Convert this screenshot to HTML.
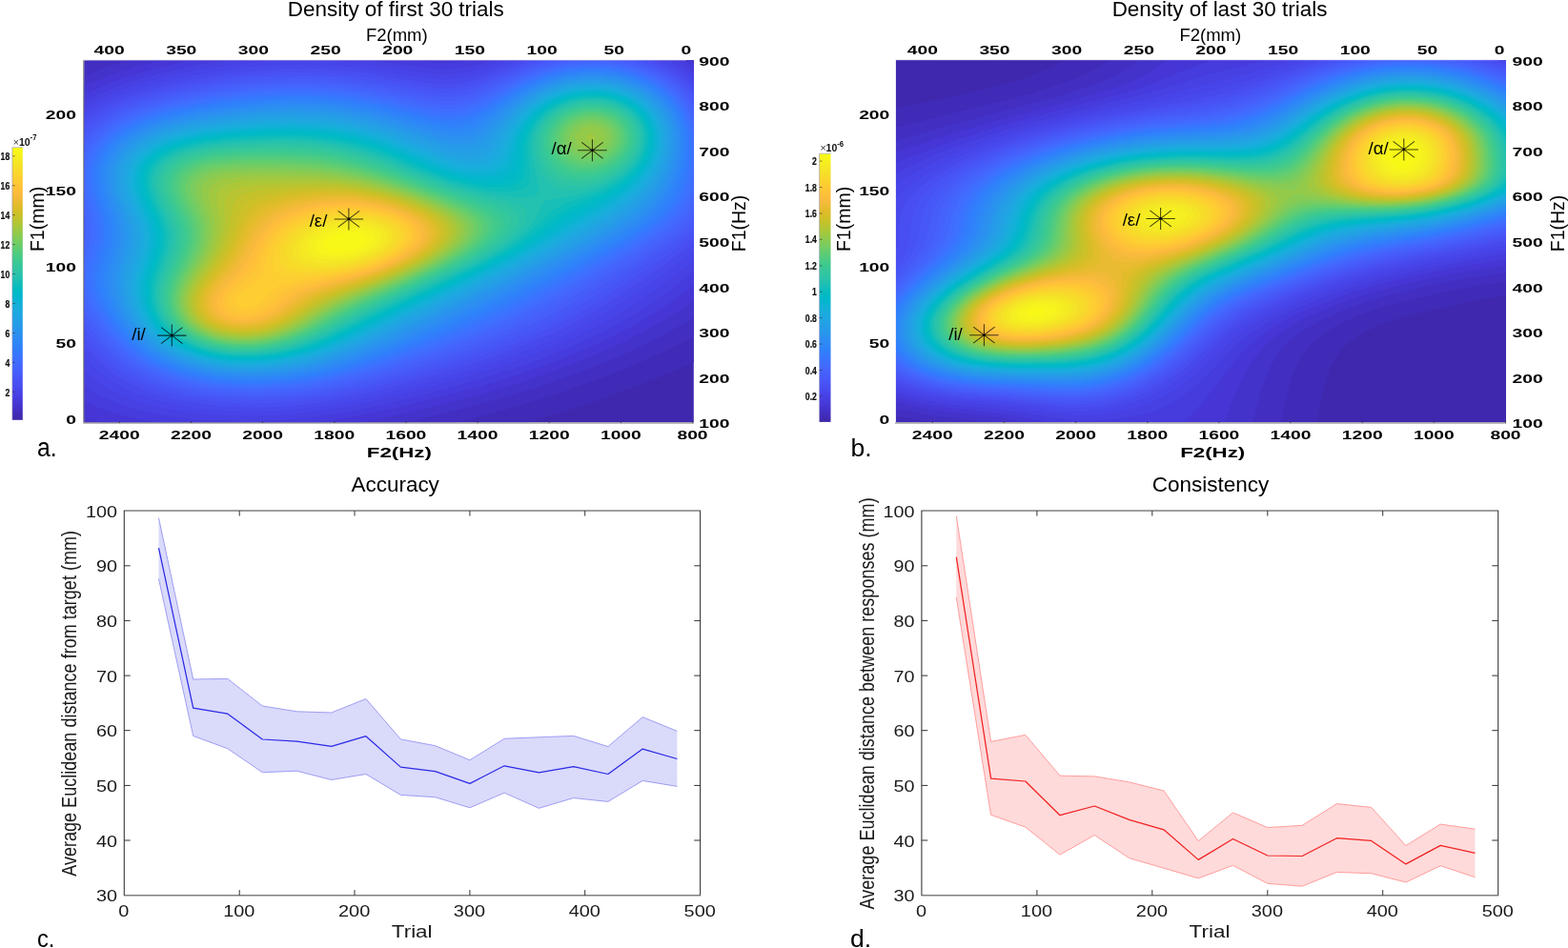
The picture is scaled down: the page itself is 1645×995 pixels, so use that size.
<!DOCTYPE html>
<html lang="en"><head><meta charset="utf-8"><title>Density, accuracy and consistency</title>
<style>html,body{margin:0;padding:0;background:#fff}body{width:1645px;height:995px;overflow:hidden}svg{display:block}text{font-family:'Liberation Sans', 'Noto Sans CJK SC', sans-serif;white-space:pre}</style></head>
<body>
<svg width="1645" height="995" viewBox="0 0 1645 995" role="img" aria-label="Density of first and last 30 trials, accuracy and consistency">
<rect width="1645" height="995" fill="#fff"/>
<g>
<rect x="88.4" y="63.3" width="639.4" height="379.9" fill="#3f28ae"/>
<svg x="88.4" y="63.3" width="639.4" height="379.9" viewBox="88.4 63.3 639.4 379.9" overflow="hidden"><g transform="scale(.5)" shape-rendering="auto" fill-rule="evenodd"><path fill="#402bb8" d="M177 127l1280 0 0 633 -40 18 -44 18 -44 17 -40 15 -36 13 -48 16 -52 16 -47 14 -929 0z"/><path fill="#422fc2" d="M184 131l10 -4 1263 0 0 579 -52 26 -52 24 -56 24 -64 24 -68 24 -68 21 -68 19 -72 19 -780 0 0 -754z"/><path fill="#4433cb" d="M256 131l13 -4 1188 0 0 538 -28 17 -28 16 -28 15 -32 16 -36 16 -36 16 -32 12 -40 15 -36 13 -44 15 -40 12 -44 13 -88 23 -96 23 -672 0 0 -727 40 -16z"/><path fill="#4536d5" d="M320 131l15 -4 1122 0 0 503 -30 21 -30 19 -32 18 -32 17 -40 20 -36 16 -36 15 -44 17 -44 16 -48 16 -52 16 -44 12 -60 16 -52 12 -52 12 -60 12 -7 2 -545 0 -20 -6 -16 -5 0 -695 36 -16 32 -12 36 -12z"/><path fill="#463bdc" d="M382 131l20 -4 471 0 36 4 28 1 28 -2 25 -3 448 0 19 12 0 459 -33 25 -31 22 -32 20 -30 18 -34 18 -40 19 -36 16 -40 17 -44 16 -44 16 -48 15 -44 13 -56 15 -64 16 -52 13 -56 12 -56 10 -48 8 -339 0 -37 -7 -36 -8 -32 -9 -28 -11 -20 -10 0 -644 20 -10 20 -9 24 -9 24 -9 28 -8 28 -8 32 -8z"/><path fill="#4740e3" d="M448 131l27 -4 313 0 101 14 24 3 24 1 24 -2 20 -2 24 -6 29 -8 385 0 20 12 18 13 0 418 -40 31 -32 23 -28 20 -31 19 -33 19 -32 17 -36 17 -36 16 -40 16 -44 17 -44 14 -44 14 -52 15 -60 17 -64 16 -48 11 -44 9 -40 7 -32 5 -36 5 -36 3 -40 3 -36 1 -36 0 -36 -2 -40 -2 -36 -4 -36 -5 -32 -6 -28 -7 -28 -9 -24 -9 -16 -7 -14 -7 -14 -10 -12 -9 0 -595 24 -13 28 -12 28 -11 36 -12 36 -10 40 -9 40 -9z"/><path fill="#4744e9" d="M531 131l34 -3 31 -1 70 0 35 1 40 4 36 4 116 17 24 3 20 0 26 -1 26 -5 28 -8 46 -15 339 0 15 8 16 10 12 8 12 10 0 384 -44 34 -40 29 -28 19 -28 19 -32 19 -32 18 -32 16 -32 15 -40 17 -40 15 -44 16 -40 13 -52 16 -52 15 -60 16 -52 12 -40 9 -40 8 -40 7 -36 5 -36 4 -36 3 -36 1 -36 0 -40 -1 -36 -2 -36 -4 -32 -5 -28 -6 -32 -7 -28 -9 -24 -10 -21 -10 -20 -12 -10 -8 -9 -8 -16 -15 0 -549 12 -7 16 -9 32 -15 20 -8 20 -7 44 -13 48 -12 56 -11 52 -8z"/><path fill="#4849ed" d="M1075 131l11 -4 299 0 20 9 20 12 16 12 16 14 0 354 -56 41 -64 45 -36 24 -32 20 -32 18 -32 17 -36 17 -36 15 -36 14 -40 15 -48 16 -60 18 -72 20 -60 16 -52 12 -44 9 -40 7 -40 5 -36 4 -40 2 -40 1 -36 -1 -40 -3 -36 -3 -32 -5 -36 -8 -28 -7 -24 -8 -24 -10 -20 -10 -20 -12 -18 -14 -17 -16 -17 -19 0 -508 4 -3 12 -7 16 -10 28 -13 16 -7 20 -7 36 -12 44 -11 48 -11 52 -9 48 -7 44 -4 48 -3 48 -1 44 2 44 3 40 5 36 5 68 11 24 3 24 3 20 0 12 -1 16 -2 25 -5 27 -9z"/><path fill="#484ef1" d="M1096 131l11 -4 261 0 25 11 12 6 12 7 20 16 10 8 10 10 0 325 -28 21 -36 26 -64 44 -40 27 -32 20 -28 16 -32 17 -32 16 -36 16 -36 15 -36 13 -44 16 -52 16 -64 19 -60 17 -60 15 -44 10 -40 7 -44 7 -36 4 -36 2 -40 1 -36 -1 -36 -1 -36 -4 -32 -5 -36 -7 -28 -7 -24 -8 -24 -10 -20 -10 -20 -12 -16 -11 -18 -16 -16 -16 -18 -21 0 -473 19 -14 25 -15 28 -13 32 -12 36 -11 44 -11 44 -10 52 -9 44 -6 44 -5 48 -2 48 -1 44 1 40 3 44 5 40 7 64 11 24 3 24 2 20 1 16 -1 12 -2 15 -3 13 -4 24 -8z"/><path fill="#4853f5" d="M1115 131l13 -4 223 0 14 5 16 7 16 8 13 8 15 10 11 10 13 11 8 9 0 299 -28 22 -36 26 -92 61 -52 34 -32 19 -32 17 -32 16 -32 15 -36 15 -36 14 -44 15 -40 13 -60 19 -60 17 -56 15 -40 10 -40 8 -40 7 -36 5 -40 3 -36 2 -36 0 -36 -1 -32 -3 -32 -4 -36 -6 -32 -8 -24 -7 -24 -9 -20 -9 -20 -11 -20 -13 -16 -13 -16 -16 -16 -16 -20 -25 0 -441 16 -13 16 -11 24 -13 28 -13 28 -10 36 -11 40 -10 48 -10 48 -9 40 -5 44 -5 48 -3 48 0 44 1 40 3 44 6 36 5 64 12 28 4 24 3 24 0 16 -2 12 -2 12 -2 16 -5 24 -9 60 -25z"/><path fill="#4758f8" d="M1134 131l15 -4 183 0 21 6 16 6 20 10 16 9 16 12 12 10 12 12 12 14 0 273 -14 12 -18 14 -40 28 -116 76 -56 34 -32 18 -34 18 -34 16 -36 15 -36 14 -44 16 -48 16 -52 17 -52 15 -48 14 -44 11 -36 8 -36 7 -36 5 -36 4 -36 2 -36 1 -32 0 -36 -3 -32 -3 -32 -5 -28 -6 -28 -7 -24 -9 -20 -8 -20 -10 -20 -12 -16 -11 -16 -14 -16 -16 -16 -17 -24 -30 0 -412 11 -10 10 -8 11 -8 16 -10 16 -9 12 -5 32 -13 36 -12 40 -10 52 -11 52 -9 52 -7 48 -4 36 -1 36 -1 36 1 32 2 36 4 40 5 32 6 60 11 28 5 28 2 16 0 12 -1 20 -4 24 -7 20 -8 68 -29 24 -9z"/><path fill="#465dfa" d="M1154 131l18 -4 139 0 22 5 20 7 20 8 16 8 18 12 16 12 12 12 11 12 11 15 0 245 -12 12 -18 16 -21 16 -25 17 -40 26 -100 62 -36 22 -28 16 -36 19 -32 15 -36 16 -40 17 -44 16 -48 16 -60 20 -52 16 -40 11 -36 9 -36 9 -36 7 -32 5 -32 4 -32 2 -32 2 -32 0 -32 -2 -32 -2 -32 -5 -28 -5 -28 -6 -28 -9 -20 -8 -20 -9 -20 -11 -16 -11 -16 -12 -16 -15 -16 -16 -13 -16 -27 -34 0 -383 10 -11 14 -12 16 -12 16 -10 24 -12 16 -7 16 -6 36 -12 44 -11 48 -10 56 -9 48 -6 48 -4 36 -2 36 0 36 1 32 3 32 3 36 5 36 6 64 13 24 4 28 2 16 0 12 -1 20 -3 12 -4 12 -4 20 -8 48 -22 28 -12 28 -10z"/><path fill="#4562fc" d="M1176 131l26 -4 80 0 23 3 20 5 16 5 16 5 16 8 16 8 12 8 13 10 11 9 10 11 12 16 10 15 0 216 -7 9 -7 8 -17 16 -21 16 -28 20 -40 26 -120 72 -40 24 -36 19 -32 16 -36 17 -36 15 -40 16 -48 17 -56 19 -52 17 -52 15 -32 9 -32 8 -32 7 -32 6 -28 4 -32 3 -32 2 -32 1 -32 -1 -32 -2 -32 -3 -28 -5 -24 -5 -28 -8 -24 -8 -24 -10 -20 -11 -16 -10 -16 -12 -16 -14 -16 -16 -14 -16 -16 -20 -22 -30 0 -353 7 -9 7 -8 8 -8 9 -8 10 -8 11 -7 20 -12 28 -13 32 -11 36 -11 40 -9 48 -9 52 -8 48 -6 48 -3 36 -1 32 0 32 1 36 3 32 4 32 5 32 6 64 13 24 4 16 2 12 1 16 0 12 -1 20 -4 12 -3 12 -5 20 -8 60 -29 32 -14 32 -10z"/><path fill="#4367fd" d="M1207 131l18 -2 16 0 16 0 16 1 16 2 16 3 16 3 16 5 16 6 12 5 12 6 12 7 11 8 10 8 11 9 10 11 6 8 9 12 6 12 5 9 0 181 -5 10 -6 8 -9 11 -8 9 -12 11 -11 9 -13 10 -16 11 -24 16 -28 17 -128 76 -48 27 -44 23 -33 16 -35 15 -36 14 -44 17 -56 20 -56 19 -52 16 -40 11 -32 9 -28 6 -32 6 -28 4 -32 3 -28 2 -28 1 -28 0 -32 -1 -28 -3 -28 -4 -28 -5 -28 -8 -20 -6 -24 -9 -20 -10 -16 -9 -18 -12 -15 -12 -17 -16 -17 -20 -16 -20 -21 -28 -12 -19 0 -128 4 -17 1 -16 -1 -16 -4 -22 0 -120 5 -10 9 -12 10 -12 9 -8 11 -9 12 -9 12 -7 16 -9 28 -12 28 -9 36 -10 44 -10 48 -9 52 -7 52 -6 44 -2 32 -1 32 1 32 1 32 3 32 4 32 5 32 7 60 12 28 5 16 2 12 1 12 0 12 -1 20 -4 12 -3 12 -5 20 -9 64 -32 20 -9 20 -8 20 -6 20 -5 20 -4z"/><path fill="#406dfe" d="M1209 135l16 -2 16 0 28 1 16 2 16 2 12 3 16 4 12 4 16 7 12 5 12 7 10 7 11 8 10 8 9 8 13 16 10 16 7 16 6 15 0 136 -5 13 -5 12 -7 12 -9 12 -11 12 -13 12 -15 12 -15 11 -24 16 -32 20 -136 78 -60 33 -52 26 -36 17 -36 15 -44 17 -44 16 -48 17 -48 16 -44 14 -36 10 -32 8 -32 7 -28 5 -28 3 -32 3 -28 2 -28 0 -28 -1 -28 -2 -28 -3 -32 -5 -24 -6 -24 -7 -24 -9 -20 -9 -20 -11 -16 -11 -16 -12 -16 -14 -14 -16 -17 -20 -20 -28 -15 -24 -8 -16 -2 -5 0 -73 8 -24 4 -14 2 -16 1 -12 -1 -12 -2 -12 -12 -53 0 -56 5 -15 5 -12 10 -16 11 -12 12 -12 13 -10 16 -10 20 -11 28 -11 32 -11 36 -9 40 -9 48 -8 52 -7 48 -5 44 -3 32 0 32 1 32 2 32 3 32 4 32 6 32 6 60 14 24 4 16 2 12 1 12 0 12 -1 20 -4 12 -3 12 -5 20 -10 42 -22 22 -12 20 -9 20 -8 20 -6 24 -7 20 -4z"/><path fill="#3c72ff" d="M1210 139l15 -2 16 0 28 1 16 2 16 3 12 2 16 5 24 9 12 5 12 7 12 8 11 8 9 8 8 8 13 16 5 8 7 12 5 12 3 8 5 20 2 17 0 48 -3 27 -5 20 -5 16 -6 12 -7 12 -9 12 -11 12 -12 12 -15 12 -15 11 -24 16 -32 19 -112 63 -80 44 -56 28 -36 17 -36 15 -40 17 -52 19 -48 18 -44 15 -40 13 -36 10 -28 7 -28 7 -32 5 -28 4 -28 3 -28 2 -28 0 -24 0 -28 -2 -28 -3 -28 -4 -28 -6 -24 -7 -24 -9 -20 -8 -19 -10 -17 -11 -16 -13 -14 -12 -15 -16 -17 -20 -17 -24 -12 -20 -11 -20 -5 -12 -3 -12 -2 -12 0 -12 0 -8 3 -12 12 -40 3 -12 2 -16 0 -12 -1 -12 -2 -12 -11 -44 -4 -20 -1 -12 0 -12 1 -12 2 -8 5 -16 6 -12 8 -12 10 -12 12 -12 15 -12 16 -10 16 -8 28 -12 28 -9 40 -11 40 -8 52 -9 52 -7 44 -4 44 -2 32 0 32 1 28 2 32 3 32 4 36 7 88 20 28 5 16 2 12 1 12 0 12 -1 12 -2 8 -3 12 -4 12 -5 16 -8 60 -34 20 -10 20 -8 24 -9 20 -6 24 -5z"/><path fill="#3677fe" d="M1210 143l15 -2 16 0 28 1 28 4 16 3 12 4 24 9 12 5 12 7 12 7 8 6 9 8 8 8 7 8 7 8 5 8 7 12 3 8 5 12 5 20 1 12 1 12 0 12 0 16 -3 28 -5 24 -6 16 -5 12 -6 12 -9 12 -10 12 -12 12 -13 12 -17 12 -16 11 -20 13 -52 30 -132 72 -36 19 -40 20 -36 17 -36 16 -44 19 -44 17 -52 20 -44 16 -36 12 -36 11 -32 9 -28 7 -24 4 -28 5 -28 3 -24 2 -28 2 -28 0 -28 -1 -28 -3 -28 -4 -24 -4 -28 -7 -24 -8 -20 -9 -20 -10 -16 -9 -16 -12 -16 -13 -13 -13 -14 -16 -15 -20 -15 -24 -11 -20 -7 -16 -4 -12 -3 -16 0 -12 1 -8 2 -12 11 -37 4 -15 1 -16 0 -12 -1 -12 -2 -12 -12 -44 -4 -20 -1 -12 0 -8 1 -12 1 -8 5 -16 5 -12 7 -12 10 -12 12 -12 14 -11 15 -9 17 -10 28 -11 28 -10 36 -9 44 -9 52 -9 48 -6 48 -4 44 -2 32 0 32 1 32 2 28 3 32 5 32 6 32 7 60 15 24 5 16 2 12 1 12 0 12 -1 12 -2 8 -2 12 -5 12 -5 16 -9 42 -25 18 -11 20 -10 20 -9 24 -9 20 -5 24 -5z"/><path fill="#317dfc" d="M1208 147l29 -2 28 0 28 4 24 6 24 8 12 5 12 6 12 7 8 6 10 8 8 8 8 8 6 8 11 16 4 8 5 12 2 8 3 12 2 12 1 12 0 24 -1 12 -2 16 -5 24 -5 16 -5 12 -9 16 -8 12 -10 12 -12 12 -14 12 -15 12 -14 9 -20 13 -48 27 -132 72 -72 37 -40 19 -36 16 -40 18 -44 18 -52 20 -40 16 -36 12 -36 12 -32 10 -28 7 -24 5 -28 5 -28 4 -24 2 -28 2 -24 1 -28 -1 -28 -2 -28 -3 -28 -5 -24 -6 -24 -7 -20 -8 -21 -9 -19 -11 -16 -11 -16 -14 -13 -12 -14 -16 -15 -20 -13 -20 -11 -20 -7 -16 -4 -12 -2 -12 -1 -16 1 -12 2 -12 10 -36 4 -16 1 -16 0 -12 -1 -12 -3 -12 -11 -40 -5 -20 -1 -12 -1 -8 1 -12 1 -8 4 -16 5 -12 7 -12 9 -12 12 -12 13 -10 15 -10 17 -9 12 -6 16 -6 28 -10 36 -9 40 -8 48 -8 56 -7 48 -4 44 -2 32 0 32 1 28 3 32 3 32 5 32 7 32 7 56 15 24 5 16 3 12 1 12 0 12 -1 12 -2 8 -2 12 -4 12 -6 16 -9 39 -25 20 -12 21 -12 20 -9 24 -9 20 -6 24 -6z"/><path fill="#2f82fa" d="M1206 151l27 -3 24 1 28 2 24 5 24 8 12 5 12 5 20 12 16 13 8 8 7 8 6 8 6 8 8 16 3 8 4 12 3 20 1 12 0 12 -1 24 -5 24 -4 16 -6 16 -7 16 -7 12 -9 12 -11 12 -12 12 -16 13 -15 11 -17 11 -44 26 -92 50 -92 47 -40 20 -40 19 -80 36 -48 20 -52 21 -40 15 -36 13 -32 11 -28 8 -24 6 -28 6 -28 4 -24 4 -24 2 -24 1 -32 0 -28 -1 -24 -2 -28 -4 -24 -4 -28 -8 -24 -8 -20 -8 -20 -11 -16 -10 -16 -12 -14 -12 -14 -16 -13 -16 -13 -20 -12 -20 -7 -16 -5 -12 -4 -16 -1 -12 0 -12 1 -12 4 -16 10 -36 3 -16 0 -12 -1 -12 -3 -16 -13 -44 -4 -20 -2 -12 0 -8 1 -16 3 -16 5 -12 7 -12 8 -12 12 -12 12 -10 15 -10 15 -8 26 -12 28 -9 36 -10 40 -8 52 -8 56 -7 48 -4 44 -2 32 1 32 1 32 3 28 4 32 5 32 7 32 8 56 15 24 5 16 3 12 1 12 0 12 -1 12 -2 8 -3 8 -3 12 -6 16 -9 42 -29 18 -12 20 -11 19 -9 21 -9 20 -6 24 -6z"/><path fill="#2e87f7" d="M1204 155l25 -3 24 0 24 2 24 4 24 7 20 8 18 10 18 12 14 12 7 8 7 8 10 16 7 16 4 16 3 20 1 20 -3 24 -4 20 -4 16 -6 16 -8 16 -8 13 -11 15 -11 12 -13 12 -15 12 -17 12 -19 12 -22 13 -60 32 -100 53 -88 43 -88 41 -100 43 -40 16 -36 14 -28 10 -28 9 -28 8 -24 6 -28 6 -24 4 -24 3 -24 2 -32 1 -28 0 -28 -1 -28 -3 -28 -5 -24 -5 -24 -8 -24 -9 -20 -9 -16 -10 -16 -11 -18 -15 -15 -16 -13 -16 -11 -16 -11 -20 -7 -16 -5 -12 -4 -16 -2 -12 0 -12 1 -16 3 -12 11 -40 2 -16 0 -12 -1 -12 -2 -13 -4 -15 -10 -32 -5 -20 -2 -12 0 -8 1 -16 2 -12 5 -12 6 -12 8 -12 11 -12 10 -8 14 -10 16 -9 24 -11 16 -6 16 -5 36 -10 40 -8 52 -8 56 -6 48 -4 44 -2 32 1 32 2 28 2 32 5 32 5 28 7 32 8 60 17 24 5 24 4 12 0 12 0 12 -3 8 -2 8 -3 12 -6 16 -10 40 -29 17 -12 20 -12 19 -10 20 -9 24 -8 20 -5z"/><path fill="#2d8bf4" d="M1201 159l20 -3 24 -1 24 2 20 3 20 4 20 6 19 9 17 9 14 11 13 12 11 12 5 8 5 8 7 16 5 16 3 16 0 20 -1 20 -4 20 -6 20 -6 16 -8 16 -7 12 -11 14 -12 13 -14 13 -14 11 -16 12 -16 10 -20 12 -28 16 -76 40 -96 49 -92 44 -108 49 -52 22 -40 16 -56 21 -24 8 -28 8 -28 7 -24 5 -24 4 -24 3 -32 3 -28 1 -28 -1 -32 -2 -28 -4 -24 -4 -24 -7 -24 -8 -20 -8 -20 -11 -20 -12 -15 -12 -16 -16 -13 -16 -11 -16 -12 -20 -9 -20 -6 -16 -3 -16 -1 -12 0 -12 3 -16 10 -40 3 -12 1 -16 0 -12 -2 -12 -3 -12 -13 -44 -5 -16 -1 -12 -1 -8 0 -16 2 -12 4 -12 6 -12 8 -12 11 -12 11 -10 12 -8 16 -10 24 -11 16 -6 16 -5 36 -9 40 -8 52 -7 56 -7 48 -3 44 -1 32 0 32 2 32 4 28 4 32 6 32 7 28 8 56 17 24 6 16 3 12 1 12 1 12 -1 12 -3 8 -2 8 -4 12 -6 16 -12 34 -26 16 -12 22 -15 20 -11 20 -9 20 -7 20 -6z"/><path fill="#2c90f0" d="M1198 163l23 -3 20 -1 20 1 20 2 20 4 20 5 16 7 17 9 15 9 13 11 12 12 9 12 7 12 7 16 4 16 2 16 0 16 -2 20 -3 16 -6 20 -7 16 -8 16 -8 13 -11 15 -12 12 -13 12 -15 12 -17 12 -18 12 -22 12 -60 33 -96 49 -96 47 -124 57 -56 25 -44 19 -32 12 -28 11 -24 8 -24 7 -24 7 -24 5 -24 5 -20 3 -28 3 -32 2 -32 0 -28 -2 -24 -2 -28 -5 -28 -6 -24 -8 -20 -8 -21 -10 -19 -12 -16 -12 -12 -12 -15 -16 -11 -16 -12 -20 -8 -16 -6 -16 -4 -16 -2 -12 0 -12 1 -16 4 -16 7 -28 3 -12 2 -12 0 -12 -1 -12 -3 -16 -4 -12 -12 -36 -4 -16 -2 -12 0 -8 0 -16 2 -12 4 -12 6 -12 9 -12 10 -11 11 -9 12 -8 13 -8 24 -11 16 -6 16 -5 32 -8 40 -8 52 -8 56 -6 48 -3 48 -1 32 0 28 2 32 4 28 4 32 6 32 8 32 9 56 18 24 6 16 3 12 2 12 0 12 -1 12 -2 8 -3 8 -4 8 -5 16 -12 32 -27 15 -12 21 -15 20 -12 20 -10 20 -8 24 -7z"/><path fill="#2994ed" d="M1230 163l23 -1 20 2 20 3 20 6 17 6 17 8 14 8 15 12 12 12 10 12 7 12 7 16 4 16 2 16 0 16 -2 16 -3 16 -5 16 -6 16 -8 16 -9 15 -10 13 -10 12 -12 11 -12 10 -16 12 -16 11 -19 12 -45 25 -76 40 -80 40 -96 45 -136 63 -43 19 -37 15 -48 18 -24 8 -24 7 -20 5 -24 6 -20 3 -24 4 -28 2 -28 2 -28 -1 -28 -1 -24 -3 -28 -5 -24 -6 -24 -8 -20 -8 -20 -10 -16 -11 -16 -12 -14 -13 -13 -16 -12 -16 -9 -16 -9 -20 -5 -16 -3 -16 -2 -16 1 -12 2 -12 3 -12 7 -28 3 -16 2 -16 -1 -12 -2 -12 -3 -12 -14 -40 -5 -20 -2 -12 -1 -8 1 -16 2 -12 4 -12 7 -12 7 -10 9 -10 11 -9 12 -9 16 -9 24 -10 16 -6 16 -4 36 -9 40 -7 56 -8 52 -5 48 -3 44 0 32 1 28 2 32 4 28 5 28 6 32 8 28 9 60 19 24 7 16 3 12 2 12 0 8 -1 12 -2 8 -2 8 -4 8 -5 16 -12 36 -33 19 -16 23 -16 21 -12 25 -11 14 -5 14 -4 12 -3 16 -3z"/><path fill="#2699ea" d="M1220 167l21 -1 20 0 20 3 20 4 20 6 16 7 16 9 12 8 14 12 10 11 8 13 6 12 6 16 3 16 1 16 -1 16 -3 16 -4 16 -6 16 -8 16 -9 16 -9 12 -10 12 -12 12 -14 12 -12 9 -16 11 -18 12 -46 26 -68 36 -72 36 -76 36 -180 84 -44 20 -33 14 -47 18 -24 8 -20 6 -40 10 -20 4 -24 4 -28 3 -28 1 -28 0 -28 -1 -28 -3 -24 -5 -20 -4 -24 -8 -20 -8 -20 -9 -16 -10 -16 -12 -15 -14 -13 -15 -12 -17 -9 -16 -8 -16 -5 -16 -4 -16 -1 -16 0 -12 2 -16 11 -40 3 -16 1 -12 0 -12 -2 -12 -3 -12 -15 -44 -5 -16 -2 -12 -1 -8 0 -16 2 -12 3 -12 6 -12 9 -12 10 -11 12 -9 12 -8 12 -7 24 -11 16 -5 16 -5 32 -7 44 -8 56 -8 52 -5 48 -2 44 0 32 1 28 3 32 4 28 5 28 6 32 9 28 9 60 20 24 7 16 4 12 1 12 1 8 -1 12 -2 8 -3 8 -4 8 -5 8 -6 8 -7 31 -32 18 -16 20 -16 23 -14 24 -12 24 -8 24 -6 12 -3z"/><path fill="#259de7" d="M1214 171l19 -2 20 0 20 2 20 3 20 6 16 6 16 8 12 8 12 9 11 12 10 12 7 12 5 12 4 16 2 12 0 16 -1 12 -4 16 -4 16 -7 16 -8 16 -10 16 -9 12 -12 13 -12 11 -12 10 -16 12 -16 10 -40 24 -66 36 -66 34 -64 31 -224 104 -64 29 -48 19 -40 14 -40 10 -20 4 -20 4 -28 3 -28 3 -28 0 -24 -1 -24 -2 -28 -4 -24 -5 -24 -7 -20 -7 -20 -9 -16 -10 -16 -11 -16 -14 -12 -13 -12 -16 -9 -16 -10 -20 -5 -16 -3 -16 -1 -16 0 -12 3 -16 10 -40 3 -12 1 -16 0 -12 -2 -12 -3 -12 -16 -44 -4 -16 -3 -12 -1 -8 0 -16 2 -12 4 -12 6 -11 6 -9 10 -11 11 -9 12 -8 13 -8 12 -5 12 -5 16 -6 16 -4 36 -9 40 -6 56 -8 56 -5 48 -2 44 1 32 2 28 2 28 5 28 5 28 7 32 9 28 9 56 20 28 9 16 3 12 2 12 1 12 -1 8 -2 8 -3 8 -4 8 -5 12 -11 31 -35 16 -16 19 -16 11 -8 11 -7 12 -7 12 -6 24 -10 24 -6z"/><path fill="#23a1e4" d="M1209 175l20 -2 20 -1 20 2 16 2 20 5 16 6 16 7 14 9 14 10 10 10 9 12 8 12 5 12 4 16 2 16 -1 16 -2 16 -3 12 -6 16 -7 16 -10 16 -8 12 -10 12 -11 12 -12 10 -12 10 -16 11 -16 11 -44 26 -67 36 -57 29 -60 29 -244 115 -56 25 -44 17 -40 14 -36 9 -20 5 -20 3 -28 4 -24 1 -28 1 -24 -1 -28 -2 -24 -4 -20 -4 -24 -7 -20 -7 -20 -10 -17 -9 -15 -11 -15 -13 -11 -12 -12 -16 -10 -16 -7 -16 -7 -20 -3 -16 0 -16 0 -12 2 -12 3 -12 9 -32 2 -12 1 -16 0 -12 -2 -12 -3 -12 -16 -44 -5 -16 -3 -12 -1 -8 0 -8 1 -8 2 -12 4 -12 7 -12 6 -8 7 -8 11 -10 12 -8 12 -6 12 -6 12 -5 16 -5 16 -5 36 -8 40 -7 56 -6 56 -5 48 -2 44 1 28 1 28 3 28 5 28 5 28 7 32 10 28 10 60 22 28 9 16 3 12 2 12 1 12 -1 8 -2 8 -2 8 -5 8 -5 12 -12 28 -35 14 -16 17 -16 10 -8 11 -8 21 -12 23 -11 24 -8 12 -3z"/><path fill="#20a5e2" d="M1204 179l21 -3 20 -1 20 2 16 2 20 4 16 6 16 7 16 9 12 10 12 12 9 12 7 12 4 12 4 16 1 16 -1 16 -2 12 -5 16 -6 16 -7 13 -8 12 -11 15 -10 12 -13 12 -14 12 -12 9 -16 11 -16 10 -45 26 -74 40 -49 25 -52 25 -132 62 -127 60 -49 22 -40 16 -36 12 -36 10 -36 7 -24 3 -28 2 -28 1 -24 -1 -28 -2 -24 -4 -24 -5 -20 -6 -20 -8 -16 -7 -16 -10 -16 -11 -13 -11 -12 -12 -12 -16 -9 -16 -7 -16 -6 -16 -3 -16 -1 -16 1 -12 2 -16 11 -40 3 -16 1 -16 0 -12 -2 -12 -3 -12 -17 -44 -5 -16 -3 -16 0 -16 1 -12 4 -12 6 -12 6 -8 7 -8 11 -10 9 -6 13 -8 14 -7 12 -5 28 -9 36 -8 40 -6 60 -7 56 -5 48 -1 44 1 28 2 28 3 28 4 28 6 28 8 32 10 26 10 58 22 28 9 16 4 16 3 12 0 12 0 11 -2 9 -4 8 -4 8 -7 5 -5 7 -10 21 -30 13 -16 11 -12 8 -8 19 -15 21 -13 11 -6 12 -5 24 -8z"/><path fill="#1da9e0" d="M1201 183l20 -3 20 -1 20 0 16 2 20 5 16 5 16 7 16 9 12 9 12 12 8 11 8 14 5 14 2 12 1 16 -1 16 -3 15 -4 13 -7 16 -7 12 -8 12 -10 13 -12 13 -12 11 -12 10 -12 9 -32 21 -47 27 -81 44 -46 24 -46 22 -141 66 -131 62 -38 18 -38 15 -36 12 -36 10 -32 6 -24 4 -28 2 -24 1 -24 -1 -24 -1 -24 -4 -24 -5 -20 -5 -20 -7 -16 -7 -16 -9 -17 -11 -15 -12 -11 -12 -10 -12 -10 -16 -7 -16 -6 -16 -3 -12 -1 -8 -1 -16 1 -12 3 -16 11 -40 3 -16 1 -16 0 -12 -2 -12 -4 -12 -17 -44 -5 -16 -3 -16 0 -8 0 -8 2 -12 2 -8 5 -11 6 -9 7 -8 8 -8 11 -8 13 -8 11 -6 12 -5 15 -5 14 -4 35 -8 40 -7 60 -7 56 -4 48 -2 44 1 28 2 28 4 28 5 28 6 28 7 28 9 28 11 60 24 32 10 16 5 16 2 16 1 12 -1 8 -1 8 -3 8 -5 8 -6 6 -7 6 -8 19 -32 14 -20 14 -16 9 -8 9 -8 19 -13 12 -7 12 -6 12 -4 12 -5z"/><path fill="#19addc" d="M1224 183l21 -1 20 1 20 3 16 4 16 6 16 8 12 8 13 11 11 12 8 12 5 12 4 12 2 12 0 16 -2 16 -4 16 -5 12 -5 12 -8 12 -8 12 -10 12 -9 9 -12 11 -14 12 -26 17 -30 19 -100 56 -52 28 -70 34 -132 62 -134 64 -42 18 -36 15 -32 10 -36 9 -32 6 -24 3 -24 1 -24 1 -24 -1 -20 -2 -24 -3 -24 -6 -20 -6 -20 -7 -16 -8 -16 -10 -12 -8 -14 -12 -11 -12 -9 -12 -10 -16 -6 -16 -5 -16 -3 -16 0 -16 1 -12 2 -16 12 -40 2 -12 2 -16 0 -12 -2 -12 -4 -16 -18 -44 -5 -16 -3 -16 0 -8 0 -8 2 -12 2 -8 6 -12 6 -8 7 -8 9 -8 11 -8 12 -7 12 -5 12 -5 16 -5 16 -5 36 -7 40 -6 56 -6 56 -4 48 -1 44 2 28 2 28 4 24 4 26 7 30 8 28 10 26 10 58 23 32 11 20 6 16 2 16 2 12 -1 12 -2 8 -3 8 -5 8 -7 8 -11 20 -39 13 -20 9 -12 8 -8 8 -8 10 -8 12 -8 13 -8 15 -7 12 -5 12 -4 16 -4 12 -3z"/><path fill="#14b0d8" d="M1217 187l20 -2 20 1 20 2 16 4 16 5 16 7 16 10 11 9 11 12 9 12 6 12 3 12 2 12 1 16 -2 12 -4 16 -4 12 -6 12 -7 11 -8 11 -8 10 -12 13 -12 11 -12 9 -20 14 -28 17 -118 68 -44 24 -34 17 -36 17 -131 62 -137 65 -40 19 -32 12 -33 12 -31 8 -32 6 -24 3 -24 2 -24 1 -24 -1 -24 -2 -20 -3 -20 -4 -20 -5 -20 -7 -16 -8 -16 -9 -15 -9 -14 -12 -11 -12 -9 -12 -7 -12 -8 -16 -5 -16 -3 -16 -1 -16 1 -12 3 -16 12 -44 3 -12 2 -16 0 -12 -2 -12 -5 -16 -17 -44 -6 -16 -3 -16 0 -8 0 -8 2 -12 3 -8 4 -8 5 -8 7 -8 9 -8 11 -8 12 -7 12 -6 12 -5 28 -9 36 -7 40 -6 56 -6 56 -4 48 0 44 1 28 3 24 3 28 6 24 5 28 8 28 10 28 11 64 26 32 11 20 6 16 2 16 2 16 -1 12 -3 8 -3 9 -5 7 -7 4 -6 4 -7 15 -36 11 -20 8 -12 7 -8 11 -12 10 -8 11 -8 11 -7 12 -7 12 -5 12 -4 12 -4 12 -3z"/><path fill="#0cb3d3" d="M1212 191l17 -2 20 -1 20 2 16 3 16 5 16 6 16 9 13 10 12 12 9 12 6 12 4 12 2 12 0 16 -2 14 -4 14 -5 12 -6 12 -8 12 -6 8 -10 12 -9 8 -12 11 -12 9 -16 11 -20 13 -68 38 -70 42 -44 24 -31 16 -35 17 -143 67 -124 60 -37 17 -32 13 -32 11 -32 8 -28 6 -24 3 -24 2 -24 1 -20 0 -24 -2 -20 -3 -20 -4 -20 -5 -20 -7 -16 -7 -16 -9 -13 -8 -11 -10 -12 -12 -12 -14 -7 -12 -8 -16 -4 -16 -3 -16 -1 -16 1 -12 3 -16 12 -40 4 -16 2 -16 -1 -12 -2 -12 -4 -16 -17 -40 -5 -16 -4 -16 -1 -8 0 -8 2 -12 2 -8 4 -8 7 -12 8 -8 8 -7 8 -6 12 -7 12 -6 12 -5 12 -4 16 -4 16 -4 20 -4 40 -5 56 -6 56 -3 48 -1 44 2 32 4 28 4 28 6 28 8 24 8 24 9 89 37 23 8 16 4 20 5 16 2 16 1 12 -1 12 -3 8 -3 8 -5 8 -8 4 -6 4 -9 13 -37 5 -12 4 -8 8 -12 6 -8 7 -8 8 -8 9 -8 12 -8 12 -8 9 -4 15 -6 12 -4 12 -4z"/><path fill="#05b6cd" d="M1207 195l18 -3 20 0 20 1 16 3 16 4 16 6 16 8 12 9 12 12 8 10 7 14 4 12 2 12 0 8 0 8 -3 16 -5 16 -5 11 -5 9 -7 10 -8 10 -8 9 -12 11 -20 16 -12 8 -16 10 -72 40 -82 50 -50 28 -60 29 -150 71 -115 56 -35 16 -32 13 -28 9 -28 8 -32 7 -24 3 -24 2 -24 0 -20 0 -20 -2 -20 -3 -20 -4 -20 -5 -20 -8 -16 -7 -16 -9 -12 -8 -12 -11 -9 -9 -10 -12 -7 -12 -7 -16 -5 -16 -3 -16 0 -16 1 -12 3 -16 13 -40 3 -16 2 -16 0 -12 -2 -12 -5 -16 -17 -40 -5 -16 -4 -16 -1 -8 0 -8 2 -12 3 -8 3 -8 6 -8 6 -8 9 -8 12 -8 8 -5 12 -6 12 -4 12 -4 16 -5 32 -6 40 -6 56 -5 56 -4 48 0 44 2 32 4 28 4 28 7 28 7 24 8 24 9 64 28 28 11 20 7 20 6 20 4 16 2 16 1 16 -1 12 -2 10 -4 6 -4 5 -4 3 -4 5 -8 3 -8 9 -36 4 -12 3 -8 7 -12 5 -8 9 -12 8 -8 9 -8 11 -8 11 -7 9 -5 11 -5 12 -5 12 -3z"/><path fill="#01b9c8" d="M1204 199l17 -3 20 -1 20 1 16 2 20 5 16 7 15 9 11 8 12 12 8 12 6 12 3 12 2 12 0 8 -1 8 -3 12 -5 15 -4 9 -7 12 -13 16 -16 16 -20 16 -16 11 -16 9 -56 30 -20 11 -79 51 -27 16 -29 16 -57 28 -153 72 -114 56 -33 15 -28 11 -28 10 -28 8 -28 6 -24 3 -20 2 -24 1 -20 -1 -20 -1 -20 -3 -20 -4 -20 -5 -16 -6 -16 -6 -16 -9 -14 -9 -10 -8 -12 -12 -10 -12 -7 -12 -6 -12 -5 -16 -3 -16 -1 -16 1 -12 4 -16 3 -12 10 -32 4 -16 2 -16 0 -12 -2 -12 -5 -16 -17 -40 -6 -16 -4 -16 -1 -8 0 -8 2 -12 3 -8 4 -8 6 -8 4 -5 8 -7 11 -8 9 -6 12 -5 12 -5 13 -4 15 -4 32 -7 40 -5 60 -6 56 -2 44 0 24 1 20 1 28 4 28 4 28 7 28 8 20 7 24 9 92 38 24 9 20 5 20 5 20 3 20 2 16 -1 12 -2 11 -4 5 -3 4 -4 5 -5 4 -8 3 -8 7 -40 3 -12 3 -8 6 -12 4 -8 9 -12 7 -8 9 -8 10 -8 10 -7 9 -5 11 -5 12 -5 12 -4z"/><path fill="#03bbc2" d="M1227 199l18 -1 16 1 20 3 15 5 17 7 12 7 12 9 8 9 9 12 6 12 3 12 2 12 -1 12 -2 12 -5 16 -6 12 -11 16 -14 16 -17 15 -16 11 -12 8 -16 9 -56 27 -20 11 -20 13 -42 30 -24 16 -34 20 -37 20 -59 29 -152 71 -97 48 -31 14 -28 12 -28 9 -28 7 -28 6 -20 3 -24 1 -20 1 -20 -1 -20 -1 -20 -3 -20 -5 -20 -5 -16 -6 -16 -8 -15 -8 -11 -8 -10 -9 -11 -11 -9 -12 -6 -12 -6 -12 -4 -16 -2 -16 0 -16 2 -12 2 -12 15 -44 3 -12 2 -16 0 -12 -1 -12 -4 -16 -5 -12 -16 -36 -5 -16 -2 -8 -1 -8 0 -12 1 -8 2 -8 4 -8 5 -8 7 -8 9 -8 8 -6 12 -6 12 -6 12 -4 12 -4 16 -4 32 -6 40 -5 56 -4 52 -3 44 1 24 1 20 1 28 4 28 5 28 6 24 7 20 7 24 9 73 31 23 9 24 8 24 7 24 6 24 3 20 1 16 -1 12 -2 8 -3 4 -2 7 -6 5 -7 2 -5 3 -8 1 -8 3 -36 3 -12 2 -8 5 -12 6 -12 6 -8 9 -11 10 -9 11 -8 11 -7 12 -6 12 -5 16 -5 16 -4z"/><path fill="#0cbdbc" d="M1220 203l17 -2 20 1 16 2 16 4 16 6 12 6 12 8 11 11 6 8 7 12 5 12 2 12 0 12 -2 12 -2 8 -3 8 -5 12 -11 16 -10 12 -14 13 -16 12 -16 10 -16 8 -20 9 -44 19 -20 10 -20 14 -41 33 -29 20 -32 20 -37 20 -61 30 -150 70 -94 47 -28 13 -29 12 -27 9 -26 7 -26 5 -24 3 -20 2 -20 0 -20 0 -20 -2 -20 -3 -20 -4 -16 -5 -16 -6 -14 -6 -14 -8 -12 -8 -12 -10 -10 -10 -9 -12 -7 -12 -5 -12 -4 -16 -2 -16 1 -16 1 -12 3 -12 14 -40 4 -16 3 -16 0 -12 -1 -12 -5 -16 -4 -12 -17 -36 -5 -16 -2 -8 -1 -8 0 -12 1 -8 3 -8 4 -8 6 -8 4 -5 8 -7 8 -6 11 -6 9 -5 12 -4 12 -4 16 -5 32 -6 40 -5 56 -4 52 -2 48 0 40 3 28 4 28 5 28 6 24 7 20 7 24 9 70 30 26 10 27 10 25 7 28 6 24 4 20 1 20 -1 12 -2 8 -3 4 -2 7 -6 5 -8 2 -8 1 -8 0 -40 2 -12 1 -8 4 -12 5 -12 7 -12 6 -8 8 -9 12 -10 12 -8 10 -5 14 -7 12 -4 12 -3z"/><path fill="#18bfb6" d="M1216 207l17 -2 20 0 16 2 16 3 16 6 12 6 12 8 9 9 7 8 7 12 5 12 2 12 0 12 -2 14 -5 14 -6 12 -9 13 -12 13 -12 11 -16 11 -20 12 -20 9 -20 8 -44 15 -12 5 -8 4 -8 5 -8 7 -37 35 -14 12 -16 12 -18 12 -19 12 -44 24 -60 29 -143 67 -93 46 -29 14 -27 10 -24 9 -24 6 -28 6 -20 2 -20 2 -20 1 -20 -1 -20 -2 -16 -2 -20 -4 -16 -5 -16 -5 -16 -8 -12 -6 -12 -8 -12 -11 -9 -8 -9 -12 -7 -12 -5 -12 -4 -16 -2 -12 1 -16 1 -12 4 -16 14 -40 5 -16 2 -16 1 -12 -2 -12 -4 -16 -5 -12 -15 -32 -6 -16 -3 -16 -1 -12 1 -8 2 -8 4 -8 5 -8 7 -8 5 -4 11 -8 9 -5 20 -9 12 -4 16 -4 32 -6 40 -5 56 -4 56 -1 44 0 40 4 28 3 24 5 24 6 28 8 40 14 70 30 30 11 28 10 28 8 28 7 28 5 16 1 12 1 20 -1 12 -2 9 -4 7 -6 4 -6 2 -8 1 -8 -1 -12 -3 -32 0 -12 0 -8 2 -12 4 -12 6 -12 5 -8 10 -12 8 -8 11 -8 11 -7 12 -6 12 -5 12 -3z"/><path fill="#22c1b0" d="M1213 211l16 -2 16 -1 16 1 16 3 16 5 13 6 13 8 10 8 8 9 6 11 5 12 2 12 0 12 -2 12 -2 8 -3 8 -7 12 -6 8 -6 8 -7 7 -8 7 -8 6 -12 8 -20 11 -20 8 -24 8 -28 6 -41 7 -7 1 -5 3 -3 2 -4 6 -9 20 -8 12 -6 8 -7 8 -12 12 -20 16 -23 16 -27 16 -30 16 -62 30 -141 66 -87 44 -32 15 -24 9 -24 8 -24 7 -24 5 -20 3 -20 1 -20 1 -20 -1 -20 -1 -16 -3 -20 -4 -15 -4 -17 -7 -13 -5 -14 -8 -12 -8 -9 -9 -11 -11 -6 -8 -7 -12 -5 -12 -4 -16 -2 -12 1 -16 2 -12 4 -16 15 -40 4 -16 3 -16 0 -12 -1 -12 -5 -16 -6 -16 -13 -28 -6 -16 -2 -8 -2 -8 0 -12 1 -8 2 -8 4 -8 6 -8 8 -8 5 -4 7 -5 8 -5 12 -5 12 -5 24 -6 32 -6 36 -4 56 -4 56 -2 44 1 40 4 28 4 24 4 24 6 24 7 40 14 80 33 28 11 32 11 32 9 36 8 36 6 32 3 12 0 12 -1 8 -2 4 -2 2 -2 2 -4 1 -4 -1 -8 -1 -8 -10 -44 -2 -12 -1 -12 0 -12 2 -12 3 -12 4 -8 7 -12 6 -8 12 -11 12 -9 12 -7 12 -5 12 -5z"/><path fill="#29c3a9" d="M1211 215l14 -3 12 0 16 0 12 1 12 3 12 3 12 6 10 6 10 7 8 8 7 9 4 8 3 8 2 12 0 8 -1 12 -3 11 -4 9 -7 12 -6 8 -7 8 -12 10 -8 6 -12 8 -12 6 -16 7 -12 4 -16 4 -16 3 -12 1 -12 0 -12 -1 -12 -3 -8 -5 -4 -3 -8 -10 -8 -13 -8 -19 -6 -19 -1 -12 -1 -8 1 -8 1 -8 3 -12 6 -12 8 -12 12 -12 10 -8 15 -9 16 -6zM562 299l31 -1 28 1 24 1 24 2 24 3 24 5 21 5 23 6 20 6 24 9 97 39 47 16 44 13 75 19 17 5 7 3 5 3 5 5 3 4 1 4 0 4 -1 8 -3 8 -5 8 -6 8 -12 12 -9 8 -16 12 -18 12 -20 12 -30 16 -40 20 -155 72 -33 16 -70 36 -35 15 -28 10 -28 8 -28 5 -28 3 -28 1 -28 -1 -28 -4 -24 -6 -20 -7 -16 -7 -15 -9 -13 -10 -11 -10 -9 -12 -8 -12 -3 -8 -3 -8 -3 -12 -1 -12 1 -12 1 -12 6 -20 13 -36 6 -16 3 -16 1 -12 0 -8 -1 -8 -5 -16 -5 -12 -16 -36 -6 -16 -2 -12 -1 -8 1 -8 2 -8 3 -8 6 -8 7 -8 8 -7 9 -5 11 -6 12 -5 12 -4 28 -6 36 -5 48 -4z"/><path fill="#2fc5a3" d="M1209 219l12 -3 12 -1 12 0 12 1 12 2 12 3 12 4 8 4 9 6 7 5 7 7 6 8 5 8 3 8 2 8 0 12 0 8 -3 11 -4 9 -4 8 -5 8 -7 8 -8 8 -12 9 -12 8 -12 6 -12 6 -12 4 -12 3 -12 2 -12 1 -12 0 -8 -1 -8 -1 -12 -4 -8 -5 -4 -3 -10 -9 -6 -8 -4 -8 -4 -8 -4 -10 -3 -10 -1 -8 -1 -8 0 -8 1 -8 2 -8 5 -12 7 -12 10 -11 11 -9 13 -8 16 -7zM489 307l40 -3 40 -1 36 0 32 2 28 2 28 4 28 5 27 7 29 8 28 10 95 38 37 13 40 13 64 19 20 7 8 4 7 4 5 4 3 4 2 4 2 4 0 4 -1 8 -4 8 -5 8 -6 8 -13 12 -10 8 -17 12 -33 20 -30 16 -32 16 -48 22 -108 50 -32 16 -62 32 -35 16 -27 10 -24 7 -28 6 -28 3 -28 2 -24 -1 -28 -3 -24 -6 -20 -6 -16 -7 -16 -9 -13 -8 -13 -12 -10 -12 -7 -12 -3 -8 -3 -8 -2 -8 -2 -12 0 -12 2 -12 3 -12 3 -12 15 -36 5 -16 4 -16 1 -8 0 -8 -2 -12 -4 -16 -7 -16 -13 -28 -6 -16 -2 -8 -2 -8 0 -12 2 -8 3 -8 3 -5 5 -7 7 -7 6 -5 7 -4 11 -6 20 -8 12 -3 15 -3 29 -5z"/><path fill="#34c79c" d="M1240 219l13 0 12 2 9 2 11 3 10 5 7 4 7 4 9 8 3 4 6 8 4 8 2 8 2 8 0 8 -2 12 -2 8 -4 8 -4 8 -6 8 -8 8 -8 7 -8 6 -8 6 -12 6 -12 5 -12 4 -12 2 -12 2 -12 1 -8 -1 -12 -2 -8 -2 -12 -6 -7 -4 -5 -5 -10 -11 -5 -8 -4 -8 -5 -15 -3 -13 0 -8 1 -8 3 -12 6 -12 9 -12 12 -12 12 -8 16 -7 16 -5 16 -3zM499 311l42 -2 40 -1 32 1 32 1 28 3 28 4 25 6 27 6 24 8 24 8 119 46 37 13 64 21 24 9 8 5 7 4 4 4 4 4 2 4 2 4 1 4 -1 8 -3 8 -5 8 -7 8 -8 8 -10 8 -16 12 -12 8 -21 12 -29 16 -36 17 -44 21 -109 50 -32 16 -62 32 -16 8 -19 8 -26 9 -24 7 -24 4 -28 4 -28 1 -24 -1 -24 -3 -24 -5 -20 -7 -16 -7 -16 -9 -12 -9 -13 -12 -9 -12 -6 -12 -4 -12 -2 -8 -2 -12 1 -12 1 -12 3 -12 4 -12 15 -36 6 -16 3 -16 1 -8 0 -8 -1 -12 -4 -16 -7 -16 -13 -28 -6 -16 -3 -8 -1 -8 1 -12 1 -8 4 -8 3 -5 6 -7 6 -6 8 -6 8 -4 8 -4 11 -4 13 -4 24 -5 28 -4z"/><path fill="#3ac994" d="M1233 223l20 0 12 2 9 2 11 3 8 4 8 5 8 6 6 6 6 7 4 8 2 5 2 8 1 8 -1 8 -1 8 -3 8 -4 8 -5 8 -6 8 -5 5 -8 7 -8 5 -12 7 -8 4 -12 5 -8 2 -12 2 -12 2 -8 0 -12 -1 -8 -2 -12 -4 -12 -7 -11 -9 -9 -12 -6 -12 -4 -12 -2 -8 0 -8 1 -12 4 -12 7 -12 4 -5 7 -7 9 -8 14 -8 14 -6 16 -4zM515 315l42 -2 36 1 32 1 28 2 28 3 28 4 24 6 28 7 24 8 28 9 94 37 90 32 30 12 8 4 10 6 6 6 4 4 2 4 1 4 1 4 -1 8 -3 8 -5 8 -7 8 -9 8 -9 8 -17 12 -33 20 -34 17 -40 20 -144 65 -26 14 -61 32 -17 8 -16 6 -24 9 -24 7 -24 4 -28 4 -28 0 -24 -1 -24 -4 -24 -5 -16 -6 -16 -8 -16 -9 -12 -9 -8 -9 -9 -11 -6 -12 -5 -12 -2 -8 -1 -12 1 -12 1 -12 2 -8 4 -12 18 -40 5 -16 4 -16 1 -8 0 -8 -1 -12 -4 -16 -7 -16 -13 -28 -6 -16 -2 -8 -2 -8 1 -12 2 -8 4 -8 6 -8 4 -4 5 -4 8 -6 8 -4 12 -5 20 -6 28 -6 32 -3z"/><path fill="#41ca8c" d="M1232 227l18 0 11 1 8 2 16 5 8 4 8 5 7 7 4 4 5 7 2 5 2 4 2 8 1 8 0 8 -2 8 -3 8 -7 12 -6 8 -5 5 -8 7 -8 5 -16 9 -8 3 -12 3 -12 3 -8 0 -12 0 -8 -1 -8 -1 -8 -3 -12 -6 -11 -8 -9 -10 -4 -6 -4 -8 -4 -12 -2 -12 2 -12 3 -12 5 -8 4 -6 5 -6 10 -8 13 -8 12 -6 16 -4zM467 323l34 -3 44 -1 44 0 40 1 32 3 28 3 28 5 32 8 32 10 36 12 164 62 29 12 8 4 11 6 7 6 4 4 3 4 2 4 1 4 0 4 -1 8 -3 8 -6 8 -7 8 -9 8 -10 8 -11 8 -12 8 -21 12 -33 17 -40 20 -139 63 -29 14 -56 30 -16 8 -19 8 -25 9 -24 6 -24 5 -24 3 -24 1 -24 -1 -24 -4 -20 -4 -16 -5 -16 -7 -14 -7 -14 -11 -11 -9 -9 -12 -7 -12 -4 -12 -2 -8 -1 -12 1 -12 2 -12 2 -8 4 -12 18 -40 6 -16 4 -16 1 -8 0 -8 -1 -12 -3 -12 -6 -16 -15 -32 -5 -12 -3 -12 -1 -12 1 -8 1 -4 3 -8 3 -4 3 -4 7 -7 12 -8 16 -8 18 -5 22 -5z"/><path fill="#4bcb84" d="M1234 231l11 -1 8 1 8 1 10 3 10 3 8 4 7 5 5 4 4 4 6 8 2 4 3 8 2 12 -1 12 -2 8 -4 8 -9 12 -5 5 -8 7 -12 7 -16 7 -16 5 -12 1 -8 0 -8 0 -8 -1 -12 -4 -12 -6 -8 -5 -4 -4 -7 -8 -5 -9 -5 -11 -2 -12 1 -12 4 -12 5 -8 6 -8 11 -10 10 -6 14 -6 16 -5zM479 327l34 -2 44 -1 44 1 36 1 32 3 28 4 28 6 32 8 36 11 44 15 121 46 20 8 18 8 17 9 9 7 5 4 3 4 2 4 2 4 1 4 -1 8 -3 8 -5 8 -6 8 -9 8 -10 8 -11 8 -12 8 -20 12 -33 17 -40 20 -36 16 -79 35 -26 12 -27 14 -56 30 -17 8 -15 6 -24 9 -20 5 -24 5 -24 3 -24 1 -24 -1 -24 -3 -20 -5 -16 -5 -16 -7 -14 -8 -11 -8 -9 -8 -9 -12 -7 -12 -4 -12 -2 -8 -1 -12 1 -12 2 -12 2 -8 5 -12 18 -40 7 -16 4 -16 1 -8 0 -8 -1 -12 -4 -16 -4 -12 -16 -32 -4 -12 -4 -12 0 -12 1 -8 1 -4 4 -8 3 -4 8 -8 6 -4 7 -5 16 -7 20 -5 24 -5z"/><path fill="#56cc7b" d="M1213 239l16 -4 12 0 12 0 12 3 12 4 8 3 8 6 8 8 6 8 3 8 2 8 0 4 0 8 -3 10 -5 10 -6 8 -9 8 -12 9 -8 4 -8 3 -16 4 -12 1 -8 0 -8 0 -8 -2 -12 -4 -6 -3 -6 -4 -8 -7 -4 -5 -4 -6 -4 -6 -3 -12 -1 -8 1 -8 2 -8 2 -4 3 -6 5 -6 4 -4 7 -7 12 -7 8 -4zM499 331l38 -1 44 0 36 1 36 2 32 4 28 5 28 6 32 9 48 15 56 20 68 27 20 8 20 9 19 11 9 7 4 5 4 5 2 7 1 4 -1 8 -4 8 -5 8 -7 8 -9 8 -10 8 -12 8 -13 8 -20 12 -31 16 -39 18 -36 17 -67 29 -29 13 -28 14 -56 30 -16 8 -16 7 -20 8 -24 6 -24 5 -24 3 -24 0 -20 -1 -24 -3 -20 -5 -16 -5 -16 -8 -14 -8 -10 -8 -8 -8 -9 -12 -6 -12 -4 -12 -1 -8 0 -12 1 -8 2 -12 3 -8 4 -12 18 -36 7 -16 5 -16 2 -16 0 -12 -1 -8 -2 -8 -5 -16 -16 -32 -4 -12 -3 -12 -1 -12 2 -8 1 -4 3 -5 5 -7 10 -8 7 -4 8 -4 18 -7 20 -4 24 -3z"/><path fill="#61cd71" d="M1217 243l12 -3 12 -1 12 1 12 3 11 4 7 4 6 4 8 8 5 8 3 8 1 8 -1 8 -2 8 -4 8 -6 8 -8 8 -12 8 -8 4 -8 3 -12 2 -8 1 -8 1 -8 -1 -8 -2 -12 -4 -8 -4 -4 -3 -6 -5 -4 -4 -3 -4 -4 -8 -1 -4 -2 -8 0 -8 0 -4 3 -8 1 -4 4 -6 4 -5 5 -5 5 -4 6 -4 8 -4zM466 339l31 -3 40 -1 52 1 44 2 32 2 32 5 28 5 32 7 44 13 52 18 71 27 29 12 17 8 11 5 11 7 9 7 5 5 3 4 3 8 1 4 0 8 -3 8 -5 8 -7 8 -9 8 -10 8 -11 8 -13 8 -20 12 -31 16 -39 18 -36 16 -69 30 -26 12 -29 15 -53 29 -27 12 -20 8 -24 7 -21 5 -23 3 -24 1 -20 -1 -20 -2 -20 -5 -20 -6 -16 -7 -16 -10 -12 -10 -10 -11 -5 -8 -3 -8 -4 -12 -1 -8 0 -8 1 -12 4 -16 6 -16 19 -36 7 -16 5 -16 3 -16 0 -8 -1 -8 -3 -16 -6 -16 -15 -32 -3 -8 -2 -8 -1 -12 1 -7 1 -5 5 -8 6 -7 6 -5 10 -6 12 -5 12 -4 16 -3z"/><path fill="#6dcd67" d="M1222 247l11 -2 12 0 12 1 8 2 8 3 8 5 7 7 5 5 3 7 2 8 0 8 -1 8 -4 8 -6 8 -6 6 -8 6 -12 6 -12 4 -12 1 -12 0 -12 -2 -12 -5 -6 -4 -5 -4 -7 -8 -4 -8 -2 -8 0 -4 0 -8 1 -4 3 -8 6 -8 4 -4 6 -5 12 -7zM488 343l33 -2 48 0 44 2 40 2 32 4 32 5 28 6 32 8 44 13 56 20 55 22 18 8 16 8 11 6 9 6 7 6 5 6 3 5 2 7 0 4 -1 8 -2 4 -4 8 -7 8 -8 8 -10 8 -11 8 -12 8 -21 12 -30 16 -36 17 -36 16 -74 31 -26 12 -24 12 -56 31 -27 13 -21 7 -20 6 -20 4 -24 3 -20 1 -20 -1 -20 -2 -20 -4 -16 -6 -12 -5 -14 -7 -11 -8 -9 -8 -9 -12 -7 -12 -3 -12 -1 -8 0 -12 1 -8 3 -12 3 -8 5 -12 19 -36 8 -16 5 -16 3 -16 0 -8 0 -8 -3 -16 -6 -16 -12 -27 -4 -9 -3 -12 -1 -8 0 -4 2 -8 2 -4 5 -8 4 -4 6 -4 9 -6 16 -6 16 -4 16 -2z"/><path fill="#7acc5e" d="M1232 251l9 -1 12 1 12 4 8 4 5 4 7 7 3 5 2 8 0 8 -2 8 -4 8 -7 8 -8 6 -8 4 -8 3 -12 3 -12 0 -8 -2 -8 -2 -9 -4 -7 -6 -6 -6 -4 -8 -2 -8 1 -8 2 -8 5 -8 3 -4 9 -7 8 -4 8 -3zM470 351l31 -3 36 0 60 0 48 3 32 3 32 4 32 6 32 8 48 14 52 18 48 19 18 8 16 8 10 5 10 7 6 5 6 7 3 4 3 8 1 4 -1 8 -2 4 -4 8 -6 8 -8 8 -10 8 -11 8 -12 8 -21 12 -30 16 -36 17 -36 15 -66 28 -30 13 -28 14 -50 29 -16 8 -14 6 -20 7 -20 6 -20 4 -20 2 -20 1 -20 0 -17 -2 -19 -4 -16 -5 -17 -7 -15 -10 -13 -10 -9 -12 -7 -12 -3 -12 -1 -8 -1 -8 2 -12 5 -16 7 -16 20 -36 8 -16 5 -16 3 -16 1 -8 0 -8 -2 -12 -4 -16 -14 -32 -4 -12 -3 -12 1 -8 1 -4 4 -8 4 -5 8 -7 7 -4 10 -4 11 -4 12 -2z"/><path fill="#87cb54" d="M1226 259l7 -2 8 0 12 1 4 1 8 4 6 4 4 4 3 4 2 4 1 4 0 8 -1 4 -3 7 -4 5 -4 4 -8 5 -8 4 -12 2 -8 0 -8 -1 -9 -2 -7 -4 -5 -4 -3 -4 -3 -4 -3 -8 0 -8 3 -8 3 -4 3 -4 5 -4 8 -5zM509 355l40 -1 52 1 40 2 32 2 32 4 28 5 28 6 32 8 40 12 44 15 40 16 28 14 12 7 7 5 9 7 4 5 4 5 3 7 0 4 0 8 -1 4 -4 8 -7 8 -7 8 -10 8 -11 8 -12 8 -20 12 -31 16 -36 17 -32 13 -72 30 -27 12 -25 13 -54 31 -26 12 -20 7 -20 6 -20 4 -20 2 -20 1 -20 -2 -19 -2 -17 -4 -16 -6 -13 -6 -13 -8 -9 -8 -7 -8 -8 -12 -3 -8 -3 -12 -1 -8 1 -8 1 -8 4 -12 3 -8 6 -12 19 -32 8 -16 5 -12 3 -8 3 -16 1 -16 -2 -16 -5 -16 -11 -28 -3 -8 -2 -12 0 -8 2 -8 3 -4 3 -4 4 -4 6 -4 8 -5 12 -4 16 -3 20 -3z"/><path fill="#94ca4a" d="M1229 267l12 -2 8 1 8 3 4 2 3 4 3 4 2 3 1 5 -1 4 -1 4 -2 4 -3 4 -6 4 -8 4 -4 1 -8 0 -8 0 -4 -1 -8 -4 -5 -4 -2 -4 -2 -4 -1 -4 1 -4 1 -4 2 -4 6 -6 4 -3zM498 363l35 -1 56 0 48 1 36 2 32 4 28 4 32 6 28 7 40 12 44 16 36 14 13 7 16 8 11 7 6 5 6 5 6 7 2 4 2 8 0 4 -1 8 -2 4 -4 8 -7 8 -9 8 -10 8 -11 8 -13 8 -17 10 -28 14 -36 17 -32 13 -64 26 -32 14 -27 14 -48 28 -16 8 -13 6 -16 6 -20 6 -16 3 -20 3 -20 1 -16 -1 -20 -2 -16 -3 -16 -5 -16 -7 -12 -8 -8 -6 -6 -5 -3 -4 -6 -8 -5 -12 -3 -12 -1 -8 1 -8 3 -13 6 -15 9 -16 19 -32 8 -16 6 -16 4 -16 1 -12 0 -8 -2 -16 -3 -12 -10 -28 -3 -12 -1 -8 1 -4 2 -8 2 -4 4 -4 4 -4 7 -4 9 -4 9 -3 12 -3z"/><path fill="#a0c841" d="M1232 283l5 -2 4 0 4 1 1 1 3 4 -1 4 -3 3 -4 2 -4 0 -4 -1 -4 -4 0 -4zM506 371l35 -2 64 1 40 0 32 2 32 3 28 4 28 5 32 8 40 12 36 12 35 15 24 12 9 5 9 7 7 6 4 6 3 4 2 8 1 4 -2 8 -1 4 -5 8 -6 8 -8 8 -10 8 -12 8 -26 16 -31 16 -33 15 -32 13 -70 28 -27 12 -27 14 -52 30 -25 12 -19 7 -16 4 -20 4 -16 2 -20 1 -16 -1 -16 -2 -16 -3 -16 -6 -16 -7 -12 -8 -8 -7 -4 -4 -4 -6 -4 -6 -5 -12 -1 -12 0 -12 3 -12 5 -12 8 -16 21 -32 7 -12 9 -20 4 -16 3 -16 0 -16 -1 -8 -2 -12 -7 -24 -3 -12 0 -8 0 -4 3 -8 3 -4 4 -4 5 -4 9 -4 11 -4 8 -1z"/><path fill="#acc738" d="M533 379l96 -2 32 0 28 2 28 2 28 4 28 6 28 6 36 11 36 12 33 15 22 12 13 8 8 8 3 4 3 4 3 8 0 4 -1 8 -1 4 -5 8 -6 8 -8 8 -10 8 -11 8 -26 16 -32 16 -33 15 -32 13 -64 24 -32 14 -26 14 -47 28 -15 8 -12 5 -16 6 -16 5 -17 4 -19 2 -16 1 -16 -1 -16 -1 -16 -4 -18 -5 -16 -8 -12 -8 -4 -4 -6 -7 -7 -9 -4 -12 -2 -12 0 -8 1 -8 4 -12 8 -16 26 -40 9 -16 6 -12 6 -16 3 -12 1 -8 1 -16 -1 -16 -5 -28 -1 -8 0 -8 3 -8 2 -4 6 -6 8 -4 8 -3 11 -3 9 -2 16 -1z"/><path fill="#b8c431" d="M566 387l47 -3 32 0 28 0 28 1 28 3 28 4 24 5 28 7 32 9 32 12 24 10 22 12 14 9 7 7 3 4 3 4 3 8 1 4 -1 8 -1 4 -4 8 -7 8 -8 8 -9 8 -11 8 -27 16 -29 15 -32 14 -32 13 -69 26 -28 12 -27 14 -49 30 -23 11 -16 6 -16 5 -16 3 -16 2 -16 1 -16 -1 -16 -2 -16 -3 -8 -2 -11 -4 -13 -7 -12 -9 -8 -9 -4 -6 -3 -5 -4 -12 -1 -12 1 -8 2 -8 5 -12 7 -12 24 -36 10 -16 6 -12 7 -16 4 -16 3 -16 2 -20 -1 -32 2 -10 1 -2 3 -6 6 -6 6 -4 8 -3 8 -3 12 -2 12 -2z"/><path fill="#c3c22b" d="M638 391l31 -1 28 0 28 2 28 4 28 5 28 7 28 8 30 11 22 9 20 11 16 10 9 10 5 8 2 4 0 8 -1 8 -2 4 -5 8 -11 12 -15 12 -18 12 -29 16 -26 12 -29 12 -28 11 -57 21 -30 12 -16 8 -13 7 -40 25 -14 8 -17 8 -17 6 -20 6 -20 3 -20 2 -16 -1 -20 -3 -16 -4 -15 -5 -14 -8 -7 -7 -6 -5 -6 -8 -3 -8 -2 -8 -1 -8 0 -8 2 -8 4 -12 7 -12 8 -12 25 -36 9 -16 6 -12 6 -16 5 -16 3 -16 6 -36 3 -8 5 -8 5 -5 8 -5 12 -5 12 -3 16 -3 28 -3 32 -3z"/><path fill="#cdc028" d="M624 399l29 -3 28 0 28 0 28 3 28 3 28 6 28 7 24 8 24 9 23 11 17 9 8 7 5 4 7 8 3 8 1 4 0 8 -1 4 -4 8 -2 4 -7 8 -14 12 -17 12 -28 16 -25 12 -30 13 -32 12 -65 23 -27 11 -16 8 -12 7 -48 30 -15 8 -17 6 -17 6 -19 3 -20 2 -16 0 -16 -2 -18 -3 -14 -6 -13 -6 -7 -5 -8 -7 -6 -8 -4 -8 -2 -8 -1 -8 1 -8 2 -8 5 -12 6 -12 33 -44 7 -12 7 -12 5 -12 7 -16 15 -48 3 -8 4 -8 6 -7 8 -6 8 -5 12 -4 16 -5 16 -3 24 -3z"/><path fill="#d7be28" d="M655 403l26 -2 28 0 28 2 24 3 28 5 24 6 28 9 24 9 18 8 18 10 12 10 7 8 4 8 1 4 0 8 -2 8 -2 4 -6 8 -12 12 -16 12 -20 12 -22 11 -24 11 -28 12 -28 10 -58 20 -30 12 -16 8 -12 6 -39 26 -14 8 -17 8 -14 5 -16 5 -20 3 -20 1 -16 -1 -16 -3 -16 -4 -13 -6 -12 -8 -4 -4 -6 -8 -3 -4 -3 -8 -1 -8 0 -8 1 -8 3 -8 3 -8 8 -12 30 -40 13 -20 7 -12 5 -12 20 -49 6 -11 6 -8 8 -8 8 -6 12 -6 16 -5 20 -5 20 -4 24 -4z"/><path fill="#e1bc2b" d="M688 407l25 0 24 1 24 3 24 4 24 5 24 7 24 9 20 9 17 10 10 8 7 8 5 8 1 8 -1 8 -3 8 -2 4 -7 8 -9 8 -16 12 -19 12 -23 11 -24 11 -24 10 -28 10 -64 21 -28 11 -12 6 -14 8 -36 24 -14 8 -15 8 -17 6 -16 5 -16 2 -20 1 -16 -1 -16 -3 -16 -5 -11 -5 -11 -8 -6 -8 -3 -4 -2 -4 -3 -8 0 -4 0 -8 1 -8 3 -8 4 -8 8 -12 29 -36 12 -16 11 -20 16 -36 8 -16 8 -12 8 -10 12 -10 12 -7 13 -5 19 -6 24 -6 24 -4 24 -3z"/><path fill="#e9bb30" d="M657 415l28 -3 24 -1 24 1 24 2 24 4 24 5 24 7 24 9 17 8 15 8 12 9 6 7 3 4 3 8 0 8 -2 8 -2 4 -5 8 -7 8 -15 12 -19 12 -22 12 -27 12 -29 11 -28 10 -60 19 -16 5 -15 7 -13 6 -12 7 -34 23 -14 9 -16 8 -16 6 -16 4 -12 2 -16 1 -16 0 -15 -2 -13 -4 -12 -6 -10 -6 -6 -7 -5 -5 -3 -8 -1 -4 -1 -4 0 -8 2 -8 3 -8 5 -9 8 -11 28 -32 11 -16 12 -20 21 -42 8 -13 7 -9 9 -9 9 -7 13 -8 14 -6 16 -6 20 -5 20 -4z"/><path fill="#f1ba37" d="M672 419l21 -2 24 -1 24 1 24 3 24 4 24 6 20 6 20 7 15 8 13 8 5 4 7 6 4 6 2 4 2 8 0 8 -3 8 -2 4 -7 8 -8 8 -16 12 -16 9 -20 11 -27 12 -25 9 -32 11 -60 18 -28 10 -16 8 -12 7 -36 25 -13 8 -15 7 -12 5 -16 4 -12 2 -16 0 -12 0 -13 -2 -13 -4 -10 -5 -10 -7 -6 -7 -3 -5 -2 -4 -2 -8 0 -4 1 -8 2 -6 3 -6 5 -8 5 -8 29 -32 13 -16 10 -16 23 -45 8 -12 8 -10 10 -9 11 -8 11 -7 16 -7 16 -6 20 -5 20 -4z"/><path fill="#f8ba3d" d="M685 423l24 -2 20 0 24 2 20 2 24 5 19 5 21 7 16 6 12 7 12 8 9 8 5 8 2 8 0 8 -3 8 -2 4 -6 8 -14 12 -17 12 -22 12 -24 11 -23 9 -25 8 -88 26 -16 6 -12 5 -12 6 -8 5 -33 24 -12 8 -15 7 -12 5 -12 3 -12 2 -16 1 -12 -1 -12 -2 -12 -4 -8 -4 -5 -3 -4 -4 -6 -8 -2 -4 -2 -8 0 -4 1 -8 2 -6 3 -6 5 -8 7 -8 26 -28 14 -16 10 -16 16 -32 7 -12 8 -12 8 -9 12 -11 11 -8 13 -7 16 -7 20 -7 20 -5 20 -4z"/><path fill="#febd3c" d="M698 427l23 -1 20 0 20 2 20 3 20 4 20 5 17 7 17 8 13 8 9 8 6 8 2 8 0 8 -2 8 -5 8 -8 8 -15 12 -18 11 -20 10 -24 11 -22 8 -26 8 -84 23 -14 5 -14 5 -12 6 -8 5 -31 24 -12 8 -13 7 -12 4 -12 3 -12 2 -12 1 -12 -1 -12 -3 -8 -3 -8 -4 -7 -6 -3 -4 -2 -4 -3 -8 1 -8 2 -8 2 -4 5 -8 7 -8 28 -28 7 -8 6 -8 10 -16 15 -30 8 -14 9 -12 11 -12 12 -11 12 -7 16 -9 15 -5 17 -6 20 -5 20 -3z"/><path fill="#fec239" d="M712 431l17 -1 20 1 20 2 20 3 20 5 16 5 12 5 15 8 9 6 7 6 6 8 3 8 0 8 -2 8 -5 8 -7 8 -15 12 -20 12 -23 11 -22 9 -22 7 -24 7 -86 22 -14 4 -12 5 -12 6 -12 7 -27 22 -11 8 -10 5 -12 5 -8 2 -12 2 -12 1 -8 -1 -12 -2 -8 -4 -7 -4 -4 -4 -3 -4 -2 -4 -1 -8 2 -8 3 -8 6 -8 6 -7 28 -25 12 -14 9 -14 15 -32 9 -16 8 -12 11 -12 12 -10 12 -8 16 -8 16 -7 20 -6 20 -4 20 -3z"/><path fill="#fec735" d="M682 439l19 -3 20 -1 20 0 20 1 16 3 20 4 20 5 16 7 12 6 9 6 8 8 5 8 2 4 0 4 -1 8 -3 8 -6 8 -6 5 -8 7 -18 12 -24 12 -26 10 -24 8 -24 6 -92 21 -16 4 -12 5 -11 6 -9 6 -20 18 -10 8 -13 8 -9 3 -8 3 -8 1 -8 0 -8 0 -8 -2 -5 -1 -7 -4 -4 -4 -3 -4 -2 -4 0 -4 1 -6 2 -6 6 -8 4 -4 8 -8 25 -20 10 -12 5 -8 4 -8 11 -28 8 -16 7 -12 10 -12 8 -8 11 -8 13 -8 12 -6 14 -6 14 -5 16 -4z"/><path fill="#fdcd32" d="M690 443l19 -3 20 -1 20 1 16 1 16 3 16 3 16 5 16 6 12 7 8 6 4 4 3 4 3 4 1 4 1 4 -1 8 -3 8 -6 8 -6 5 -8 7 -16 10 -19 10 -25 10 -28 9 -32 8 -28 6 -66 11 -14 3 -12 3 -12 4 -9 6 -7 6 -12 14 -8 8 -6 4 -7 4 -11 4 -8 1 -11 -1 -5 -2 -3 -2 -4 -4 -1 -4 0 -4 2 -4 2 -4 4 -5 8 -7 24 -16 6 -4 6 -7 3 -5 5 -11 7 -29 5 -16 4 -8 4 -8 5 -8 7 -8 8 -8 10 -8 13 -8 13 -7 13 -5 15 -5 16 -4z"/><path fill="#fbd22f" d="M698 447l19 -2 16 -1 16 1 16 1 16 2 16 4 16 5 12 5 8 5 10 8 6 7 2 5 1 4 0 4 0 4 -4 8 -5 8 -9 8 -11 8 -10 6 -12 6 -16 7 -16 6 -20 6 -20 5 -24 5 -24 4 -28 3 -28 2 -16 0 -12 0 -9 -2 -3 -2 -4 -3 -3 -3 -3 -4 -2 -8 -1 -8 1 -12 2 -12 5 -12 7 -12 6 -8 8 -8 10 -8 12 -8 14 -7 12 -5 16 -5 16 -4z"/><path fill="#f9d82c" d="M706 451l15 -2 16 0 16 0 16 2 16 3 12 3 12 4 12 6 8 5 8 7 4 6 2 6 0 4 0 4 -1 4 -5 8 -7 8 -10 8 -13 8 -14 7 -12 5 -16 6 -19 6 -17 4 -20 4 -20 3 -20 2 -20 0 -16 0 -14 -1 -10 -3 -8 -4 -7 -5 -3 -4 -2 -4 -2 -8 0 -8 1 -8 4 -12 4 -8 5 -8 8 -8 8 -7 8 -6 12 -7 12 -6 12 -4 16 -5 16 -3z"/><path fill="#f6dd29" d="M718 455l15 -1 12 0 12 1 16 2 12 2 12 4 10 4 10 5 8 6 4 5 4 6 1 6 0 4 -1 4 -2 4 -3 4 -7 8 -10 8 -10 6 -12 6 -16 6 -15 6 -14 4 -17 4 -18 3 -20 2 -16 1 -16 0 -12 0 -13 -2 -11 -4 -8 -4 -5 -4 -3 -4 -4 -8 -1 -8 1 -8 3 -8 4 -8 5 -8 8 -8 8 -7 9 -5 11 -6 14 -6 12 -4 14 -4 16 -3z"/><path fill="#f5e327" d="M699 463l22 -3 24 -1 12 1 12 1 12 3 9 3 11 4 7 4 6 4 4 4 3 4 2 4 1 4 0 4 -1 4 -2 4 -6 8 -6 6 -9 6 -11 6 -12 6 -12 4 -16 6 -28 6 -16 2 -16 2 -16 0 -12 -1 -12 -1 -9 -2 -10 -4 -6 -4 -4 -4 -3 -4 -2 -4 -1 -4 0 -8 2 -8 4 -8 6 -8 8 -8 11 -8 7 -4 9 -5 12 -4 12 -4z"/><path fill="#f5e924" d="M710 467l19 -2 20 0 20 2 16 4 8 4 7 4 6 4 3 3 3 5 1 4 0 4 0 4 -4 7 -4 5 -8 6 -8 6 -8 4 -12 5 -12 5 -12 3 -12 3 -16 3 -24 2 -12 0 -12 -1 -12 -2 -8 -2 -9 -4 -5 -4 -3 -4 -2 -4 -1 -4 -1 -4 1 -8 4 -8 3 -4 5 -6 7 -6 6 -4 11 -7 12 -5 8 -3 12 -3z"/><path fill="#f5ee21" d="M735 471l18 0 18 4 14 5 5 3 5 4 4 4 2 4 0 4 0 4 -2 4 -2 3 -4 5 -10 8 -15 8 -10 4 -13 4 -20 4 -20 2 -20 0 -17 -2 -11 -5 -6 -3 -4 -4 -2 -4 -1 -4 -1 -4 1 -4 1 -4 4 -7 4 -5 10 -8 7 -4 8 -4 10 -4 9 -3 20 -4z"/><path fill="#f7f31d" d="M721 479l16 -1 16 1 16 3 9 5 5 4 3 4 1 4 0 4 -1 4 -3 4 -4 4 -5 4 -6 4 -15 6 -19 6 -17 2 -16 1 -16 -2 -7 -1 -5 -2 -4 -2 -5 -4 -3 -4 -1 -4 0 -4 1 -4 2 -4 3 -4 4 -4 5 -4 6 -4 9 -4 15 -5z"/><path fill="#f8f817" d="M730 487l11 0 8 1 10 3 6 4 4 4 0 4 -1 4 -2 4 -5 4 -8 5 -12 4 -12 3 -12 2 -12 -1 -10 -1 -9 -4 -4 -4 -1 -4 0 -4 2 -4 2 -3 6 -5 6 -4 11 -4 13 -3z"/></g></svg>
</g>
<path d="M87.8 63.0V443.8" fill="none" stroke="#6e6e6e" stroke-width="1"/>
<path d="M87.4 444.0H728.0" fill="none" stroke="#777" stroke-width="1"/>
<path d="M87.9 63.1H719.8" fill="none" stroke="#d8d4e8" stroke-opacity=".8" stroke-width="0.8"/>
<text transform="translate(125.30 461.05) scale(1.58 1)" font-size="12.2" text-anchor="middle" font-weight="bold" fill="#000">2400</text>
<text transform="translate(200.45 461.05) scale(1.58 1)" font-size="12.2" text-anchor="middle" font-weight="bold" fill="#000">2200</text>
<text transform="translate(275.60 461.05) scale(1.58 1)" font-size="12.2" text-anchor="middle" font-weight="bold" fill="#000">2000</text>
<text transform="translate(350.75 461.05) scale(1.58 1)" font-size="12.2" text-anchor="middle" font-weight="bold" fill="#000">1800</text>
<text transform="translate(425.90 461.05) scale(1.58 1)" font-size="12.2" text-anchor="middle" font-weight="bold" fill="#000">1600</text>
<text transform="translate(501.05 461.05) scale(1.58 1)" font-size="12.2" text-anchor="middle" font-weight="bold" fill="#000">1400</text>
<text transform="translate(576.20 461.05) scale(1.58 1)" font-size="12.2" text-anchor="middle" font-weight="bold" fill="#000">1200</text>
<text transform="translate(651.35 461.05) scale(1.58 1)" font-size="12.2" text-anchor="middle" font-weight="bold" fill="#000">1000</text>
<text transform="translate(726.50 461.05) scale(1.58 1)" font-size="12.2" text-anchor="middle" font-weight="bold" fill="#000">800</text>
<path d="M125.3 444.0v-1.8M200.4 444.0v-1.8M275.6 444.0v-1.8M350.8 444.0v-1.8M425.9 444.0v-1.8M501.1 444.0v-1.8M576.2 444.0v-1.8M651.4 444.0v-1.8M726.5 444.0v-1.8" stroke="#333" stroke-width="0.8" fill="none"/>
<text transform="translate(114.60 56.60) scale(1.58 1)" font-size="12.2" text-anchor="middle" font-weight="bold" fill="#000">400</text>
<text transform="translate(190.26 56.60) scale(1.58 1)" font-size="12.2" text-anchor="middle" font-weight="bold" fill="#000">350</text>
<text transform="translate(265.92 56.60) scale(1.58 1)" font-size="12.2" text-anchor="middle" font-weight="bold" fill="#000">300</text>
<text transform="translate(341.58 56.60) scale(1.58 1)" font-size="12.2" text-anchor="middle" font-weight="bold" fill="#000">250</text>
<text transform="translate(417.24 56.60) scale(1.58 1)" font-size="12.2" text-anchor="middle" font-weight="bold" fill="#000">200</text>
<text transform="translate(492.90 56.60) scale(1.58 1)" font-size="12.2" text-anchor="middle" font-weight="bold" fill="#000">150</text>
<text transform="translate(568.56 56.60) scale(1.58 1)" font-size="12.2" text-anchor="middle" font-weight="bold" fill="#000">100</text>
<text transform="translate(644.22 56.60) scale(1.58 1)" font-size="12.2" text-anchor="middle" font-weight="bold" fill="#000">50</text>
<text transform="translate(719.88 56.60) scale(1.58 1)" font-size="12.2" text-anchor="middle" font-weight="bold" fill="#000">0</text>
<text transform="translate(79.90 444.90) scale(1.58 1)" font-size="12.2" text-anchor="end" font-weight="bold" fill="#000">0</text>
<text transform="translate(79.90 364.95) scale(1.58 1)" font-size="12.2" text-anchor="end" font-weight="bold" fill="#000">50</text>
<text transform="translate(79.90 285.00) scale(1.58 1)" font-size="12.2" text-anchor="end" font-weight="bold" fill="#000">100</text>
<text transform="translate(79.90 205.05) scale(1.58 1)" font-size="12.2" text-anchor="end" font-weight="bold" fill="#000">150</text>
<text transform="translate(79.90 125.10) scale(1.58 1)" font-size="12.2" text-anchor="end" font-weight="bold" fill="#000">200</text>
<text transform="translate(733.30 68.70) scale(1.58 1)" font-size="12.2" text-anchor="start" font-weight="bold" fill="#000">900</text>
<text transform="translate(733.30 116.28) scale(1.58 1)" font-size="12.2" text-anchor="start" font-weight="bold" fill="#000">800</text>
<text transform="translate(733.30 163.86) scale(1.58 1)" font-size="12.2" text-anchor="start" font-weight="bold" fill="#000">700</text>
<text transform="translate(733.30 211.44) scale(1.58 1)" font-size="12.2" text-anchor="start" font-weight="bold" fill="#000">600</text>
<text transform="translate(733.30 259.02) scale(1.58 1)" font-size="12.2" text-anchor="start" font-weight="bold" fill="#000">500</text>
<text transform="translate(733.30 306.60) scale(1.58 1)" font-size="12.2" text-anchor="start" font-weight="bold" fill="#000">400</text>
<text transform="translate(733.30 354.18) scale(1.58 1)" font-size="12.2" text-anchor="start" font-weight="bold" fill="#000">300</text>
<text transform="translate(733.30 401.76) scale(1.58 1)" font-size="12.2" text-anchor="start" font-weight="bold" fill="#000">200</text>
<text transform="translate(733.30 449.34) scale(1.58 1)" font-size="12.2" text-anchor="start" font-weight="bold" fill="#000">100</text>
<text transform="translate(418.85 479.90) scale(1.58 1)" font-size="14.1" text-anchor="middle" font-weight="bold" fill="#000">F2(Hz)</text>
<text transform="translate(416.25 43.00)" font-size="18.5" text-anchor="middle" fill="#000">F2(mm)</text>
<text transform="translate(46.10 230.00) rotate(-90)" font-size="19.5" text-anchor="middle" fill="#000">F1(mm)</text>
<text transform="translate(781.90 234.50) rotate(-90)" font-size="19.5" text-anchor="middle" fill="#000">F1(Hz)</text>
<defs><linearGradient id="cb88" x1="0" y1="1" x2="0" y2="0"><stop offset="0.0000" stop-color="#3e26a8"/><stop offset="0.0159" stop-color="#402ab4"/><stop offset="0.0317" stop-color="#422ec0"/><stop offset="0.0476" stop-color="#4332cb"/><stop offset="0.0635" stop-color="#4537d5"/><stop offset="0.0794" stop-color="#463cde"/><stop offset="0.0952" stop-color="#4741e5"/><stop offset="0.1111" stop-color="#4747eb"/><stop offset="0.1270" stop-color="#484df0"/><stop offset="0.1429" stop-color="#4852f4"/><stop offset="0.1587" stop-color="#4758f8"/><stop offset="0.1746" stop-color="#465efb"/><stop offset="0.1905" stop-color="#4563fd"/><stop offset="0.2063" stop-color="#4269fe"/><stop offset="0.2222" stop-color="#3e6fff"/><stop offset="0.2381" stop-color="#3875fe"/><stop offset="0.2540" stop-color="#327cfc"/><stop offset="0.2698" stop-color="#2f81fa"/><stop offset="0.2857" stop-color="#2e87f7"/><stop offset="0.3016" stop-color="#2d8cf3"/><stop offset="0.3175" stop-color="#2b91ef"/><stop offset="0.3333" stop-color="#2797eb"/><stop offset="0.3492" stop-color="#259be8"/><stop offset="0.3651" stop-color="#23a0e5"/><stop offset="0.3810" stop-color="#20a5e3"/><stop offset="0.3968" stop-color="#1ca9df"/><stop offset="0.4127" stop-color="#18addb"/><stop offset="0.4286" stop-color="#12b1d6"/><stop offset="0.4444" stop-color="#08b5d0"/><stop offset="0.4603" stop-color="#01b8ca"/><stop offset="0.4762" stop-color="#02bac3"/><stop offset="0.4921" stop-color="#0bbdbd"/><stop offset="0.5079" stop-color="#19bfb6"/><stop offset="0.5238" stop-color="#24c1ae"/><stop offset="0.5397" stop-color="#2cc4a7"/><stop offset="0.5556" stop-color="#31c69f"/><stop offset="0.5714" stop-color="#37c897"/><stop offset="0.5873" stop-color="#3fca8e"/><stop offset="0.6032" stop-color="#4acb84"/><stop offset="0.6190" stop-color="#57cc7a"/><stop offset="0.6349" stop-color="#64cd6f"/><stop offset="0.6508" stop-color="#72cd64"/><stop offset="0.6667" stop-color="#81cc59"/><stop offset="0.6825" stop-color="#8fcb4e"/><stop offset="0.6984" stop-color="#9dc943"/><stop offset="0.7143" stop-color="#abc739"/><stop offset="0.7302" stop-color="#b9c431"/><stop offset="0.7460" stop-color="#c5c22a"/><stop offset="0.7619" stop-color="#d1bf27"/><stop offset="0.7778" stop-color="#dcbd29"/><stop offset="0.7937" stop-color="#e6bb2d"/><stop offset="0.8095" stop-color="#f0ba36"/><stop offset="0.8254" stop-color="#f8ba3d"/><stop offset="0.8413" stop-color="#febe3c"/><stop offset="0.8571" stop-color="#fec338"/><stop offset="0.8730" stop-color="#fec934"/><stop offset="0.8889" stop-color="#fccf30"/><stop offset="0.9048" stop-color="#fad62d"/><stop offset="0.9206" stop-color="#f7dc2a"/><stop offset="0.9365" stop-color="#f5e327"/><stop offset="0.9524" stop-color="#f5e924"/><stop offset="0.9683" stop-color="#f6ef20"/><stop offset="0.9841" stop-color="#f7f51b"/><stop offset="1.0000" stop-color="#f9fb15"/></linearGradient></defs>
<rect x="12.9" y="154.9" width="10.9" height="285.9" fill="url(#cb88)"/>
<path d="M12.9 440.8V154.7H23.8" fill="none" stroke="#8f8fb0" stroke-opacity=".7" stroke-width="0.8"/>
<text transform="translate(10.20 415.50) scale(0.74 1)" font-size="11.7" text-anchor="end" font-weight="bold" fill="#111" stroke="#111" stroke-width=".25">2</text>
<text transform="translate(10.20 384.55) scale(0.74 1)" font-size="11.7" text-anchor="end" font-weight="bold" fill="#111" stroke="#111" stroke-width=".25">4</text>
<text transform="translate(10.20 353.60) scale(0.74 1)" font-size="11.7" text-anchor="end" font-weight="bold" fill="#111" stroke="#111" stroke-width=".25">6</text>
<text transform="translate(10.20 322.65) scale(0.74 1)" font-size="11.7" text-anchor="end" font-weight="bold" fill="#111" stroke="#111" stroke-width=".25">8</text>
<text transform="translate(10.20 291.70) scale(0.74 1)" font-size="11.7" text-anchor="end" font-weight="bold" fill="#111" stroke="#111" stroke-width=".25">10</text>
<text transform="translate(10.20 260.75) scale(0.74 1)" font-size="11.7" text-anchor="end" font-weight="bold" fill="#111" stroke="#111" stroke-width=".25">12</text>
<text transform="translate(10.20 229.80) scale(0.74 1)" font-size="11.7" text-anchor="end" font-weight="bold" fill="#111" stroke="#111" stroke-width=".25">14</text>
<text transform="translate(10.20 198.85) scale(0.74 1)" font-size="11.7" text-anchor="end" font-weight="bold" fill="#111" stroke="#111" stroke-width=".25">16</text>
<text transform="translate(10.20 167.90) scale(0.74 1)" font-size="11.7" text-anchor="end" font-weight="bold" fill="#111" stroke="#111" stroke-width=".25">18</text>
<path d="M13.2 411.4h2.6M13.2 380.4h2.6M13.2 349.5h2.6M13.2 318.5h2.6M13.2 287.6h2.6M13.2 256.6h2.6M13.2 225.7h2.6M13.2 194.7h2.6M13.2 163.8h2.6" stroke="#333" stroke-opacity=".75" stroke-width="0.8" fill="none"/>
<text transform="translate(13.8 152.6) scale(.92 1)" font-size="11.4" fill="#111"><tspan fill="#333">×</tspan><tspan font-weight="bold">10</tspan><tspan dy="-5.2" font-size="8.4" font-weight="bold">-7</tspan></text>
<path d="M165.1 352.1h30.4M180.3 340.6v23M169.1 343.6l22.4 17M169.1 360.6l22.4 -17" stroke="#000" stroke-opacity=".72" stroke-width="1.05" fill="none"/>
<circle cx="180.3" cy="352.1" r="1.3" fill="#000"/>
<text transform="translate(138.30 356.60)" font-size="18.6" text-anchor="start" fill="#000">/i/</text>
<path d="M350.7 229.9h30.4M365.9 218.4v23M354.7 221.4l22.4 17M354.7 238.4l22.4 -17" stroke="#000" stroke-opacity=".72" stroke-width="1.05" fill="none"/>
<circle cx="365.9" cy="229.9" r="1.3" fill="#000"/>
<text transform="translate(324.70 238.20)" font-size="18.6" text-anchor="start" fill="#000">/ε/</text>
<path d="M606.2 157.8h30.4M621.4 146.3v23M610.2 149.3l22.4 17M610.2 166.3l22.4 -17" stroke="#000" stroke-opacity=".72" stroke-width="1.05" fill="none"/>
<circle cx="621.4" cy="157.8" r="1.3" fill="#000"/>
<text transform="translate(578.60 162.00)" font-size="18.6" text-anchor="start" fill="#000">/α/</text>
<g>
<rect x="939.9" y="63" width="640.1" height="380.2" fill="#3f28ae"/>
<svg x="939.9" y="63.0" width="640.1" height="380.2" viewBox="939.9 63.0 640.1 380.2" overflow="hidden"><g transform="scale(.5)" shape-rendering="auto" fill-rule="evenodd"><path fill="#402bb8" d="M2228 130l7 -4 925 0 0 495 -32 4 -28 5 -108 24 -48 12 -26 8 -31 12 -19 9 -20 11 -16 12 -9 8 -8 8 -6 8 -6 8 -9 16 -8 20 -6 21 -7 31 -10 48 -883 0 0 -659 64 -13 75 -16 52 -12 31 -8 28 -8 35 -12 29 -12z"/><path fill="#422fc2" d="M2321 130l5 -4 834 0 0 466 -51 6 -45 8 -92 20 -48 12 -40 12 -33 12 -19 8 -17 8 -15 8 -14 8 -17 12 -10 8 -8 8 -7 8 -7 8 -5 8 -8 12 -9 20 -8 24 -7 29 -13 55 -734 0 -37 -6 -36 -7 0 -605 233 -58 45 -12 27 -8 48 -16 40 -16 17 -8 14 -7 8 -6z"/><path fill="#4433cb" d="M2384 130l4 -4 772 0 0 446 -71 10 -45 8 -90 20 -48 12 -40 12 -23 8 -22 8 -37 16 -16 8 -21 12 -13 8 -11 8 -11 8 -9 8 -7 8 -11 12 -6 8 -7 12 -11 20 -9 24 -9 28 -15 56 -554 0 -29 -4 -61 -7 -32 -4 -40 -7 -32 -7 0 -561 140 -40 174 -46 28 -8 38 -12 35 -12 22 -8 27 -12 8 -4 12 -8 11 -8z"/><path fill="#4536d5" d="M2446 130l6 -4 708 0 0 431 -86 13 -44 8 -73 16 -33 8 -31 8 -27 8 -25 8 -44 16 -37 16 -25 12 -15 8 -27 16 -11 8 -15 12 -9 8 -11 12 -16 20 -16 24 -14 28 -14 32 -19 48 -426 0 -38 -8 -28 -4 -88 -9 -36 -5 -40 -8 -32 -8 0 -524 92 -31 68 -21 68 -19 145 -39 54 -16 38 -12 23 -8 26 -12 21 -12z"/><path fill="#463bdc" d="M2533 130l14 -4 613 0 0 418 -107 18 -42 8 -72 16 -48 12 -28 8 -25 8 -45 16 -50 20 -34 16 -23 12 -26 16 -21 16 -18 16 -16 16 -17 20 -48 62 -20 25 -20 21 -12 10 -8 6 -281 0 -61 -12 -30 -5 -32 -4 -84 -9 -36 -5 -20 -3 -20 -5 -16 -4 -20 -6 0 -492 52 -20 44 -17 44 -15 44 -14 64 -19 160 -42 59 -16 40 -12 34 -12 71 -30 20 -7z"/><path fill="#4740e3" d="M2644 130l16 -4 500 0 0 406 -159 30 -55 12 -49 12 -43 12 -49 16 -43 16 -48 20 -34 16 -22 12 -20 12 -22 16 -14 12 -17 16 -49 51 -20 19 -20 17 -16 12 -20 13 -20 10 -24 9 -28 7 -20 4 -20 3 -36 3 -36 1 -36 -2 -36 -5 -59 -10 -29 -4 -30 -4 -78 -7 -44 -6 -24 -5 -20 -4 -20 -6 -20 -6 0 -461 56 -27 52 -22 52 -19 60 -20 40 -11 44 -12 229 -58 27 -8 60 -19 36 -11z"/><path fill="#4744e9" d="M2698 130l14 -4 448 0 0 397 -64 13 -78 14 -40 8 -54 12 -32 8 -43 12 -49 16 -43 16 -50 20 -36 16 -23 12 -21 12 -18 12 -15 12 -14 12 -56 53 -20 18 -20 16 -20 14 -24 14 -24 11 -16 6 -16 6 -28 7 -32 6 -32 2 -32 1 -36 -3 -20 -2 -60 -9 -31 -4 -101 -10 -40 -5 -24 -4 -28 -6 -20 -6 -20 -8 0 -430 25 -15 21 -12 30 -15 27 -13 33 -14 28 -11 32 -12 32 -10 52 -15 60 -16 100 -24 113 -26 141 -36 44 -12z"/><path fill="#4849ed" d="M2733 130l13 -4 408 0 6 2 0 386 -68 14 -94 18 -39 8 -51 12 -32 8 -41 12 -37 12 -54 20 -51 20 -27 12 -25 12 -21 12 -20 13 -15 11 -14 12 -55 51 -20 17 -24 19 -24 16 -20 11 -28 13 -28 10 -24 6 -16 4 -16 2 -32 4 -32 0 -36 -2 -88 -12 -33 -3 -75 -7 -28 -3 -20 -3 -24 -4 -24 -6 -24 -8 -20 -8 0 -393 8 -8 14 -12 16 -12 24 -16 28 -16 26 -13 28 -13 28 -12 32 -12 36 -12 28 -9 40 -11 80 -20 88 -20 93 -18 37 -8 53 -12 32 -8 29 -8 26 -8 74 -25z"/><path fill="#484ef1" d="M2761 130l13 -4 357 0 29 9 0 371 -80 17 -97 19 -39 8 -35 8 -32 8 -42 12 -48 16 -54 20 -51 20 -27 12 -25 12 -21 12 -19 12 -16 12 -14 12 -52 48 -20 17 -24 18 -24 16 -28 15 -24 11 -24 9 -28 7 -24 5 -24 2 -24 2 -24 -1 -36 -3 -92 -10 -88 -7 -24 -3 -24 -4 -36 -7 -16 -4 -16 -6 -16 -6 -12 -5 0 -270 3 -12 2 -12 1 -32 1 -12 2 -12 3 -8 6 -12 5 -8 7 -8 11 -12 13 -12 10 -8 17 -12 23 -14 24 -13 24 -12 28 -12 28 -11 32 -12 28 -9 36 -10 32 -9 48 -12 40 -9 72 -14 126 -23 38 -8 34 -8 28 -8 24 -8 90 -33z"/><path fill="#4853f5" d="M2785 130l14 -4 311 0 22 7 28 9 0 356 -80 19 -110 21 -38 8 -35 8 -31 8 -41 12 -36 12 -65 24 -51 20 -28 12 -25 12 -21 12 -18 12 -16 12 -13 11 -48 44 -20 18 -24 18 -24 16 -24 14 -28 13 -24 9 -28 7 -20 4 -24 3 -24 2 -24 0 -28 -2 -88 -9 -104 -9 -20 -2 -24 -4 -20 -4 -16 -4 -16 -4 -16 -6 -16 -6 -12 -6 0 -233 7 -10 8 -12 6 -12 3 -8 2 -8 3 -12 3 -32 2 -12 4 -12 5 -12 5 -8 6 -8 10 -12 17 -16 16 -12 18 -12 20 -12 23 -12 22 -10 24 -11 24 -9 32 -11 28 -9 40 -11 36 -9 36 -9 48 -10 68 -13 115 -18 33 -6 28 -7 26 -7 24 -8 22 -8 84 -33 28 -10z"/><path fill="#4758f8" d="M2807 130l16 -4 265 0 36 10 36 12 0 343 -48 12 -36 8 -136 27 -36 8 -44 11 -40 12 -38 13 -65 24 -52 20 -28 12 -24 12 -21 12 -16 11 -13 9 -15 13 -48 44 -24 20 -20 16 -24 16 -24 14 -24 11 -28 11 -28 7 -24 5 -20 3 -24 1 -24 0 -32 -2 -71 -7 -81 -6 -32 -3 -40 -6 -20 -4 -20 -5 -16 -5 -16 -6 -16 -7 -12 -6 0 -209 15 -19 12 -16 8 -12 6 -12 4 -8 3 -12 6 -36 2 -12 4 -12 6 -12 5 -8 6 -8 11 -12 18 -16 16 -12 18 -12 16 -9 21 -11 23 -11 24 -10 24 -9 24 -8 28 -9 36 -10 36 -9 36 -8 40 -9 68 -12 120 -17 32 -6 28 -6 27 -8 25 -8 28 -11 60 -26 32 -12 28 -10z"/><path fill="#465dfa" d="M2829 130l19 -4 217 0 23 5 24 7 20 6 28 10 0 331 -48 12 -44 10 -40 9 -96 18 -36 8 -40 10 -36 11 -45 15 -65 24 -51 20 -28 12 -23 11 -16 9 -20 13 -15 11 -14 12 -51 47 -20 17 -24 18 -24 16 -24 14 -24 11 -28 10 -24 6 -20 4 -24 3 -20 1 -24 0 -32 -1 -68 -6 -84 -6 -32 -3 -40 -6 -20 -5 -20 -5 -16 -5 -16 -6 -16 -8 -12 -7 0 -190 38 -43 12 -16 7 -12 5 -12 4 -12 7 -36 3 -12 6 -16 7 -12 6 -8 7 -8 12 -12 14 -12 16 -12 16 -10 18 -10 22 -11 20 -9 24 -10 20 -7 24 -8 28 -9 32 -8 44 -11 40 -9 36 -7 60 -10 120 -15 28 -5 24 -6 28 -8 28 -10 22 -9 62 -27 36 -15 36 -12z"/><path fill="#4562fc" d="M2852 130l22 -4 166 0 32 6 28 7 28 9 32 12 0 319 -52 14 -44 10 -40 8 -99 19 -36 8 -37 9 -36 11 -46 16 -75 28 -51 20 -27 12 -17 9 -20 11 -18 12 -10 8 -16 13 -46 43 -22 19 -24 19 -20 13 -24 14 -28 13 -24 9 -28 8 -20 3 -24 3 -20 1 -24 0 -28 -1 -64 -5 -80 -6 -40 -3 -24 -4 -20 -3 -20 -5 -16 -5 -16 -5 -16 -7 -16 -8 -12 -8 0 -172 53 -58 10 -12 8 -12 6 -12 4 -12 3 -12 5 -24 4 -16 8 -16 7 -12 9 -12 12 -12 14 -12 17 -12 16 -10 18 -10 18 -9 20 -9 20 -8 24 -9 48 -15 28 -8 36 -9 36 -8 40 -8 40 -6 32 -5 117 -14 27 -5 28 -6 28 -8 24 -9 24 -11 60 -27 40 -17 20 -7 24 -7 20 -6z"/><path fill="#4367fd" d="M2877 130l32 -4 98 0 13 1 32 6 36 8 36 11 36 14 0 307 -52 14 -48 12 -44 9 -97 18 -36 8 -35 9 -36 11 -36 12 -86 32 -50 20 -28 12 -16 8 -21 12 -17 12 -14 11 -12 10 -46 43 -22 19 -24 19 -20 14 -24 13 -24 12 -24 9 -28 8 -20 3 -24 4 -20 1 -24 0 -28 -1 -136 -10 -48 -4 -24 -4 -20 -4 -20 -4 -16 -5 -16 -6 -17 -8 -14 -8 -13 -9 0 -155 20 -22 45 -46 10 -12 8 -12 7 -12 5 -12 3 -12 6 -28 5 -16 8 -16 8 -12 10 -12 13 -12 15 -12 17 -12 20 -11 20 -11 20 -9 24 -10 24 -8 28 -10 28 -8 32 -8 52 -12 60 -11 56 -8 88 -9 28 -3 32 -6 28 -7 24 -8 23 -9 81 -38 24 -10 24 -10 24 -8 28 -8 24 -5z"/><path fill="#406dfe" d="M2910 130l30 -2 32 0 32 2 32 4 32 6 28 8 32 10 32 13 0 297 -56 15 -48 12 -44 9 -100 19 -34 7 -34 9 -36 11 -36 12 -95 36 -41 16 -27 12 -17 8 -21 12 -17 12 -14 11 -12 10 -45 43 -19 17 -20 16 -24 17 -12 7 -16 9 -24 11 -24 9 -28 8 -20 3 -24 3 -20 1 -24 0 -28 -1 -132 -8 -28 -3 -24 -2 -24 -4 -20 -4 -20 -6 -16 -5 -16 -7 -16 -8 -14 -9 -10 -8 0 -138 11 -14 13 -14 51 -50 11 -12 9 -12 7 -12 5 -12 4 -12 6 -28 6 -16 7 -16 8 -12 11 -12 12 -12 15 -12 20 -13 18 -11 22 -11 21 -9 23 -9 24 -9 28 -8 28 -8 32 -8 52 -11 52 -9 56 -7 108 -11 32 -6 28 -6 24 -8 21 -8 23 -10 48 -24 24 -12 24 -10 24 -9 28 -9 32 -8 32 -6z"/><path fill="#3c72ff" d="M2909 134l31 -2 32 0 32 2 32 4 32 6 28 8 32 11 32 13 0 287 -60 17 -48 12 -40 8 -108 20 -32 7 -32 8 -36 11 -35 12 -95 36 -41 16 -27 12 -18 9 -20 11 -18 12 -14 11 -12 11 -44 42 -20 18 -20 16 -24 17 -24 14 -24 11 -24 9 -28 8 -20 4 -20 3 -24 1 -24 0 -28 -1 -124 -7 -32 -3 -28 -3 -24 -4 -20 -4 -20 -6 -16 -6 -16 -7 -15 -8 -13 -9 -12 -11 0 -121 11 -15 13 -14 16 -16 45 -42 11 -12 10 -12 7 -12 6 -12 3 -12 9 -32 6 -16 8 -16 9 -12 11 -12 13 -12 16 -12 18 -11 20 -11 20 -10 20 -8 24 -10 24 -8 28 -8 28 -8 32 -7 48 -10 48 -8 52 -6 80 -7 32 -4 28 -4 28 -7 24 -7 23 -10 17 -8 52 -26 24 -12 24 -10 24 -10 28 -9 28 -7 32 -6z"/><path fill="#3677fe" d="M2907 138l33 -2 32 -1 32 2 32 5 32 6 28 8 32 12 32 13 0 277 -60 18 -48 11 -44 9 -112 21 -32 7 -28 7 -36 11 -32 11 -137 53 -27 12 -20 10 -19 10 -17 12 -16 12 -12 11 -44 42 -21 19 -23 18 -20 14 -24 14 -24 11 -24 9 -28 8 -20 4 -24 2 -20 1 -24 0 -28 -1 -120 -6 -36 -3 -28 -4 -24 -4 -20 -5 -20 -6 -16 -7 -16 -8 -15 -9 -10 -8 -11 -12 0 -103 12 -17 17 -20 19 -18 46 -42 12 -12 10 -12 8 -12 7 -16 4 -12 7 -28 6 -16 9 -16 8 -12 11 -12 14 -12 16 -12 18 -11 20 -11 20 -10 20 -8 24 -9 28 -9 24 -7 52 -13 44 -9 52 -8 56 -6 80 -7 24 -2 32 -5 24 -6 24 -7 24 -10 20 -10 48 -25 24 -12 24 -11 24 -9 28 -9 28 -8 28 -6z"/><path fill="#317dfc" d="M2903 142l33 -3 36 0 32 2 32 5 32 6 28 8 32 12 32 14 0 267 -32 10 -28 8 -52 13 -44 9 -112 20 -32 7 -28 7 -32 10 -32 11 -140 55 -27 11 -21 10 -17 10 -19 13 -14 11 -14 12 -44 43 -20 18 -20 16 -24 17 -24 13 -24 12 -24 8 -28 8 -20 3 -24 3 -24 1 -24 0 -144 -8 -36 -3 -28 -4 -24 -5 -20 -5 -20 -7 -16 -7 -16 -9 -13 -10 -11 -11 -8 -10 0 -84 6 -11 12 -16 18 -20 20 -19 47 -41 12 -12 7 -8 9 -12 5 -8 3 -8 5 -12 7 -28 4 -12 8 -16 7 -12 6 -8 7 -8 13 -12 20 -15 20 -13 16 -8 20 -10 20 -8 24 -9 24 -8 24 -7 28 -7 28 -6 48 -10 44 -6 52 -6 84 -6 24 -3 28 -4 28 -6 24 -8 24 -10 20 -10 68 -36 24 -11 24 -10 28 -9 28 -8 28 -6z"/><path fill="#2f82fa" d="M2899 146l33 -3 36 -1 32 2 32 4 32 7 32 9 32 12 32 15 0 258 -32 10 -28 8 -52 14 -52 10 -110 19 -30 7 -28 7 -32 10 -32 11 -146 57 -26 12 -17 8 -20 12 -18 12 -13 11 -12 11 -43 42 -18 16 -23 19 -20 14 -24 14 -24 11 -24 9 -28 8 -20 3 -24 3 -24 1 -24 0 -100 -4 -44 -3 -32 -3 -32 -4 -24 -5 -20 -6 -20 -7 -16 -8 -16 -10 -11 -8 -11 -12 -8 -12 -2 -4 0 -61 5 -11 7 -12 6 -8 10 -12 16 -17 20 -18 48 -41 12 -12 8 -8 9 -12 4 -8 4 -8 5 -12 7 -28 4 -12 8 -16 7 -12 6 -8 7 -8 13 -12 16 -12 22 -14 19 -10 17 -8 20 -8 24 -9 24 -8 28 -8 24 -6 28 -6 48 -9 44 -6 52 -6 76 -5 28 -2 28 -4 28 -7 24 -7 20 -9 24 -12 64 -35 24 -11 24 -10 28 -10 24 -7 28 -7z"/><path fill="#2e87f7" d="M2938 146l30 0 28 1 28 4 28 5 28 7 28 10 28 11 24 12 0 249 -32 10 -28 9 -52 13 -52 10 -110 19 -34 7 -28 7 -31 10 -29 11 -147 57 -25 11 -20 10 -19 11 -17 12 -12 9 -13 11 -44 44 -19 18 -23 18 -21 15 -20 12 -24 11 -24 9 -28 8 -20 4 -24 3 -24 1 -24 0 -40 -1 -92 -5 -36 -3 -32 -4 -24 -5 -20 -5 -20 -7 -16 -7 -16 -9 -12 -9 -12 -12 -8 -12 -4 -8 -4 -12 0 -3 0 -21 2 -12 3 -8 6 -12 7 -12 9 -12 7 -8 18 -19 20 -17 48 -40 13 -12 7 -8 10 -12 4 -8 4 -8 5 -12 8 -28 4 -12 7 -16 8 -12 6 -8 7 -8 13 -12 20 -15 20 -12 18 -9 18 -8 20 -8 24 -9 24 -7 24 -7 28 -7 24 -5 44 -8 44 -6 52 -5 100 -7 28 -3 28 -6 24 -8 24 -10 20 -10 48 -27 24 -13 28 -13 28 -11 32 -11 32 -7 32 -5z"/><path fill="#2d8bf4" d="M2925 150l31 -1 32 1 28 3 32 5 28 8 28 9 28 12 28 14 0 240 -32 11 -28 8 -28 8 -32 7 -48 10 -112 18 -32 7 -28 7 -28 9 -28 10 -147 58 -25 11 -20 9 -21 12 -17 12 -14 11 -12 11 -47 46 -17 16 -20 16 -20 15 -20 12 -24 11 -16 7 -12 4 -24 7 -20 3 -24 3 -24 1 -24 1 -52 -2 -80 -4 -36 -3 -28 -3 -24 -5 -20 -5 -20 -7 -16 -7 -14 -8 -14 -11 -9 -9 -9 -12 -4 -8 -4 -12 -1 -8 0 -12 2 -12 3 -12 6 -12 7 -12 6 -8 10 -12 17 -17 20 -17 52 -42 13 -12 8 -8 9 -12 5 -8 4 -8 5 -12 8 -28 4 -12 7 -16 8 -12 6 -8 8 -8 13 -12 16 -12 19 -12 15 -8 20 -9 20 -8 24 -9 24 -8 28 -7 24 -6 28 -6 44 -8 40 -5 48 -4 104 -7 28 -3 28 -6 24 -8 23 -10 21 -11 48 -28 20 -11 24 -11 28 -12 28 -10 32 -8 32 -6z"/><path fill="#2c90f0" d="M2915 154l33 -2 32 0 32 3 32 6 32 8 28 10 28 12 28 15 0 231 -28 10 -28 9 -32 8 -32 8 -24 5 -32 6 -73 11 -35 6 -29 6 -31 8 -26 8 -30 11 -144 57 -28 12 -20 10 -18 10 -18 12 -15 12 -13 12 -44 44 -20 19 -20 16 -20 14 -24 14 -24 11 -24 9 -24 6 -20 4 -20 2 -24 1 -28 0 -76 -2 -52 -2 -32 -3 -32 -4 -24 -5 -20 -5 -18 -7 -17 -8 -14 -8 -11 -9 -11 -11 -8 -12 -3 -8 -4 -12 0 -8 0 -12 3 -12 3 -8 5 -12 8 -12 7 -9 9 -11 19 -19 20 -16 52 -41 13 -12 8 -8 9 -12 6 -8 4 -8 4 -12 9 -28 4 -12 7 -16 8 -12 6 -8 8 -8 13 -12 16 -12 20 -12 17 -9 20 -9 20 -8 20 -7 24 -7 24 -7 28 -6 24 -5 48 -8 48 -6 36 -3 80 -4 32 -3 24 -3 24 -5 24 -8 22 -10 22 -12 44 -26 20 -11 24 -12 24 -11 28 -10 28 -8 28 -6z"/><path fill="#2994ed" d="M2907 158l33 -3 20 0 16 0 32 3 32 5 32 9 30 10 30 13 28 16 0 222 -28 10 -28 9 -28 8 -36 9 -28 6 -28 5 -84 12 -32 6 -28 6 -25 6 -27 8 -28 11 -153 61 -27 12 -20 10 -17 10 -17 12 -14 11 -12 11 -41 42 -19 18 -20 17 -20 14 -20 12 -24 12 -24 9 -24 7 -20 4 -24 3 -24 1 -28 0 -68 -1 -52 -2 -36 -3 -32 -4 -20 -4 -20 -5 -20 -7 -16 -7 -16 -10 -12 -9 -9 -9 -8 -12 -4 -8 -3 -12 -1 -8 0 -12 2 -8 4 -12 5 -12 8 -12 14 -17 10 -11 10 -9 24 -20 51 -39 14 -12 8 -8 10 -12 5 -8 4 -8 5 -12 8 -28 4 -12 5 -12 8 -12 5 -8 7 -8 13 -12 16 -12 21 -13 16 -9 20 -9 20 -8 20 -7 24 -8 20 -5 28 -7 24 -5 48 -8 52 -6 40 -3 80 -3 28 -3 24 -3 24 -5 20 -7 24 -11 20 -11 64 -38 24 -12 24 -11 24 -9 28 -8 28 -7z"/><path fill="#2699ea" d="M2950 158l26 0 28 3 28 4 28 6 28 9 24 10 25 12 23 13 0 215 -28 10 -28 9 -36 10 -32 8 -52 10 -116 17 -28 6 -28 7 -24 7 -28 10 -153 62 -27 12 -20 10 -18 10 -18 12 -15 12 -13 12 -43 44 -16 16 -21 17 -20 15 -20 11 -24 12 -24 9 -24 6 -20 4 -24 3 -24 1 -28 1 -64 -2 -52 -2 -32 -2 -32 -4 -24 -5 -20 -6 -18 -6 -18 -8 -13 -8 -11 -9 -10 -11 -8 -12 -3 -8 -3 -12 0 -8 1 -12 2 -8 4 -12 7 -12 8 -12 14 -16 20 -19 24 -19 50 -38 14 -12 9 -8 9 -12 6 -8 4 -8 4 -12 9 -28 4 -12 8 -16 8 -12 6 -8 8 -8 14 -12 16 -12 21 -12 16 -8 19 -8 19 -7 20 -7 24 -7 20 -6 28 -6 24 -5 48 -7 44 -5 40 -2 76 -4 28 -2 24 -3 24 -5 20 -6 24 -10 24 -14 45 -28 23 -13 28 -14 28 -12 32 -10 20 -5 16 -3 32 -5 16 -1z"/><path fill="#259de7" d="M2927 162l33 -1 32 1 32 5 28 6 28 8 28 11 28 14 24 14 0 206 -28 11 -32 10 -32 9 -32 8 -28 6 -32 5 -79 11 -33 5 -32 7 -24 6 -24 7 -28 11 -84 34 -64 26 -28 12 -24 12 -20 11 -16 12 -12 9 -13 12 -43 44 -16 16 -20 17 -21 15 -23 14 -20 10 -24 9 -24 6 -20 4 -24 3 -24 1 -28 1 -60 -1 -52 -2 -36 -3 -28 -4 -20 -3 -20 -5 -20 -7 -16 -7 -14 -8 -6 -4 -8 -7 -9 -9 -8 -12 -3 -8 -3 -12 0 -8 1 -12 3 -12 3 -8 7 -12 5 -8 6 -8 10 -11 20 -19 24 -19 54 -39 14 -12 8 -8 10 -12 5 -8 4 -8 5 -12 9 -28 4 -12 5 -12 8 -12 6 -8 7 -8 13 -12 16 -12 20 -12 15 -8 18 -8 19 -7 20 -7 20 -7 24 -6 28 -7 24 -4 44 -7 48 -6 40 -2 80 -3 28 -2 24 -3 24 -5 20 -7 12 -5 12 -5 20 -12 46 -29 21 -12 25 -13 24 -11 28 -10 32 -9 28 -5z"/><path fill="#23a1e4" d="M2915 166l33 -2 32 0 32 4 32 6 16 4 16 5 28 11 28 14 16 9 12 8 0 198 -24 9 -32 11 -32 9 -32 8 -32 7 -28 5 -96 13 -28 4 -25 5 -27 7 -24 7 -24 9 -84 35 -73 30 -27 12 -20 10 -18 10 -18 13 -12 10 -12 11 -44 46 -17 16 -19 16 -20 15 -20 11 -24 12 -20 7 -24 7 -20 4 -24 3 -24 2 -28 0 -56 -1 -52 -2 -36 -2 -28 -4 -24 -4 -20 -5 -16 -6 -16 -7 -16 -9 -11 -9 -9 -9 -7 -11 -4 -8 -3 -12 -1 -8 1 -12 3 -12 4 -8 4 -8 8 -12 6 -8 9 -10 20 -18 24 -19 57 -41 14 -12 8 -8 11 -12 5 -8 4 -8 5 -12 8 -28 4 -12 6 -12 7 -12 7 -8 7 -8 13 -12 16 -12 20 -12 17 -8 18 -8 21 -8 20 -7 24 -7 20 -5 24 -5 24 -5 44 -6 48 -5 40 -2 76 -3 28 -1 24 -3 24 -6 12 -3 12 -5 20 -9 20 -12 43 -28 20 -12 22 -12 23 -11 28 -11 28 -8 28 -6z"/><path fill="#20a5e2" d="M2905 170l19 -2 16 -1 32 0 32 2 20 4 16 3 16 4 16 5 16 6 16 6 16 8 12 7 16 10 12 8 0 189 -24 10 -28 10 -28 8 -32 9 -32 7 -32 5 -32 5 -76 10 -22 3 -22 4 -20 5 -24 7 -24 8 -24 10 -68 29 -88 36 -24 11 -20 11 -20 12 -20 16 -16 16 -33 35 -16 16 -18 16 -17 13 -12 8 -12 8 -24 12 -24 9 -24 7 -20 4 -24 3 -24 2 -28 0 -56 0 -48 -2 -36 -2 -28 -4 -20 -3 -20 -5 -19 -6 -17 -8 -15 -8 -10 -8 -9 -8 -8 -12 -4 -8 -3 -12 -1 -8 1 -12 2 -8 4 -12 5 -8 7 -12 10 -12 8 -8 21 -19 24 -18 56 -39 14 -12 9 -8 10 -12 5 -8 4 -8 5 -12 8 -28 5 -12 5 -12 8 -12 10 -12 12 -12 16 -12 19 -12 15 -8 19 -8 20 -8 20 -7 20 -6 24 -7 24 -5 24 -5 48 -7 44 -4 44 -2 76 -2 28 -2 24 -3 24 -5 12 -4 12 -5 20 -9 20 -12 40 -27 19 -12 21 -12 24 -11 24 -10 24 -8 28 -7z"/><path fill="#1da9e0" d="M2933 170l31 -1 32 2 16 2 16 3 28 7 28 9 13 6 15 7 24 13 11 8 13 9 0 180 -24 11 -28 10 -28 9 -32 8 -36 8 -36 6 -104 13 -40 6 -24 6 -20 6 -20 6 -24 10 -76 33 -86 35 -26 12 -20 11 -20 13 -20 16 -16 16 -34 36 -14 14 -16 15 -20 15 -20 13 -24 13 -24 9 -24 7 -20 4 -24 3 -24 2 -28 1 -56 -1 -48 -1 -36 -3 -28 -3 -24 -5 -20 -5 -17 -6 -15 -7 -14 -9 -10 -8 -8 -9 -7 -11 -4 -8 -2 -8 0 -8 0 -12 2 -8 5 -12 4 -8 8 -12 6 -8 12 -12 20 -18 24 -18 59 -40 14 -12 9 -8 10 -12 5 -8 4 -8 5 -12 9 -28 4 -12 6 -12 7 -12 10 -12 14 -13 15 -11 21 -13 14 -7 18 -8 20 -8 20 -6 24 -7 20 -5 24 -6 24 -4 44 -6 44 -4 36 -2 76 -1 32 -2 24 -3 24 -5 12 -3 12 -5 20 -9 20 -13 44 -29 20 -13 24 -13 24 -11 28 -11 16 -5 16 -4 32 -6z"/><path fill="#19addc" d="M2918 174l18 -1 16 -1 32 1 16 2 16 2 16 3 16 4 16 5 15 5 13 5 16 8 13 7 14 8 11 8 14 11 0 171 -24 11 -28 10 -32 10 -32 8 -36 8 -32 5 -32 5 -80 9 -36 6 -20 4 -22 6 -18 6 -24 10 -80 35 -90 37 -25 12 -17 9 -11 7 -11 8 -18 15 -16 15 -31 34 -16 16 -17 16 -16 13 -20 13 -24 12 -24 10 -24 7 -20 4 -24 4 -24 1 -28 1 -52 0 -48 -1 -36 -3 -28 -3 -20 -4 -20 -5 -17 -5 -18 -8 -13 -8 -10 -8 -8 -8 -8 -12 -4 -8 -2 -8 -1 -8 1 -12 2 -8 4 -12 5 -8 8 -12 6 -8 11 -11 20 -18 24 -18 61 -41 15 -12 9 -8 10 -12 5 -8 4 -7 5 -13 8 -28 5 -12 6 -12 7 -12 10 -12 13 -12 17 -12 20 -12 16 -8 18 -8 19 -7 20 -6 20 -6 24 -6 44 -9 44 -6 44 -3 36 -2 76 -1 32 -2 24 -2 24 -5 12 -4 12 -5 20 -10 20 -12 40 -28 20 -13 23 -13 21 -10 28 -12 24 -7 28 -7z"/><path fill="#14b0d8" d="M2907 178l17 -2 20 -1 20 0 16 0 16 2 20 3 16 3 16 4 16 5 16 6 16 6 12 6 13 8 13 8 14 10 12 10 0 162 -24 12 -28 11 -32 10 -32 8 -36 8 -36 5 -36 5 -72 8 -40 6 -20 4 -20 6 -20 7 -20 8 -82 36 -94 39 -20 10 -20 11 -20 13 -19 15 -17 18 -28 30 -15 16 -17 16 -16 13 -20 13 -12 7 -12 6 -24 10 -24 7 -20 5 -24 3 -24 2 -28 1 -48 0 -48 -2 -36 -2 -28 -3 -20 -3 -20 -5 -16 -5 -16 -7 -14 -8 -11 -8 -8 -8 -3 -4 -6 -8 -3 -8 -2 -8 -1 -8 0 -12 2 -8 5 -12 4 -8 8 -12 9 -10 9 -10 11 -9 12 -10 24 -17 60 -40 15 -12 9 -8 10 -12 5 -8 4 -8 5 -12 11 -36 5 -12 8 -12 9 -12 12 -12 15 -12 20 -12 15 -8 18 -8 19 -7 20 -7 24 -7 20 -5 24 -5 24 -4 44 -6 44 -4 40 -1 76 -1 28 -1 24 -3 12 -2 12 -3 12 -4 10 -4 10 -4 12 -7 16 -10 40 -28 20 -14 20 -12 20 -10 25 -11 27 -9 24 -6z"/><path fill="#0cb3d3" d="M2933 178l19 -1 16 0 16 1 16 2 16 2 16 4 28 7 13 5 15 6 12 6 15 8 13 8 11 8 10 8 11 10 0 152 -8 5 -24 11 -28 11 -32 9 -32 8 -36 8 -32 5 -32 4 -76 7 -39 6 -19 4 -18 5 -20 6 -20 8 -84 38 -93 39 -25 12 -18 10 -21 14 -19 16 -16 16 -28 32 -16 16 -16 15 -16 13 -20 13 -12 7 -12 6 -20 8 -24 8 -20 4 -24 3 -24 2 -28 1 -48 0 -48 -1 -32 -2 -28 -3 -20 -3 -20 -5 -16 -5 -16 -7 -12 -6 -12 -9 -8 -7 -4 -5 -5 -7 -4 -8 -2 -8 -1 -8 1 -12 1 -8 5 -12 7 -12 5 -8 9 -10 10 -10 10 -9 12 -9 24 -17 45 -29 18 -12 15 -12 9 -8 10 -12 7 -12 7 -16 7 -24 4 -12 5 -12 7 -12 10 -12 12 -12 16 -12 20 -12 15 -8 19 -8 18 -7 20 -6 20 -6 24 -6 44 -8 44 -6 44 -3 36 -1 76 0 28 -1 24 -3 12 -2 12 -3 12 -3 12 -5 20 -10 20 -13 40 -29 20 -13 24 -14 24 -12 28 -11 28 -8 16 -4 16 -3z"/><path fill="#05b6cd" d="M2918 182l18 -2 16 0 16 0 16 1 16 2 16 2 16 3 16 5 16 5 12 4 16 7 12 7 11 6 13 8 12 9 12 11 8 8 0 142 -12 7 -22 11 -30 11 -32 10 -32 8 -32 6 -36 6 -36 4 -73 7 -35 5 -20 4 -20 5 -18 6 -18 7 -90 41 -94 40 -20 10 -19 10 -18 12 -20 16 -15 16 -29 32 -15 16 -16 15 -16 13 -20 14 -20 11 -24 10 -24 8 -20 4 -24 4 -24 2 -28 1 -48 0 -44 -1 -32 -2 -28 -3 -20 -3 -20 -4 -16 -6 -18 -7 -14 -8 -10 -8 -8 -8 -3 -4 -5 -8 -3 -8 -2 -8 -1 -8 2 -12 2 -8 3 -8 7 -12 6 -8 8 -9 11 -11 21 -18 24 -16 47 -30 18 -12 16 -12 9 -8 10 -12 7 -12 5 -12 8 -28 4 -12 6 -12 7 -12 10 -12 13 -12 15 -12 21 -12 16 -8 16 -7 16 -6 20 -6 20 -6 24 -6 44 -8 44 -5 44 -3 40 -1 72 0 28 -1 24 -2 12 -2 12 -3 12 -4 10 -4 10 -5 12 -6 16 -11 40 -30 20 -13 20 -13 24 -12 24 -10 28 -10 28 -6z"/><path fill="#01b9c8" d="M2907 186l17 -2 16 -1 20 -1 16 1 16 1 16 2 16 3 16 4 16 5 16 6 14 6 14 7 12 7 12 8 13 10 9 8 14 15 0 131 -16 10 -24 12 -24 9 -32 10 -32 8 -32 6 -36 6 -36 4 -76 6 -36 5 -20 4 -16 4 -18 6 -18 7 -20 9 -72 34 -96 40 -20 10 -16 9 -12 7 -11 8 -17 14 -16 17 -29 33 -15 16 -16 15 -16 13 -20 13 -20 11 -24 10 -24 7 -20 4 -24 3 -24 2 -28 1 -48 1 -40 -1 -32 -2 -28 -3 -20 -3 -20 -5 -18 -6 -14 -7 -12 -7 -12 -9 -8 -9 -5 -8 -4 -8 -2 -8 -1 -8 2 -12 2 -8 3 -8 7 -12 6 -8 8 -9 11 -11 21 -17 24 -16 50 -31 18 -12 16 -12 9 -8 10 -12 7 -12 5 -12 8 -28 4 -12 5 -12 8 -12 10 -12 12 -12 17 -12 17 -10 16 -8 16 -7 16 -6 20 -6 20 -6 24 -6 24 -4 20 -4 44 -5 44 -3 40 0 72 0 28 -1 24 -2 12 -2 12 -3 20 -7 20 -10 20 -14 37 -28 19 -13 20 -13 20 -11 24 -11 24 -8 24 -7z"/><path fill="#03bbc2" d="M2930 186l30 -1 16 1 16 1 16 2 16 3 28 8 16 5 12 6 15 7 13 7 13 9 10 8 9 8 8 8 12 15 0 118 -10 7 -14 9 -24 11 -24 9 -32 10 -32 7 -36 7 -32 4 -36 4 -72 6 -32 4 -20 4 -16 3 -18 6 -18 7 -20 9 -77 36 -95 41 -20 10 -17 9 -19 13 -10 7 -10 9 -16 17 -26 30 -15 16 -16 16 -15 12 -20 14 -20 11 -24 10 -24 7 -20 5 -24 3 -24 2 -28 1 -44 0 -40 0 -32 -2 -28 -3 -20 -3 -16 -4 -18 -5 -14 -6 -12 -6 -12 -9 -8 -7 -4 -5 -5 -7 -3 -8 -3 -8 0 -8 1 -12 2 -8 4 -8 6 -12 6 -8 7 -8 9 -9 12 -10 12 -9 28 -19 61 -37 17 -12 13 -12 10 -12 7 -12 5 -12 8 -28 4 -12 6 -12 7 -12 10 -12 13 -12 15 -11 16 -9 16 -8 16 -7 20 -7 17 -6 23 -6 20 -5 20 -4 24 -4 40 -4 44 -3 40 0 76 0 28 0 24 -3 20 -3 12 -4 12 -5 8 -4 12 -7 16 -11 38 -29 22 -16 20 -13 24 -13 14 -6 14 -5 28 -9 28 -6z"/><path fill="#0cbdbc" d="M2915 190l17 -2 16 0 16 0 16 0 16 2 16 2 28 7 16 5 12 5 12 5 16 8 13 8 11 8 10 8 9 8 10 12 11 15 0 104 -5 5 -7 6 -17 10 -23 11 -24 9 -32 9 -32 8 -32 6 -36 5 -32 3 -72 5 -36 4 -20 4 -18 4 -18 6 -16 6 -20 9 -46 23 -30 14 -98 42 -22 11 -16 9 -17 12 -10 8 -9 8 -15 16 -27 32 -15 16 -15 14 -16 14 -20 13 -20 11 -20 8 -24 8 -20 4 -24 3 -24 2 -28 2 -44 0 -40 0 -28 -2 -28 -2 -20 -4 -20 -4 -16 -5 -14 -6 -14 -8 -8 -6 -11 -10 -5 -8 -4 -8 -2 -8 -1 -8 1 -12 2 -8 4 -8 7 -12 6 -8 7 -8 8 -8 12 -11 12 -9 28 -18 63 -38 18 -12 13 -12 10 -12 7 -12 4 -12 8 -28 4 -12 6 -12 7 -11 11 -13 13 -12 16 -11 15 -9 17 -8 16 -7 16 -6 20 -6 20 -5 24 -6 20 -3 24 -4 40 -4 44 -2 40 -1 72 2 24 -1 24 -2 12 -1 12 -3 9 -3 11 -4 12 -6 10 -6 18 -13 34 -27 21 -16 21 -13 20 -11 25 -12 27 -9 24 -6z"/><path fill="#18bfb6" d="M2951 190l29 1 28 3 28 7 16 5 12 4 12 5 12 6 21 13 11 8 9 8 8 8 7 8 8 12 8 14 0 87 -7 7 -9 8 -12 8 -8 5 -24 11 -24 8 -32 9 -32 7 -32 6 -36 4 -32 3 -72 5 -32 3 -20 4 -16 4 -16 5 -16 6 -20 9 -54 27 -25 12 -101 44 -17 8 -15 9 -12 7 -11 8 -17 15 -16 17 -23 28 -15 16 -16 16 -14 12 -20 14 -20 11 -20 8 -24 8 -20 4 -20 3 -24 3 -28 1 -40 1 -40 0 -32 -2 -28 -2 -20 -3 -20 -5 -17 -5 -15 -7 -12 -6 -12 -9 -9 -10 -5 -8 -3 -8 -2 -8 0 -8 2 -12 3 -8 4 -8 5 -8 9 -12 8 -8 9 -8 11 -9 12 -9 24 -15 66 -39 17 -12 10 -8 11 -12 8 -13 6 -15 7 -28 5 -12 5 -12 8 -12 10 -12 14 -12 17 -12 15 -8 17 -8 16 -6 16 -6 20 -6 20 -5 20 -5 20 -3 24 -4 40 -4 44 -2 40 0 68 2 28 0 24 -2 12 -2 12 -3 12 -4 8 -3 12 -6 8 -5 16 -11 40 -33 21 -16 25 -16 24 -12 14 -6 16 -6 16 -5 16 -4 16 -3 16 -2 16 -1z"/><path fill="#22c1b0" d="M2924 194l16 -1 16 -1 28 2 28 4 16 3 12 4 16 5 12 5 12 5 12 7 11 7 11 8 10 8 8 8 10 12 8 12 5 12 5 14 0 61 -5 9 -7 8 -5 4 -10 8 -14 8 -23 11 -27 9 -29 8 -32 7 -36 6 -32 4 -32 2 -72 4 -32 4 -16 2 -16 4 -16 5 -16 6 -24 11 -49 25 -23 11 -29 13 -74 32 -21 10 -18 10 -18 13 -18 15 -14 15 -28 33 -14 16 -14 14 -16 13 -20 14 -20 11 -21 8 -23 7 -20 4 -20 3 -24 3 -32 1 -40 1 -36 0 -28 -2 -28 -2 -20 -4 -16 -3 -16 -5 -16 -7 -15 -8 -9 -8 -8 -8 -5 -8 -4 -8 -1 -8 -1 -8 1 -8 2 -8 4 -8 4 -8 9 -12 7 -8 12 -11 11 -9 13 -9 28 -18 65 -37 17 -12 10 -8 11 -12 7 -12 3 -8 3 -8 6 -24 4 -12 5 -12 7 -12 10 -12 13 -12 15 -11 16 -10 15 -7 17 -7 16 -6 20 -6 20 -5 20 -5 20 -4 24 -3 40 -4 44 -2 40 0 76 3 24 -1 16 -1 12 -1 20 -4 12 -4 8 -4 8 -4 12 -7 16 -12 36 -31 16 -12 23 -16 21 -12 26 -12 26 -9 28 -7z"/><path fill="#29c3a9" d="M2912 198l28 -3 16 0 16 0 16 2 16 2 16 3 12 3 12 4 15 5 13 6 12 6 20 12 10 8 10 9 10 11 5 8 7 12 6 12 3 12 2 12 2 16 0 12 -1 8 -2 8 -4 8 -3 4 -7 8 -6 6 -9 6 -11 7 -20 9 -28 10 -32 9 -32 7 -32 5 -36 4 -32 2 -72 4 -32 3 -16 2 -16 4 -16 5 -16 6 -20 9 -49 26 -24 12 -31 14 -79 34 -21 11 -16 9 -17 12 -10 8 -8 8 -13 14 -28 34 -10 12 -16 16 -15 12 -19 14 -20 11 -20 8 -24 8 -20 4 -20 3 -24 2 -28 2 -40 1 -36 0 -32 -2 -24 -2 -20 -3 -16 -4 -16 -5 -14 -5 -15 -8 -11 -8 -7 -8 -6 -8 -3 -8 -2 -8 -1 -8 1 -8 2 -8 4 -8 4 -8 9 -12 7 -8 12 -11 11 -9 13 -9 28 -17 67 -38 18 -12 10 -8 10 -12 7 -12 5 -12 7 -28 4 -12 5 -12 8 -12 9 -12 13 -12 17 -12 14 -8 17 -8 17 -7 16 -6 20 -6 20 -5 20 -4 20 -3 24 -4 40 -3 40 -1 40 0 72 3 28 0 16 -1 12 -1 20 -5 12 -4 8 -3 10 -6 10 -6 16 -13 33 -29 15 -12 22 -16 20 -12 22 -11 25 -9 23 -7z"/><path fill="#2fc5a3" d="M2936 198l28 -1 28 3 28 5 16 4 12 4 12 5 12 5 13 7 11 7 17 13 8 8 7 8 6 8 7 12 4 8 4 12 3 12 1 12 1 12 -1 12 -1 8 -3 8 -5 8 -3 4 -9 8 -5 4 -11 7 -9 5 -23 10 -24 8 -32 9 -32 6 -32 5 -36 3 -32 2 -64 3 -32 3 -16 2 -16 3 -16 4 -16 6 -24 12 -45 24 -31 16 -28 13 -76 32 -22 11 -18 11 -19 13 -9 8 -8 8 -12 13 -35 43 -16 16 -13 12 -20 14 -20 12 -20 8 -24 8 -20 4 -24 4 -24 2 -28 2 -36 1 -36 -1 -28 -1 -28 -2 -20 -4 -16 -3 -16 -5 -16 -7 -13 -8 -10 -8 -7 -8 -4 -8 -3 -8 -1 -8 0 -8 1 -8 3 -8 4 -8 5 -8 6 -8 8 -8 11 -10 12 -10 12 -8 28 -17 49 -27 21 -12 18 -12 9 -8 11 -12 7 -12 4 -12 7 -28 4 -12 5 -12 8 -12 10 -12 13 -12 14 -10 16 -9 16 -8 16 -6 16 -6 20 -6 20 -5 20 -4 20 -3 24 -3 40 -4 40 -1 40 1 72 3 28 1 24 -2 20 -4 12 -4 8 -3 8 -4 12 -8 16 -12 34 -31 19 -16 23 -16 20 -12 16 -8 12 -5 12 -4 16 -5 28 -6 16 -3z"/><path fill="#34c79c" d="M2919 202l29 -2 28 1 28 3 26 6 14 4 12 5 12 5 11 6 19 12 10 8 8 8 8 9 8 11 4 8 5 12 4 12 2 12 2 16 0 12 -2 8 -2 8 -4 8 -3 4 -6 8 -5 4 -11 8 -8 5 -12 6 -12 5 -24 8 -32 9 -32 6 -32 5 -36 3 -36 2 -68 3 -32 2 -16 2 -16 4 -14 4 -14 5 -24 12 -48 27 -24 12 -34 16 -74 32 -20 10 -18 10 -18 13 -9 7 -9 8 -14 16 -25 32 -10 12 -16 16 -13 11 -18 13 -18 11 -20 8 -24 8 -20 5 -20 3 -24 3 -32 2 -36 0 -36 0 -28 -1 -24 -2 -20 -3 -16 -4 -16 -5 -13 -5 -14 -8 -9 -7 -9 -9 -5 -8 -3 -8 -1 -8 0 -8 1 -8 3 -8 4 -8 5 -8 6 -8 8 -8 11 -10 12 -9 12 -9 28 -17 52 -27 21 -12 18 -12 9 -8 11 -12 6 -12 5 -12 9 -36 4 -12 7 -12 9 -12 13 -12 16 -12 14 -8 16 -8 18 -7 16 -6 20 -6 20 -5 20 -4 20 -3 24 -3 40 -3 40 -1 40 1 72 4 28 0 24 -1 20 -4 12 -4 8 -3 8 -5 12 -8 16 -13 31 -29 18 -16 22 -16 20 -12 25 -12 24 -9 24 -6z"/><path fill="#3ac994" d="M2908 206l16 -2 16 -1 28 0 28 2 16 3 12 3 24 8 12 5 13 6 19 12 10 8 9 8 7 8 9 12 4 8 6 12 3 12 2 12 1 12 1 12 -1 8 -2 8 -3 8 -5 8 -5 6 -7 6 -9 7 -9 5 -11 6 -12 5 -24 8 -32 9 -32 6 -32 4 -36 4 -36 1 -68 2 -28 2 -16 2 -16 3 -15 4 -13 5 -12 5 -12 6 -48 28 -31 16 -33 16 -75 32 -21 10 -16 10 -17 12 -10 8 -8 8 -13 15 -32 41 -15 16 -14 12 -10 8 -9 6 -20 12 -20 8 -24 8 -20 4 -20 3 -24 3 -28 1 -36 1 -32 0 -28 -1 -24 -2 -20 -3 -16 -3 -16 -5 -12 -5 -14 -7 -10 -8 -8 -8 -5 -8 -4 -8 -1 -8 0 -8 1 -8 3 -8 4 -8 5 -8 6 -8 8 -8 11 -10 12 -9 13 -9 31 -18 50 -26 22 -12 16 -10 11 -10 5 -5 5 -7 7 -12 4 -12 5 -24 4 -12 4 -12 7 -12 9 -12 13 -12 14 -10 16 -9 16 -8 16 -7 18 -6 18 -5 20 -5 20 -4 20 -3 24 -3 40 -3 40 0 40 1 72 5 28 0 24 -1 11 -2 9 -2 12 -4 8 -4 8 -4 8 -6 16 -13 32 -31 18 -16 18 -14 20 -13 20 -11 24 -9 24 -8z"/><path fill="#41ca8c" d="M2927 206l13 -1 16 0 28 1 16 2 12 3 24 6 12 5 12 5 20 11 17 12 9 8 7 8 6 8 8 12 3 8 4 12 3 12 1 12 1 12 -1 12 -2 8 -3 8 -5 8 -3 4 -5 5 -8 6 -14 9 -22 10 -28 9 -28 8 -32 6 -32 4 -36 3 -36 1 -72 1 -28 2 -16 2 -12 2 -16 5 -12 5 -12 5 -12 7 -45 26 -31 17 -32 15 -80 35 -18 9 -18 10 -16 12 -16 14 -14 16 -25 32 -9 12 -16 16 -13 12 -19 13 -19 11 -21 9 -20 6 -20 5 -20 3 -24 2 -28 2 -32 1 -32 0 -28 -1 -24 -2 -20 -2 -16 -4 -16 -5 -12 -4 -12 -6 -11 -8 -8 -8 -6 -8 -3 -8 -2 -8 0 -8 1 -8 3 -8 4 -8 5 -8 6 -8 8 -8 11 -9 12 -10 14 -9 30 -17 68 -35 20 -12 12 -9 9 -11 8 -12 3 -8 2 -8 5 -24 4 -12 4 -12 7 -12 10 -12 12 -11 12 -9 16 -10 16 -7 16 -7 16 -6 20 -5 20 -5 20 -4 20 -3 24 -3 40 -2 40 -1 40 2 72 5 28 1 24 -1 12 -2 8 -2 12 -4 8 -4 8 -5 8 -5 16 -14 29 -30 17 -16 20 -16 22 -14 12 -7 12 -5 14 -6 14 -5 12 -3 16 -4z"/><path fill="#4bcb84" d="M2915 210l13 -2 16 -1 28 1 16 1 12 2 24 5 12 4 12 5 20 9 12 7 8 6 8 7 9 8 7 8 5 8 5 8 5 12 3 12 2 12 2 16 -1 12 -1 8 -2 8 -4 8 -3 4 -7 8 -5 4 -11 8 -8 4 -20 9 -28 10 -32 7 -32 6 -32 4 -36 2 -36 1 -68 0 -28 2 -16 1 -12 3 -12 3 -12 4 -12 6 -12 6 -52 32 -29 16 -34 16 -77 33 -21 11 -15 9 -16 11 -10 8 -8 8 -13 16 -21 28 -13 16 -11 12 -13 12 -16 12 -20 12 -19 9 -24 7 -20 5 -20 3 -24 3 -24 2 -32 1 -32 0 -28 0 -24 -2 -20 -3 -16 -3 -16 -5 -13 -5 -11 -5 -10 -7 -9 -8 -5 -8 -4 -8 -2 -8 0 -8 1 -8 3 -8 4 -8 5 -8 7 -8 10 -10 11 -10 11 -8 14 -9 32 -17 68 -34 19 -12 11 -8 6 -6 4 -6 7 -12 4 -12 6 -28 3 -12 5 -12 4 -8 9 -12 12 -12 14 -10 16 -10 16 -8 16 -6 17 -6 19 -6 20 -4 20 -4 20 -3 24 -3 40 -2 44 0 40 2 72 7 24 0 24 -1 12 -2 8 -2 12 -4 8 -4 8 -5 8 -6 12 -11 30 -32 17 -16 19 -16 18 -12 12 -7 12 -6 24 -10 24 -8z"/><path fill="#56cc7b" d="M2938 210l26 0 24 2 24 4 24 7 20 8 12 7 8 5 16 12 8 7 7 8 5 8 5 8 4 8 4 12 2 12 1 12 1 12 -1 12 -2 8 -3 8 -5 8 -4 4 -6 6 -8 6 -14 8 -22 10 -28 9 -28 6 -32 6 -36 3 -36 2 -32 1 -68 -1 -28 1 -16 2 -12 2 -12 3 -12 5 -20 10 -52 33 -32 18 -36 17 -76 33 -20 10 -18 10 -10 7 -8 7 -15 14 -10 12 -23 32 -10 12 -14 16 -14 12 -18 13 -19 11 -21 9 -20 6 -20 4 -20 3 -24 3 -28 2 -32 1 -28 0 -24 -1 -24 -2 -20 -2 -16 -4 -16 -5 -12 -5 -11 -5 -10 -8 -8 -8 -5 -8 -2 -5 -2 -7 0 -8 1 -8 3 -8 4 -8 5 -8 7 -8 8 -8 10 -9 12 -9 16 -10 32 -18 55 -26 16 -8 17 -10 13 -10 4 -4 7 -8 6 -12 4 -12 7 -36 4 -12 6 -12 9 -12 13 -12 15 -11 15 -9 17 -8 16 -6 18 -6 18 -5 20 -4 20 -4 20 -3 24 -2 40 -2 40 1 40 3 72 7 24 1 12 0 12 -1 12 -2 8 -2 8 -3 8 -3 8 -5 8 -6 8 -7 8 -8 32 -35 16 -16 19 -16 21 -14 12 -6 16 -8 12 -5 16 -5 12 -3 16 -3 16 -3z"/><path fill="#61cd71" d="M2921 214l27 -2 24 1 14 1 14 2 24 6 22 8 10 5 12 6 8 5 10 8 12 12 7 8 5 8 4 8 5 12 3 12 1 12 1 12 0 12 -2 8 -2 8 -4 8 -3 4 -5 6 -8 6 -5 4 -11 6 -12 6 -10 4 -14 5 -16 5 -32 7 -32 5 -32 3 -36 1 -36 0 -68 -1 -24 0 -16 2 -12 2 -8 2 -12 4 -8 4 -12 6 -53 35 -20 12 -14 8 -33 16 -84 36 -20 10 -16 10 -17 12 -12 12 -11 13 -25 35 -9 12 -11 12 -13 12 -15 12 -11 7 -10 5 -18 8 -24 8 -20 5 -20 3 -24 3 -24 2 -32 1 -28 0 -24 0 -24 -2 -20 -3 -16 -3 -16 -5 -12 -5 -12 -6 -8 -6 -8 -8 -6 -8 -3 -8 -1 -8 0 -8 4 -12 4 -8 6 -9 10 -11 8 -8 10 -8 12 -8 24 -14 28 -15 51 -23 23 -12 14 -9 8 -6 4 -5 7 -8 6 -12 3 -12 4 -24 3 -12 4 -12 6 -12 9 -12 13 -12 13 -9 16 -10 16 -7 15 -6 17 -6 20 -5 20 -4 20 -4 20 -2 24 -3 40 -1 44 1 40 3 68 8 24 2 12 0 12 -1 12 -2 8 -2 8 -2 8 -4 8 -5 8 -6 8 -8 8 -8 26 -31 15 -16 17 -16 10 -8 12 -8 12 -7 12 -6 24 -10 14 -5 14 -3z"/><path fill="#6dcd67" d="M2911 218l25 -3 16 -1 12 1 16 1 12 1 24 5 23 8 9 4 12 6 10 6 10 7 13 13 7 8 5 8 5 8 4 12 3 12 2 12 0 12 0 12 -2 8 -2 8 -4 8 -3 4 -8 8 -5 4 -15 9 -12 6 -12 5 -26 8 -30 7 -36 5 -36 3 -36 1 -36 0 -68 -3 -24 0 -12 1 -12 2 -8 2 -12 4 -8 4 -12 7 -50 35 -19 12 -14 8 -17 9 -24 11 -83 36 -21 11 -15 9 -16 12 -12 12 -9 12 -22 32 -9 12 -13 15 -12 11 -8 7 -11 7 -17 10 -20 9 -20 7 -16 3 -20 4 -23 3 -25 2 -32 2 -28 0 -24 0 -24 -2 -20 -3 -16 -3 -15 -4 -11 -4 -10 -5 -11 -7 -8 -8 -6 -8 -3 -8 -2 -8 0 -8 4 -12 4 -8 6 -9 10 -11 9 -8 10 -8 11 -8 28 -16 28 -13 51 -23 23 -12 14 -9 8 -7 4 -4 6 -8 6 -12 3 -12 3 -24 3 -12 4 -12 4 -8 8 -12 12 -12 15 -11 14 -9 17 -8 17 -7 17 -5 19 -5 20 -4 20 -4 20 -2 24 -2 40 -1 44 1 40 4 72 9 24 2 20 0 12 -2 8 -2 8 -3 8 -4 8 -5 8 -7 12 -12 28 -35 14 -16 16 -16 18 -14 20 -12 11 -6 13 -5 24 -9 12 -3z"/><path fill="#7acc5e" d="M2930 218l26 -1 24 1 23 4 21 6 20 7 12 6 8 5 8 5 8 7 12 12 6 8 5 8 4 8 4 12 2 12 1 12 0 12 0 8 -1 8 -3 8 -4 8 -3 4 -7 7 -6 5 -14 9 -12 5 -12 5 -15 5 -15 4 -17 4 -17 3 -36 5 -36 2 -36 0 -36 -1 -64 -4 -20 -1 -20 2 -8 1 -12 4 -8 4 -12 7 -51 38 -18 12 -21 12 -15 8 -23 11 -64 27 -23 10 -17 9 -16 10 -8 5 -8 7 -12 13 -10 12 -18 28 -12 16 -10 12 -13 12 -15 12 -10 7 -10 5 -18 8 -24 8 -20 5 -20 3 -24 3 -24 1 -28 2 -28 0 -24 -1 -24 -2 -16 -2 -16 -3 -16 -5 -12 -5 -8 -5 -10 -7 -8 -8 -5 -8 -2 -8 -1 -8 1 -8 3 -8 6 -11 6 -9 8 -8 10 -9 16 -11 24 -15 28 -14 63 -27 16 -8 17 -10 8 -6 4 -4 7 -8 2 -4 4 -8 3 -12 4 -28 3 -12 4 -12 4 -8 8 -12 12 -12 16 -12 15 -8 14 -7 16 -6 20 -6 19 -5 21 -4 20 -3 20 -3 24 -1 40 -1 44 3 40 4 72 10 24 3 20 0 8 -1 8 -2 8 -3 8 -4 8 -6 8 -7 12 -14 26 -35 13 -16 16 -16 9 -8 12 -9 12 -7 14 -8 14 -7 12 -4 15 -5 13 -3 16 -3z"/><path fill="#87cb54" d="M2917 222l15 -2 12 -1 24 1 24 2 24 6 12 4 12 5 18 9 10 6 7 6 12 12 6 8 5 8 4 8 4 12 2 8 1 12 1 12 -1 12 -1 8 -3 8 -4 8 -3 4 -6 6 -7 6 -14 8 -11 5 -16 7 -28 8 -20 4 -16 2 -36 4 -36 2 -40 0 -32 -2 -68 -7 -20 -1 -16 1 -8 2 -8 3 -12 6 -8 6 -33 28 -21 16 -18 12 -13 8 -19 10 -21 10 -71 30 -22 10 -18 9 -16 10 -12 10 -12 12 -11 15 -18 28 -8 12 -10 12 -13 13 -16 13 -17 10 -19 9 -24 8 -20 5 -20 3 -24 3 -24 2 -28 2 -28 0 -24 -1 -20 -1 -16 -3 -16 -3 -14 -4 -11 -4 -11 -6 -9 -6 -8 -8 -5 -8 -3 -8 -1 -8 1 -8 5 -12 4 -8 8 -9 11 -11 9 -8 20 -13 28 -15 28 -13 55 -23 17 -8 16 -9 8 -7 4 -4 7 -8 2 -4 3 -8 3 -12 3 -24 2 -12 3 -12 6 -12 8 -12 11 -11 12 -9 16 -9 16 -8 18 -7 18 -5 20 -5 20 -4 24 -4 20 -2 24 -1 20 0 24 0 20 1 24 3 40 5 64 11 28 4 12 1 8 -1 12 -2 8 -3 8 -4 12 -11 12 -14 25 -37 16 -20 15 -16 9 -8 10 -8 11 -8 10 -6 12 -6 12 -5 12 -5 16 -5z"/><path fill="#94ca4a" d="M2943 222l21 0 24 2 20 4 20 7 20 9 16 10 14 12 11 12 5 8 3 8 3 8 2 8 2 12 1 12 0 12 -1 8 -4 12 -4 8 -3 4 -5 5 -8 7 -14 8 -14 6 -16 6 -14 4 -18 4 -20 4 -20 3 -20 2 -24 1 -40 0 -44 -3 -24 -3 -27 -4 -57 -10 -8 -1 -4 1 -8 5 -4 4 -28 29 -21 20 -20 16 -18 12 -21 12 -24 12 -27 12 -53 22 -22 10 -18 9 -16 11 -10 8 -12 12 -8 12 -17 28 -11 16 -10 12 -12 12 -15 12 -17 11 -20 9 -20 7 -16 4 -20 3 -24 4 -24 2 -28 1 -24 1 -24 -1 -22 -1 -14 -2 -16 -3 -14 -3 -14 -5 -12 -6 -8 -6 -8 -7 -6 -8 -3 -8 -1 -8 1 -8 1 -4 4 -8 4 -8 8 -9 8 -8 12 -10 20 -13 28 -15 28 -13 60 -24 17 -8 14 -8 5 -4 8 -7 6 -9 3 -4 2 -8 3 -12 2 -24 2 -12 3 -12 3 -8 8 -12 11 -12 9 -7 7 -5 14 -8 17 -8 18 -7 20 -6 24 -5 24 -4 24 -3 24 -1 24 -1 20 1 24 1 44 5 48 9 84 18 12 2 4 1 4 -1 4 -2 4 -3 8 -9 8 -10 12 -18 24 -39 14 -20 15 -16 8 -8 10 -8 11 -8 14 -9 16 -8 16 -6 16 -5 16 -4 16 -2z"/><path fill="#a0c841" d="M2925 226l23 -2 20 1 20 2 20 4 20 7 18 8 14 9 13 11 11 12 5 8 4 8 3 8 2 8 2 16 0 16 0 8 -2 8 -3 8 -2 4 -5 8 -4 4 -10 8 -14 8 -16 7 -16 5 -20 5 -24 5 -24 3 -28 2 -28 1 -28 -1 -28 -2 -28 -3 -28 -5 -19 -5 -13 -5 -7 -3 -5 -4 -3 -4 -1 -4 0 -4 2 -8 8 -16 17 -32 12 -20 12 -16 13 -14 11 -10 13 -10 12 -7 16 -9 16 -6 16 -5 16 -4zM2460 366l28 0 28 2 28 3 32 5 28 6 31 8 24 8 10 4 6 4 4 4 3 4 0 4 -1 4 -1 4 -4 8 -9 12 -11 12 -13 12 -15 12 -12 8 -12 8 -24 13 -33 15 -77 32 -22 11 -15 9 -14 12 -11 12 -8 12 -16 28 -8 12 -9 12 -11 12 -12 10 -15 10 -14 8 -20 8 -15 5 -20 5 -20 3 -20 3 -28 2 -28 1 -24 1 -24 -1 -16 -2 -16 -2 -16 -3 -14 -4 -10 -4 -12 -7 -7 -5 -7 -8 -5 -8 -2 -8 0 -8 0 -4 3 -8 4 -8 6 -8 11 -12 9 -8 20 -13 24 -14 32 -14 60 -23 19 -8 17 -9 8 -6 6 -5 6 -8 3 -4 3 -8 2 -12 1 -24 2 -12 3 -12 3 -8 4 -8 5 -8 7 -8 11 -9 16 -10 17 -9 20 -8 23 -7 24 -5 24 -4 28 -3z"/><path fill="#acc738" d="M2915 230l21 -3 20 0 20 1 20 3 20 5 16 7 16 8 8 5 8 6 12 12 8 12 6 12 2 8 2 8 2 20 -1 12 -1 8 -3 12 -5 8 -3 4 -9 8 -12 8 -17 8 -17 6 -23 6 -21 4 -20 3 -24 2 -24 1 -28 0 -26 -2 -26 -3 -24 -4 -20 -5 -16 -6 -10 -6 -4 -4 -3 -4 -1 -4 0 -8 3 -12 8 -20 12 -24 10 -16 12 -16 12 -12 9 -8 12 -9 16 -10 16 -7 15 -6 17 -5zM2429 370l31 -1 28 0 28 2 28 3 28 5 31 7 26 8 20 8 7 4 4 3 4 5 2 4 1 4 0 4 -1 4 -1 4 -5 8 -9 12 -11 12 -14 12 -11 8 -12 8 -13 8 -16 8 -34 16 -79 32 -21 11 -15 9 -10 8 -11 12 -8 13 -15 27 -7 12 -9 12 -10 12 -14 12 -13 9 -16 9 -16 7 -16 5 -16 4 -20 4 -20 3 -24 2 -28 2 -24 1 -24 -1 -20 -1 -16 -2 -16 -4 -12 -3 -12 -5 -12 -6 -8 -6 -5 -6 -5 -8 -3 -8 0 -8 1 -4 2 -8 6 -11 7 -9 8 -8 10 -8 11 -8 13 -8 15 -8 16 -7 28 -12 58 -21 22 -9 16 -9 7 -6 4 -4 6 -8 2 -4 3 -8 1 -12 1 -32 2 -12 3 -8 6 -12 5 -8 8 -8 8 -7 13 -9 15 -8 16 -7 16 -5 20 -6 20 -4 24 -4z"/><path fill="#b8c431" d="M2935 230l21 -1 20 2 20 3 16 4 16 6 16 8 12 8 11 10 10 12 6 12 5 12 2 16 1 16 -1 16 -4 12 -5 8 -3 4 -9 8 -13 8 -16 7 -16 6 -20 5 -20 4 -24 3 -24 2 -24 1 -28 -1 -24 -2 -24 -3 -24 -5 -16 -5 -12 -6 -9 -6 -3 -4 -2 -4 -2 -8 0 -4 1 -8 5 -16 8 -20 11 -20 12 -16 10 -12 13 -11 12 -9 13 -8 17 -8 14 -5 16 -5 16 -4zM2415 374l29 -2 28 -1 28 1 28 3 28 4 30 7 28 8 19 8 11 6 6 6 3 4 2 4 0 4 0 4 -2 8 -7 12 -9 12 -13 12 -15 12 -13 8 -13 8 -16 8 -35 16 -61 24 -19 8 -17 8 -15 9 -13 11 -10 12 -7 12 -12 24 -7 12 -8 12 -10 12 -12 12 -17 12 -15 8 -17 7 -16 5 -16 4 -19 4 -21 3 -24 2 -24 2 -24 0 -20 0 -20 -1 -16 -2 -16 -3 -12 -4 -12 -4 -10 -5 -6 -4 -8 -8 -6 -8 -2 -8 -1 -8 1 -4 2 -8 6 -10 7 -10 8 -8 10 -8 12 -8 11 -6 24 -13 16 -7 20 -7 75 -27 9 -4 12 -6 9 -6 4 -4 7 -8 2 -4 3 -8 1 -12 0 -24 0 -12 2 -12 3 -8 4 -8 5 -8 6 -8 9 -8 11 -8 14 -8 12 -6 16 -6 16 -5 20 -5 20 -3z"/><path fill="#c3c22b" d="M2923 234l21 -2 20 0 17 2 19 4 16 4 18 8 13 8 13 10 9 10 8 12 5 12 3 12 1 8 0 12 -1 16 -3 12 -3 8 -3 4 -8 8 -11 8 -15 8 -14 5 -20 6 -20 4 -20 3 -24 3 -24 1 -24 -1 -24 -1 -24 -3 -20 -4 -18 -5 -14 -6 -9 -6 -4 -4 -3 -4 -3 -8 0 -4 0 -8 3 -12 6 -20 8 -16 9 -16 10 -12 11 -11 10 -9 12 -8 14 -8 16 -8 12 -4 16 -4zM2457 374l27 0 24 2 24 3 28 5 26 6 18 6 15 6 8 4 6 4 5 4 3 4 2 4 2 4 0 4 0 4 -3 8 -4 8 -9 12 -12 12 -10 8 -11 8 -12 7 -24 13 -36 16 -60 23 -20 8 -19 9 -13 8 -10 8 -6 7 -4 5 -7 12 -13 28 -6 12 -8 12 -10 12 -12 11 -12 9 -14 8 -18 8 -16 6 -16 4 -20 4 -20 3 -24 2 -24 2 -24 0 -24 0 -16 -2 -16 -2 -16 -3 -12 -3 -12 -5 -10 -6 -6 -5 -6 -7 -5 -8 -1 -8 0 -8 1 -4 3 -8 8 -12 8 -8 9 -8 11 -8 12 -7 12 -7 16 -8 16 -6 28 -11 64 -21 16 -6 12 -6 7 -4 5 -4 4 -4 6 -8 1 -4 2 -8 1 -12 -2 -32 2 -12 2 -8 5 -12 5 -8 7 -8 11 -10 16 -10 16 -8 16 -6 20 -6 20 -4 24 -4 24 -3z"/><path fill="#cdc028" d="M2914 238l22 -3 20 0 20 1 20 3 16 5 16 7 16 9 13 10 10 12 7 12 4 12 3 16 1 16 -1 8 -1 8 -3 8 -1 4 -4 6 -5 6 -9 8 -14 8 -12 5 -16 6 -20 5 -20 3 -20 3 -24 1 -24 1 -20 -1 -24 -3 -20 -3 -20 -5 -12 -4 -8 -4 -6 -4 -5 -4 -3 -4 -2 -4 -3 -8 0 -8 1 -12 5 -16 6 -16 9 -16 9 -12 11 -12 9 -8 10 -8 13 -8 14 -7 13 -5 15 -5zM2430 378l26 -1 24 0 24 1 28 4 24 4 24 6 17 6 17 8 7 4 5 4 4 4 3 4 1 4 1 4 0 8 -3 8 -7 12 -11 12 -9 8 -10 8 -13 8 -14 8 -16 8 -36 16 -66 24 -19 8 -17 8 -13 8 -9 8 -4 5 -5 7 -4 8 -11 28 -5 12 -7 12 -10 12 -12 12 -14 11 -16 9 -16 7 -16 5 -16 4 -20 4 -20 3 -20 2 -24 1 -24 1 -20 0 -16 -1 -16 -2 -16 -4 -12 -3 -12 -5 -8 -4 -8 -7 -5 -5 -5 -8 -2 -8 0 -8 1 -4 4 -8 4 -8 11 -12 9 -8 12 -8 13 -8 14 -7 16 -7 16 -7 28 -9 58 -18 23 -8 9 -4 7 -4 6 -4 5 -4 4 -4 2 -4 2 -4 2 -8 0 -12 -3 -24 0 -12 1 -12 2 -8 5 -12 5 -8 7 -8 9 -7 12 -9 12 -6 13 -6 19 -7 20 -5 16 -3 20 -3z"/><path fill="#d7be28" d="M2934 238l18 -1 18 1 18 3 16 4 16 5 15 8 12 8 8 8 7 8 7 12 5 12 2 16 1 16 -1 8 -1 8 -3 8 -1 4 -6 8 -8 8 -12 8 -13 7 -12 4 -18 5 -18 4 -20 3 -20 2 -24 1 -20 -1 -20 -1 -24 -4 -19 -4 -13 -4 -12 -6 -9 -6 -4 -4 -2 -4 -4 -8 0 -4 -1 -8 2 -12 4 -16 6 -16 10 -16 9 -12 12 -12 10 -8 12 -8 15 -8 12 -5 16 -5 16 -4zM2417 382l27 -2 24 -1 24 1 24 3 24 3 24 6 20 6 18 8 7 4 6 4 4 4 3 4 2 4 2 4 0 8 -2 8 -1 4 -5 8 -11 12 -9 8 -10 8 -13 8 -14 8 -17 8 -18 8 -20 8 -82 30 -20 9 -12 7 -7 6 -4 4 -5 8 -4 10 -8 26 -5 12 -6 12 -9 12 -11 12 -15 12 -14 8 -18 8 -14 5 -16 4 -16 4 -22 3 -22 2 -24 2 -20 1 -20 0 -16 -1 -16 -2 -12 -2 -14 -4 -11 -4 -8 -4 -7 -5 -8 -7 -5 -8 -2 -8 0 -8 1 -4 3 -8 5 -8 10 -11 10 -9 12 -8 14 -8 16 -8 16 -7 16 -6 32 -10 61 -17 23 -8 9 -4 7 -4 8 -6 4 -6 2 -4 1 -8 0 -12 -4 -24 -2 -12 1 -12 1 -8 4 -12 5 -8 6 -8 8 -8 10 -7 8 -5 16 -8 12 -5 16 -5 16 -4 16 -3z"/><path fill="#e1bc2b" d="M2923 242l17 -2 20 0 20 2 16 3 16 5 16 8 13 8 9 8 6 6 4 6 6 12 4 12 2 16 0 16 -1 8 -2 8 -3 8 -3 4 -7 8 -8 7 -9 5 -15 7 -15 5 -17 4 -20 4 -20 2 -20 1 -24 0 -20 -1 -17 -2 -19 -4 -16 -4 -10 -4 -10 -6 -8 -6 -3 -4 -2 -4 -3 -8 -1 -12 2 -12 4 -16 5 -12 6 -12 9 -12 11 -12 9 -8 12 -8 11 -6 12 -6 16 -6 12 -3zM2408 386l24 -3 24 -1 24 1 28 2 24 3 24 6 16 4 18 8 8 4 6 4 5 4 3 4 3 4 2 4 1 8 -2 8 -1 4 -5 8 -10 12 -9 8 -10 8 -13 8 -15 8 -21 10 -40 16 -84 28 -14 6 -8 4 -6 4 -5 4 -4 4 -4 8 -3 9 -5 23 -3 12 -3 8 -4 8 -7 12 -11 12 -14 12 -12 8 -17 8 -12 5 -16 4 -16 4 -20 4 -24 3 -20 1 -20 1 -20 0 -16 0 -16 -2 -16 -2 -12 -3 -9 -3 -11 -5 -8 -5 -7 -6 -5 -8 -2 -8 -1 -8 3 -8 1 -4 7 -10 9 -10 10 -8 13 -8 12 -7 12 -6 16 -7 16 -6 20 -6 20 -6 64 -16 21 -6 15 -6 10 -6 4 -4 2 -4 2 -4 0 -8 -1 -12 -8 -32 -1 -12 0 -8 1 -8 3 -8 4 -8 2 -4 7 -8 8 -8 12 -8 15 -8 16 -6 17 -6 19 -4z"/><path fill="#e9bb30" d="M2916 246l20 -3 16 0 20 1 16 2 16 5 16 6 15 9 9 8 8 8 7 12 5 12 2 8 1 8 0 16 -1 8 -1 8 -3 8 -2 4 -5 8 -7 6 -8 6 -16 8 -12 5 -12 3 -20 4 -20 3 -20 2 -20 0 -20 -1 -16 -1 -20 -3 -16 -4 -11 -4 -9 -4 -6 -4 -5 -4 -3 -4 -3 -4 -3 -8 -2 -8 0 -12 2 -12 4 -12 5 -12 7 -12 9 -12 8 -8 10 -8 12 -8 13 -7 12 -5 12 -4zM2436 386l20 -1 24 1 24 2 20 2 20 4 20 6 15 6 13 7 6 5 5 4 3 4 2 4 1 4 0 8 -2 8 -4 8 -6 8 -13 12 -16 12 -15 8 -16 8 -18 8 -23 9 -24 8 -90 27 -10 4 -8 4 -5 4 -3 4 -2 4 -1 8 -1 28 -2 12 -2 8 -3 8 -6 12 -10 12 -8 8 -5 4 -8 6 -11 6 -17 8 -12 4 -16 4 -17 4 -19 3 -20 3 -20 1 -20 1 -20 0 -16 -1 -16 -2 -12 -2 -11 -3 -11 -4 -8 -4 -6 -4 -5 -4 -3 -4 -5 -8 -1 -8 1 -8 1 -4 4 -8 8 -10 11 -10 11 -8 14 -8 16 -8 12 -5 32 -11 40 -11 84 -18 16 -5 5 -2 7 -4 3 -4 2 -4 0 -4 0 -4 -3 -12 -9 -24 -4 -12 -2 -12 0 -8 1 -12 2 -8 4 -8 6 -8 8 -8 12 -9 12 -7 19 -8 17 -5 20 -5 20 -4z"/><path fill="#f1ba37" d="M2937 246l15 -1 16 1 16 3 12 3 12 4 13 6 13 8 9 8 7 8 6 11 3 9 2 12 1 16 -1 16 -4 12 -5 8 -7 8 -5 4 -12 7 -12 5 -16 5 -16 4 -17 3 -19 2 -20 1 -16 0 -20 -2 -16 -2 -15 -3 -13 -4 -12 -5 -10 -7 -4 -4 -3 -4 -4 -8 -2 -8 0 -12 2 -16 4 -12 5 -12 8 -12 10 -12 9 -8 12 -8 14 -8 15 -6 16 -5 16 -3zM2423 390l17 -1 16 -1 20 0 16 1 16 2 17 3 18 4 13 4 11 4 9 4 8 5 9 7 3 4 3 4 1 4 1 8 -2 8 -4 8 -6 8 -7 8 -10 8 -12 8 -15 8 -16 8 -20 8 -22 8 -27 9 -24 6 -28 7 -24 5 -16 2 -16 0 -8 -1 -4 -2 -8 -5 -8 -10 -12 -19 -8 -16 -5 -16 -2 -12 1 -12 3 -8 2 -4 5 -8 3 -4 8 -8 11 -8 15 -8 19 -8 16 -4 20 -5zM2268 574l20 -2 16 -1 12 0 8 3 4 2 2 2 6 7 4 9 2 8 2 12 -1 12 -3 12 -5 12 -8 12 -8 8 -11 9 -16 10 -12 5 -16 6 -16 4 -20 5 -20 3 -21 2 -23 1 -20 1 -16 -1 -16 -1 -16 -3 -12 -3 -12 -5 -10 -5 -6 -5 -5 -7 -4 -8 0 -8 2 -8 4 -8 7 -9 12 -11 12 -8 14 -8 14 -7 16 -6 20 -7 20 -6 20 -5 24 -4 28 -5z"/><path fill="#f8ba3d" d="M2927 250l17 -2 16 1 16 1 16 4 13 4 15 7 12 8 9 9 3 4 5 8 5 12 3 12 0 16 -1 16 -4 12 -5 8 -8 8 -11 8 -9 4 -10 4 -13 4 -16 4 -16 2 -20 2 -16 1 -16 -1 -16 -1 -20 -3 -12 -3 -15 -5 -8 -4 -6 -4 -7 -7 -4 -5 -2 -4 -2 -8 -1 -8 0 -12 3 -12 4 -12 6 -12 5 -8 7 -8 8 -8 11 -8 13 -8 12 -5 12 -5 12 -3zM2416 394l16 -2 16 -1 20 0 16 1 16 1 16 3 12 2 16 4 11 4 9 4 12 6 7 6 5 5 3 7 2 4 0 4 -1 8 -4 8 -6 8 -8 8 -10 8 -12 8 -15 8 -17 8 -20 8 -24 8 -24 7 -24 5 -20 4 -16 2 -16 1 -12 -1 -12 -3 -4 -1 -8 -5 -8 -7 -6 -6 -6 -8 -8 -12 -5 -12 -2 -12 0 -12 1 -8 2 -4 4 -8 3 -4 7 -8 10 -8 14 -8 14 -6 17 -6 19 -5zM2246 582l22 -2 16 0 12 1 12 3 8 3 8 6 4 5 4 8 3 8 0 12 -2 12 -5 12 -8 12 -7 8 -10 8 -14 8 -13 6 -16 6 -14 4 -19 4 -23 4 -20 2 -20 1 -20 0 -16 0 -16 -2 -16 -3 -12 -3 -12 -6 -8 -5 -5 -4 -3 -4 -2 -4 -2 -8 0 -8 3 -8 5 -8 8 -8 9 -8 12 -8 11 -6 12 -6 20 -8 16 -5 16 -5 20 -4 20 -4 20 -3z"/><path fill="#febd3c" d="M2921 254l19 -2 16 -1 16 2 16 3 12 4 14 6 12 8 9 8 7 8 6 12 3 12 1 12 0 16 -3 12 -3 8 -2 4 -7 8 -9 8 -8 4 -9 4 -11 4 -15 4 -17 3 -16 2 -16 1 -20 0 -16 -1 -12 -2 -16 -3 -12 -4 -10 -4 -6 -4 -8 -7 -4 -5 -4 -8 -2 -8 -1 -12 2 -12 3 -12 5 -12 5 -8 6 -8 8 -8 9 -8 13 -8 8 -4 12 -5 12 -4zM2410 398l18 -2 16 -1 16 -1 16 1 16 1 16 2 19 4 13 3 12 5 9 4 7 4 5 4 4 4 4 4 2 4 1 4 1 4 -1 8 -4 8 -6 8 -7 8 -11 8 -12 8 -15 8 -29 12 -24 8 -20 6 -20 4 -20 4 -16 1 -16 0 -12 -1 -10 -2 -6 -2 -8 -4 -9 -6 -7 -7 -4 -4 -8 -12 -6 -13 -2 -12 0 -8 0 -4 3 -8 4 -8 6 -8 10 -8 12 -8 13 -6 16 -6 16 -4zM2214 590l18 -2 20 -1 16 0 16 1 12 2 10 4 6 4 4 3 4 4 5 9 1 4 1 8 0 8 -3 12 -5 8 -2 4 -7 8 -9 8 -12 8 -13 6 -14 6 -13 4 -17 4 -20 4 -20 2 -20 2 -20 1 -16 -1 -16 -1 -16 -2 -12 -3 -12 -5 -10 -5 -4 -4 -4 -4 -2 -3 -2 -5 -1 -8 2 -8 4 -8 6 -8 7 -7 8 -6 11 -7 13 -7 12 -5 12 -5 16 -5 32 -8z"/><path fill="#fec239" d="M2917 258l15 -3 16 -1 16 1 16 2 16 5 12 5 12 7 9 8 7 8 4 6 2 6 4 12 1 12 -1 16 -2 12 -4 8 -2 4 -7 8 -11 8 -7 4 -10 4 -11 4 -16 3 -12 2 -16 2 -12 1 -16 -1 -12 0 -16 -2 -12 -3 -9 -2 -11 -4 -8 -5 -5 -3 -4 -4 -3 -4 -5 -8 -2 -8 -1 -12 0 -12 2 -8 4 -12 5 -8 5 -8 7 -8 9 -8 8 -5 11 -7 9 -4 12 -4zM2440 398l20 -1 16 1 16 1 16 3 16 3 12 4 12 4 8 4 7 5 5 4 4 5 3 7 1 4 0 8 -4 8 -5 8 -8 8 -11 8 -13 8 -16 8 -19 8 -20 7 -20 5 -20 5 -16 2 -16 2 -16 0 -12 -1 -12 -3 -8 -3 -12 -6 -8 -6 -8 -9 -6 -9 -5 -12 -2 -8 0 -8 1 -4 2 -8 4 -8 6 -7 6 -5 11 -8 15 -8 11 -4 14 -4 18 -4 17 -3zM2212 594l20 -2 16 0 16 0 12 2 12 2 8 3 8 5 7 6 5 8 3 8 0 8 0 4 -3 8 -4 8 -6 8 -8 8 -11 8 -11 6 -13 6 -15 5 -16 4 -20 4 -20 3 -20 1 -16 1 -16 0 -16 -1 -12 -2 -15 -3 -11 -4 -8 -4 -6 -4 -4 -4 -3 -4 -2 -4 -1 -4 0 -4 2 -8 4 -8 4 -5 6 -7 10 -8 8 -5 12 -6 12 -6 12 -5 16 -5 16 -4 16 -4z"/><path fill="#fec735" d="M2938 258l14 0 12 0 12 2 12 3 12 4 12 7 8 5 7 7 6 8 4 8 2 8 2 12 0 12 -1 12 -4 12 -4 8 -7 8 -6 4 -6 4 -9 4 -10 4 -14 4 -12 2 -16 2 -16 1 -12 0 -15 -1 -13 -2 -12 -2 -12 -4 -9 -4 -7 -4 -5 -4 -3 -4 -6 -8 -2 -8 -2 -12 0 -12 3 -12 5 -12 5 -8 6 -8 9 -8 11 -8 11 -6 12 -6 12 -3 12 -3zM2432 402l28 -1 28 2 24 3 13 4 12 4 9 4 6 4 6 4 6 7 2 5 2 4 0 4 -2 8 -4 8 -7 8 -7 6 -8 6 -14 8 -14 7 -12 5 -20 7 -16 4 -16 4 -16 2 -16 2 -16 0 -12 -1 -12 -2 -8 -3 -12 -5 -10 -8 -8 -8 -6 -9 -4 -11 -1 -8 0 -8 1 -4 4 -8 5 -8 9 -8 10 -7 10 -5 14 -5 16 -5 16 -3zM2211 598l17 -1 16 0 16 1 12 2 9 2 10 4 6 4 7 6 4 6 2 8 1 8 -2 8 -4 8 -6 8 -8 8 -12 8 -15 8 -12 4 -13 4 -15 4 -32 5 -20 2 -16 0 -16 0 -16 -1 -13 -2 -11 -3 -8 -2 -8 -4 -8 -6 -4 -5 -3 -4 -1 -4 0 -4 0 -4 3 -8 5 -8 8 -8 8 -6 9 -6 11 -6 12 -5 25 -9 15 -4 16 -4 16 -2z"/><path fill="#fdcd32" d="M2932 262l16 -1 12 0 12 2 13 3 11 4 12 6 8 6 8 8 5 8 3 6 2 6 2 12 0 12 -2 12 -4 12 -5 8 -7 8 -6 4 -8 4 -8 4 -13 4 -15 3 -12 2 -16 1 -12 0 -12 -1 -13 -1 -11 -2 -12 -4 -8 -3 -8 -4 -8 -7 -3 -4 -5 -8 -2 -8 -2 -8 0 -8 2 -12 2 -8 4 -8 5 -8 7 -8 8 -8 8 -5 8 -5 12 -6 8 -3 12 -3zM2428 406l24 -2 16 1 12 0 24 4 20 5 9 4 8 4 6 4 5 4 4 5 3 7 0 4 0 4 -1 4 -4 8 -6 7 -6 5 -11 8 -11 6 -12 6 -12 5 -16 5 -16 5 -16 3 -16 3 -12 1 -12 0 -12 -1 -12 -2 -10 -3 -10 -5 -11 -7 -8 -8 -5 -7 -4 -9 -1 -8 0 -8 2 -8 5 -8 8 -8 10 -7 8 -5 12 -5 16 -5 16 -4zM2210 602l18 -1 16 1 12 1 12 2 8 3 8 3 8 6 5 5 3 5 2 7 0 8 -3 8 -5 8 -7 8 -7 6 -10 6 -10 5 -12 5 -12 3 -16 4 -16 3 -20 3 -16 1 -16 1 -24 -2 -12 -1 -12 -3 -8 -3 -8 -4 -8 -6 -4 -6 -2 -4 0 -4 0 -4 2 -7 3 -5 5 -6 6 -6 10 -7 8 -5 12 -6 12 -5 24 -8 28 -6z"/><path fill="#fbd22f" d="M2929 266l15 -2 12 1 13 1 15 3 11 5 9 5 9 7 8 8 4 8 4 12 1 12 0 12 -3 12 -3 8 -5 8 -4 4 -5 4 -6 4 -8 4 -11 4 -9 2 -12 3 -12 1 -12 1 -12 0 -12 -1 -12 -1 -18 -5 -10 -4 -6 -4 -5 -4 -4 -4 -5 -8 -3 -8 -2 -8 0 -8 0 -8 2 -8 3 -8 4 -8 6 -8 6 -6 7 -6 9 -6 12 -6 8 -3 8 -2zM2426 410l26 -2 24 1 12 1 12 3 19 5 10 4 7 4 5 4 4 4 3 4 1 4 1 4 0 4 -1 4 -2 4 -5 8 -6 6 -8 6 -12 7 -10 5 -14 6 -16 5 -16 4 -12 3 -12 1 -12 1 -12 0 -12 -1 -12 -2 -8 -2 -12 -6 -8 -5 -4 -4 -7 -8 -4 -8 -2 -8 0 -8 3 -8 5 -8 4 -4 9 -7 8 -5 12 -6 12 -4 12 -3zM2211 606l25 0 12 1 12 3 8 2 8 4 8 5 4 5 3 4 1 4 1 4 -1 8 -1 4 -5 8 -3 4 -9 8 -10 6 -12 6 -11 4 -13 4 -12 3 -16 3 -16 2 -28 2 -16 -1 -12 -1 -12 -2 -8 -2 -11 -4 -5 -3 -6 -5 -4 -4 -1 -4 -1 -4 0 -4 1 -4 4 -8 7 -8 4 -4 5 -4 11 -6 11 -6 10 -4 11 -4 14 -4 26 -5z"/><path fill="#f9d82c" d="M2927 270l13 -2 12 0 12 1 12 2 12 4 12 6 8 7 6 6 5 8 3 8 2 12 0 12 -2 12 -3 8 -4 8 -8 8 -5 4 -7 4 -10 4 -9 3 -20 4 -12 1 -12 0 -12 -1 -12 -2 -8 -1 -12 -4 -8 -4 -6 -4 -4 -4 -4 -4 -2 -4 -4 -8 -2 -8 0 -8 0 -8 2 -8 2 -8 5 -8 5 -7 5 -5 7 -6 8 -5 8 -4 8 -4 8 -2zM2427 414l21 -2 24 1 20 3 10 2 10 3 11 5 6 4 5 4 3 4 2 4 1 4 0 4 0 4 -4 8 -4 4 -8 8 -6 4 -10 6 -12 5 -12 5 -12 4 -24 5 -12 1 -12 1 -12 0 -8 -1 -9 -2 -11 -3 -8 -4 -8 -5 -5 -4 -6 -8 -4 -8 -1 -8 1 -8 2 -4 5 -8 4 -4 8 -6 11 -6 10 -4 11 -3zM2175 614l25 -3 20 -1 20 2 16 3 7 3 8 4 5 4 3 4 3 4 1 4 0 4 0 4 -1 4 -5 8 -3 4 -10 8 -6 4 -8 4 -10 4 -12 4 -15 4 -29 5 -28 1 -16 0 -12 -1 -8 -2 -12 -3 -9 -4 -5 -4 -4 -4 -2 -4 -2 -4 0 -4 1 -4 2 -4 5 -8 6 -5 8 -6 16 -9 12 -5 12 -4 12 -4z"/><path fill="#f6dd29" d="M2927 274l13 -2 12 0 12 1 12 3 12 4 8 5 7 5 7 8 4 8 3 8 1 12 -1 12 -3 12 -4 8 -6 8 -5 4 -7 4 -8 4 -16 5 -20 3 -20 0 -12 -1 -8 -2 -8 -2 -8 -3 -8 -4 -4 -3 -5 -5 -3 -4 -2 -4 -3 -8 -2 -8 0 -8 0 -8 2 -8 4 -8 3 -4 6 -8 4 -4 11 -8 8 -4 9 -4zM2431 418l21 -1 20 0 20 4 8 2 9 3 7 4 6 4 4 4 3 4 1 4 0 4 0 4 -2 4 -2 4 -6 7 -7 5 -6 4 -8 4 -11 5 -8 3 -14 4 -22 4 -20 1 -12 -1 -8 -1 -8 -2 -8 -3 -5 -2 -7 -4 -4 -4 -4 -4 -3 -4 -2 -4 -1 -8 1 -8 1 -4 6 -8 5 -4 5 -4 7 -4 10 -4 11 -4 12 -2zM2174 618l22 -3 20 0 16 1 8 2 8 2 6 2 6 3 4 3 4 3 2 3 2 4 1 4 0 4 -1 4 -2 4 -3 4 -3 4 -10 8 -7 4 -9 4 -11 4 -14 4 -25 5 -16 1 -12 1 -12 0 -12 -1 -12 -2 -8 -2 -6 -2 -7 -4 -5 -4 -3 -4 -1 -4 -1 -4 1 -4 2 -5 5 -7 7 -6 8 -6 16 -8 20 -7z"/><path fill="#f5e327" d="M2930 278l10 -1 12 -1 12 2 12 3 12 5 6 4 6 6 5 6 3 8 3 12 0 8 -2 12 -3 8 -4 8 -6 7 -7 5 -8 4 -5 2 -6 2 -10 2 -16 2 -12 0 -8 -1 -16 -3 -11 -4 -7 -4 -5 -4 -6 -8 -3 -6 -2 -6 -2 -12 1 -12 3 -8 4 -6 4 -6 4 -4 5 -4 7 -5 5 -3 10 -4zM2439 422l17 -1 16 2 16 3 13 4 7 4 5 4 4 4 2 4 0 4 0 4 -2 4 -2 4 -4 4 -7 6 -8 5 -16 7 -20 6 -20 3 -16 0 -16 -2 -8 -2 -7 -3 -7 -4 -5 -4 -5 -6 -3 -6 -1 -4 1 -4 0 -4 2 -4 3 -4 4 -4 5 -4 7 -4 8 -4 18 -5zM2174 622l18 -2 20 0 16 1 12 3 4 2 8 4 5 4 3 4 1 4 1 4 -1 4 -1 4 -4 5 -7 7 -5 3 -9 5 -7 3 -16 5 -24 5 -24 2 -20 0 -12 -2 -8 -1 -8 -3 -4 -2 -4 -3 -4 -4 -2 -4 -1 -4 0 -4 2 -4 2 -4 7 -7 7 -5 14 -8 10 -4 13 -4z"/><path fill="#f5e924" d="M2935 282l9 -1 12 1 8 1 11 3 8 4 6 4 4 4 6 8 3 8 1 4 0 8 0 8 -3 11 -4 9 -4 5 -8 7 -8 4 -12 4 -16 3 -16 0 -12 -2 -12 -3 -5 -2 -6 -4 -5 -4 -3 -4 -5 -8 -2 -4 -2 -8 0 -8 0 -4 2 -8 2 -4 5 -8 8 -8 5 -4 7 -4 11 -5zM2424 430l16 -2 12 -1 16 1 12 2 11 4 9 5 3 3 2 4 1 4 0 4 -1 4 -3 4 -4 4 -5 4 -7 4 -6 3 -12 4 -16 4 -16 1 -16 -1 -12 -2 -11 -5 -5 -4 -4 -4 -2 -4 -1 -4 0 -4 1 -4 2 -4 3 -4 4 -4 5 -3 11 -5zM2178 626l18 -1 12 0 8 1 8 1 8 2 9 5 5 4 3 4 1 4 -1 4 -1 4 -3 4 -3 4 -5 4 -7 4 -9 4 -13 4 -20 5 -12 1 -12 1 -16 0 -8 -1 -10 -2 -10 -4 -6 -4 -3 -4 -1 -4 0 -4 1 -4 3 -4 3 -4 5 -4 6 -4 8 -4 16 -6 12 -3z"/><path fill="#f5ee21" d="M2924 290l12 -3 8 0 8 0 8 1 8 2 8 3 7 5 4 4 3 4 4 8 1 8 0 8 -2 8 -3 8 -5 8 -5 5 -4 3 -7 4 -9 3 -12 2 -12 0 -12 -1 -12 -4 -8 -5 -7 -7 -5 -8 -2 -8 -1 -8 0 -4 2 -8 4 -8 7 -8 10 -7zM2424 438l12 -3 12 -1 12 1 12 2 4 1 8 4 4 3 3 5 0 4 -2 4 -1 2 -6 6 -7 4 -10 4 -13 3 -12 1 -12 0 -8 -2 -6 -2 -7 -4 -4 -4 -2 -4 -1 -4 1 -4 2 -4 4 -4 7 -4zM2162 634l14 -3 16 -1 12 1 12 2 8 2 5 3 3 2 1 2 3 4 0 4 -1 4 -3 4 -4 4 -5 4 -7 4 -12 4 -16 4 -16 2 -16 0 -16 -2 -4 -1 -8 -3 -5 -4 -3 -4 0 -4 1 -4 3 -4 3 -4 9 -6 13 -6z"/><path fill="#f7f31d" d="M2935 294l9 -1 8 0 8 2 8 3 6 4 5 4 2 4 3 5 1 7 0 8 -2 8 -3 7 -4 5 -4 4 -6 4 -10 4 -8 2 -12 0 -8 -1 -8 -3 -8 -5 -4 -4 -4 -5 -4 -8 -1 -8 1 -8 3 -8 3 -4 6 -6 8 -5 8 -3zM2441 446l11 0 4 0 4 1 5 3 2 4 -2 4 -5 4 -12 4 -8 0 -4 0 -8 -3 -1 -1 -3 -4 1 -4 4 -4 7 -3zM2174 638l10 -1 8 0 9 1 7 2 5 2 5 4 2 4 -1 4 -2 4 -5 4 -4 3 -12 5 -8 2 -12 2 -12 1 -10 -1 -10 -2 -5 -2 -4 -4 -2 -4 1 -4 2 -4 5 -4 6 -4 5 -2 8 -3z"/><path fill="#f8f817" d="M2942 302l10 1 8 2 4 3 3 2 3 4 2 4 1 8 -1 5 -3 7 -3 4 -4 4 -6 4 -4 2 -4 1 -8 0 -8 -1 -4 -2 -4 -2 -4 -3 -5 -7 -3 -8 0 -4 1 -4 1 -4 3 -4 4 -4 6 -4 5 -2zM2163 650l13 -3 8 0 4 1 5 2 3 4 -3 4 -7 4 -10 3 -8 0 -4 0 -4 -1 -5 -2 -1 -4 2 -4z"/></g></svg>
</g>
<path d="M938.9 444.0H1580.2" fill="none" stroke="#777" stroke-width="1"/>
<path d="M939.4 62.8H1572.0" fill="none" stroke="#d8d4e8" stroke-opacity=".8" stroke-width="0.8"/>
<text transform="translate(978.30 461.05) scale(1.58 1)" font-size="12.2" text-anchor="middle" font-weight="bold" fill="#000">2400</text>
<text transform="translate(1053.45 461.05) scale(1.58 1)" font-size="12.2" text-anchor="middle" font-weight="bold" fill="#000">2200</text>
<text transform="translate(1128.60 461.05) scale(1.58 1)" font-size="12.2" text-anchor="middle" font-weight="bold" fill="#000">2000</text>
<text transform="translate(1203.75 461.05) scale(1.58 1)" font-size="12.2" text-anchor="middle" font-weight="bold" fill="#000">1800</text>
<text transform="translate(1278.90 461.05) scale(1.58 1)" font-size="12.2" text-anchor="middle" font-weight="bold" fill="#000">1600</text>
<text transform="translate(1354.05 461.05) scale(1.58 1)" font-size="12.2" text-anchor="middle" font-weight="bold" fill="#000">1400</text>
<text transform="translate(1429.20 461.05) scale(1.58 1)" font-size="12.2" text-anchor="middle" font-weight="bold" fill="#000">1200</text>
<text transform="translate(1504.35 461.05) scale(1.58 1)" font-size="12.2" text-anchor="middle" font-weight="bold" fill="#000">1000</text>
<text transform="translate(1579.50 461.05) scale(1.58 1)" font-size="12.2" text-anchor="middle" font-weight="bold" fill="#000">800</text>
<path d="M978.3 444.0v-1.8M1053.5 444.0v-1.8M1128.6 444.0v-1.8M1203.8 444.0v-1.8M1278.9 444.0v-1.8M1354.0 444.0v-1.8M1429.2 444.0v-1.8M1504.3 444.0v-1.8M1579.5 444.0v-1.8" stroke="#333" stroke-width="0.8" fill="none"/>
<text transform="translate(967.80 56.60) scale(1.58 1)" font-size="12.2" text-anchor="middle" font-weight="bold" fill="#000">400</text>
<text transform="translate(1043.46 56.60) scale(1.58 1)" font-size="12.2" text-anchor="middle" font-weight="bold" fill="#000">350</text>
<text transform="translate(1119.12 56.60) scale(1.58 1)" font-size="12.2" text-anchor="middle" font-weight="bold" fill="#000">300</text>
<text transform="translate(1194.78 56.60) scale(1.58 1)" font-size="12.2" text-anchor="middle" font-weight="bold" fill="#000">250</text>
<text transform="translate(1270.44 56.60) scale(1.58 1)" font-size="12.2" text-anchor="middle" font-weight="bold" fill="#000">200</text>
<text transform="translate(1346.10 56.60) scale(1.58 1)" font-size="12.2" text-anchor="middle" font-weight="bold" fill="#000">150</text>
<text transform="translate(1421.76 56.60) scale(1.58 1)" font-size="12.2" text-anchor="middle" font-weight="bold" fill="#000">100</text>
<text transform="translate(1497.42 56.60) scale(1.58 1)" font-size="12.2" text-anchor="middle" font-weight="bold" fill="#000">50</text>
<text transform="translate(1573.08 56.60) scale(1.58 1)" font-size="12.2" text-anchor="middle" font-weight="bold" fill="#000">0</text>
<text transform="translate(933.30 444.90) scale(1.58 1)" font-size="12.2" text-anchor="end" font-weight="bold" fill="#000">0</text>
<text transform="translate(933.30 364.95) scale(1.58 1)" font-size="12.2" text-anchor="end" font-weight="bold" fill="#000">50</text>
<text transform="translate(933.30 285.00) scale(1.58 1)" font-size="12.2" text-anchor="end" font-weight="bold" fill="#000">100</text>
<text transform="translate(933.30 205.05) scale(1.58 1)" font-size="12.2" text-anchor="end" font-weight="bold" fill="#000">150</text>
<text transform="translate(933.30 125.10) scale(1.58 1)" font-size="12.2" text-anchor="end" font-weight="bold" fill="#000">200</text>
<text transform="translate(1586.50 68.70) scale(1.58 1)" font-size="12.2" text-anchor="start" font-weight="bold" fill="#000">900</text>
<text transform="translate(1586.50 116.28) scale(1.58 1)" font-size="12.2" text-anchor="start" font-weight="bold" fill="#000">800</text>
<text transform="translate(1586.50 163.86) scale(1.58 1)" font-size="12.2" text-anchor="start" font-weight="bold" fill="#000">700</text>
<text transform="translate(1586.50 211.44) scale(1.58 1)" font-size="12.2" text-anchor="start" font-weight="bold" fill="#000">600</text>
<text transform="translate(1586.50 259.02) scale(1.58 1)" font-size="12.2" text-anchor="start" font-weight="bold" fill="#000">500</text>
<text transform="translate(1586.50 306.60) scale(1.58 1)" font-size="12.2" text-anchor="start" font-weight="bold" fill="#000">400</text>
<text transform="translate(1586.50 354.18) scale(1.58 1)" font-size="12.2" text-anchor="start" font-weight="bold" fill="#000">300</text>
<text transform="translate(1586.50 401.76) scale(1.58 1)" font-size="12.2" text-anchor="start" font-weight="bold" fill="#000">200</text>
<text transform="translate(1586.50 449.34) scale(1.58 1)" font-size="12.2" text-anchor="start" font-weight="bold" fill="#000">100</text>
<text transform="translate(1272.20 479.90) scale(1.58 1)" font-size="14.1" text-anchor="middle" font-weight="bold" fill="#000">F2(Hz)</text>
<text transform="translate(1269.80 43.00)" font-size="18.5" text-anchor="middle" fill="#000">F2(mm)</text>
<text transform="translate(892.30 230.00) rotate(-90)" font-size="19.5" text-anchor="middle" fill="#000">F1(mm)</text>
<text transform="translate(1641.20 234.50) rotate(-90)" font-size="19.5" text-anchor="middle" fill="#000">F1(Hz)</text>
<defs><linearGradient id="cb939" x1="0" y1="1" x2="0" y2="0"><stop offset="0.0000" stop-color="#3e26a8"/><stop offset="0.0159" stop-color="#402ab4"/><stop offset="0.0317" stop-color="#422ec0"/><stop offset="0.0476" stop-color="#4332cb"/><stop offset="0.0635" stop-color="#4537d5"/><stop offset="0.0794" stop-color="#463cde"/><stop offset="0.0952" stop-color="#4741e5"/><stop offset="0.1111" stop-color="#4747eb"/><stop offset="0.1270" stop-color="#484df0"/><stop offset="0.1429" stop-color="#4852f4"/><stop offset="0.1587" stop-color="#4758f8"/><stop offset="0.1746" stop-color="#465efb"/><stop offset="0.1905" stop-color="#4563fd"/><stop offset="0.2063" stop-color="#4269fe"/><stop offset="0.2222" stop-color="#3e6fff"/><stop offset="0.2381" stop-color="#3875fe"/><stop offset="0.2540" stop-color="#327cfc"/><stop offset="0.2698" stop-color="#2f81fa"/><stop offset="0.2857" stop-color="#2e87f7"/><stop offset="0.3016" stop-color="#2d8cf3"/><stop offset="0.3175" stop-color="#2b91ef"/><stop offset="0.3333" stop-color="#2797eb"/><stop offset="0.3492" stop-color="#259be8"/><stop offset="0.3651" stop-color="#23a0e5"/><stop offset="0.3810" stop-color="#20a5e3"/><stop offset="0.3968" stop-color="#1ca9df"/><stop offset="0.4127" stop-color="#18addb"/><stop offset="0.4286" stop-color="#12b1d6"/><stop offset="0.4444" stop-color="#08b5d0"/><stop offset="0.4603" stop-color="#01b8ca"/><stop offset="0.4762" stop-color="#02bac3"/><stop offset="0.4921" stop-color="#0bbdbd"/><stop offset="0.5079" stop-color="#19bfb6"/><stop offset="0.5238" stop-color="#24c1ae"/><stop offset="0.5397" stop-color="#2cc4a7"/><stop offset="0.5556" stop-color="#31c69f"/><stop offset="0.5714" stop-color="#37c897"/><stop offset="0.5873" stop-color="#3fca8e"/><stop offset="0.6032" stop-color="#4acb84"/><stop offset="0.6190" stop-color="#57cc7a"/><stop offset="0.6349" stop-color="#64cd6f"/><stop offset="0.6508" stop-color="#72cd64"/><stop offset="0.6667" stop-color="#81cc59"/><stop offset="0.6825" stop-color="#8fcb4e"/><stop offset="0.6984" stop-color="#9dc943"/><stop offset="0.7143" stop-color="#abc739"/><stop offset="0.7302" stop-color="#b9c431"/><stop offset="0.7460" stop-color="#c5c22a"/><stop offset="0.7619" stop-color="#d1bf27"/><stop offset="0.7778" stop-color="#dcbd29"/><stop offset="0.7937" stop-color="#e6bb2d"/><stop offset="0.8095" stop-color="#f0ba36"/><stop offset="0.8254" stop-color="#f8ba3d"/><stop offset="0.8413" stop-color="#febe3c"/><stop offset="0.8571" stop-color="#fec338"/><stop offset="0.8730" stop-color="#fec934"/><stop offset="0.8889" stop-color="#fccf30"/><stop offset="0.9048" stop-color="#fad62d"/><stop offset="0.9206" stop-color="#f7dc2a"/><stop offset="0.9365" stop-color="#f5e327"/><stop offset="0.9524" stop-color="#f5e924"/><stop offset="0.9683" stop-color="#f6ef20"/><stop offset="0.9841" stop-color="#f7f51b"/><stop offset="1.0000" stop-color="#f9fb15"/></linearGradient></defs>
<rect x="859.6" y="161.4" width="11.9" height="281.5" fill="url(#cb939)"/>
<path d="M859.6 442.9V161.2H871.5" fill="none" stroke="#8f8fb0" stroke-opacity=".7" stroke-width="0.8"/>
<text transform="translate(856.90 420.00) scale(0.74 1)" font-size="11.7" text-anchor="end" font-weight="bold" fill="#111" stroke="#111" stroke-width=".25">0.2</text>
<text transform="translate(856.90 392.58) scale(0.74 1)" font-size="11.7" text-anchor="end" font-weight="bold" fill="#111" stroke="#111" stroke-width=".25">0.4</text>
<text transform="translate(856.90 365.16) scale(0.74 1)" font-size="11.7" text-anchor="end" font-weight="bold" fill="#111" stroke="#111" stroke-width=".25">0.6</text>
<text transform="translate(856.90 337.74) scale(0.74 1)" font-size="11.7" text-anchor="end" font-weight="bold" fill="#111" stroke="#111" stroke-width=".25">0.8</text>
<text transform="translate(856.90 310.32) scale(0.74 1)" font-size="11.7" text-anchor="end" font-weight="bold" fill="#111" stroke="#111" stroke-width=".25">1</text>
<text transform="translate(856.90 282.90) scale(0.74 1)" font-size="11.7" text-anchor="end" font-weight="bold" fill="#111" stroke="#111" stroke-width=".25">1.2</text>
<text transform="translate(856.90 255.48) scale(0.74 1)" font-size="11.7" text-anchor="end" font-weight="bold" fill="#111" stroke="#111" stroke-width=".25">1.4</text>
<text transform="translate(856.90 228.06) scale(0.74 1)" font-size="11.7" text-anchor="end" font-weight="bold" fill="#111" stroke="#111" stroke-width=".25">1.6</text>
<text transform="translate(856.90 200.64) scale(0.74 1)" font-size="11.7" text-anchor="end" font-weight="bold" fill="#111" stroke="#111" stroke-width=".25">1.8</text>
<text transform="translate(856.90 173.22) scale(0.74 1)" font-size="11.7" text-anchor="end" font-weight="bold" fill="#111" stroke="#111" stroke-width=".25">2</text>
<path d="M859.9 415.9h2.6M859.9 388.5h2.6M859.9 361.1h2.6M859.9 333.6h2.6M859.9 306.2h2.6M859.9 278.8h2.6M859.9 251.4h2.6M859.9 224.0h2.6M859.9 196.5h2.6M859.9 169.1h2.6" stroke="#333" stroke-opacity=".75" stroke-width="0.8" fill="none"/>
<text transform="translate(860.5 159.1) scale(.92 1)" font-size="11.4" fill="#111"><tspan fill="#333">×</tspan><tspan font-weight="bold">10</tspan><tspan dy="-5.2" font-size="8.4" font-weight="bold">-6</tspan></text>
<path d="M1017.2 351.7h30.4M1032.4 340.2v23M1021.2 343.2l22.4 17M1021.2 360.2l22.4 -17" stroke="#000" stroke-opacity=".72" stroke-width="1.05" fill="none"/>
<circle cx="1032.4" cy="351.7" r="1.3" fill="#000"/>
<text transform="translate(995.30 356.60)" font-size="18.6" text-anchor="start" fill="#000">/i/</text>
<path d="M1202.4 229.4h30.4M1217.6 217.9v23M1206.4 220.9l22.4 17M1206.4 237.9l22.4 -17" stroke="#000" stroke-opacity=".72" stroke-width="1.05" fill="none"/>
<circle cx="1217.6" cy="229.4" r="1.3" fill="#000"/>
<text transform="translate(1177.70 236.70)" font-size="18.6" text-anchor="start" fill="#000">/ε/</text>
<path d="M1457.6 156.9h30.4M1472.8 145.4v23M1461.6 148.4l22.4 17M1461.6 165.4l22.4 -17" stroke="#000" stroke-opacity=".72" stroke-width="1.05" fill="none"/>
<circle cx="1472.8" cy="156.9" r="1.3" fill="#000"/>
<text transform="translate(1435.60 162.00)" font-size="18.6" text-anchor="start" fill="#000">/α/</text>
<text transform="translate(415.25 16.60)" font-size="22.45" text-anchor="middle" fill="#000">Density of first 30 trials</text>
<text transform="translate(1279.50 16.60)" font-size="22.45" text-anchor="middle" fill="#000">Density of last 30 trials</text>
<text transform="translate(414.70 515.80)" font-size="22.45" text-anchor="middle" fill="#000">Accuracy</text>
<text transform="translate(1270.00 515.80)" font-size="22.5" text-anchor="middle" fill="#000">Consistency</text>
<text transform="translate(39.00 479.10) scale(0.9 1)" font-size="27.5" text-anchor="start" fill="#000">a.</text>
<text transform="translate(892.60 479.10)" font-size="26.5" text-anchor="start" fill="#000">b.</text>
<text transform="translate(39.00 993.50) scale(0.93 1)" font-size="25.5" text-anchor="start" fill="#000">c.</text>
<text transform="translate(892.00 993.50)" font-size="26.5" text-anchor="start" fill="#000">d.</text>
<polygon points="166.5,543.6 202.7,713.0 238.8,712.4 275.3,741.0 311.5,746.8 347.7,748.0 383.9,733.5 420.4,775.9 456.6,782.7 492.9,797.8 529.1,775.3 565.4,773.8 601.7,772.4 637.9,783.6 674.2,752.6 710.4,767.4 710.4,825.4 674.2,819.4 637.9,841.4 601.7,837.5 565.4,848.3 529.1,832.1 492.9,847.8 456.6,836.7 420.4,834.4 383.9,812.5 347.7,818.5 311.5,809.2 275.3,810.7 238.8,785.7 202.7,772.4 166.5,607.5" fill="#dadafb"/>
<polyline points="166.5,543.6 202.7,713.0 238.8,712.4 275.3,741.0 311.5,746.8 347.7,748.0 383.9,733.5 420.4,775.9 456.6,782.7 492.9,797.8 529.1,775.3 565.4,773.8 601.7,772.4 637.9,783.6 674.2,752.6 710.4,767.4" fill="none" stroke="#9d9df3" stroke-width="1"/>
<polyline points="166.5,607.5 202.7,772.4 238.8,785.7 275.3,810.7 311.5,809.2 347.7,818.5 383.9,812.5 420.4,834.4 456.6,836.7 492.9,847.8 529.1,832.1 565.4,848.3 601.7,837.5 637.9,841.4 674.2,819.4 710.4,825.4" fill="none" stroke="#9d9df3" stroke-width="1"/>
<polyline points="166.5,575.2 202.7,743.2 238.8,749.2 275.3,776.0 311.5,778.1 347.7,783.3 383.9,772.7 420.4,805.1 456.6,809.6 492.9,822.4 529.1,803.8 565.4,810.8 601.7,804.6 637.9,812.5 674.2,786.1 710.4,796.5" fill="none" stroke="#2a2ae6" stroke-width="1.25" stroke-linejoin="round"/>
<path d="M129.9 536.1H735.0M129.9 939.7H735.0" stroke="#808080" stroke-width="1.5" fill="none"/>
<path d="M130.3 536.1V939.7M734.6 536.1V939.7" stroke="#404040" stroke-width="1.15" fill="none"/>
<text transform="translate(129.90 962.30) scale(1.2 1)" font-size="16.6" text-anchor="middle" fill="#1a1a1a">0</text>
<text transform="translate(250.76 962.30) scale(1.2 1)" font-size="16.6" text-anchor="middle" fill="#1a1a1a">100</text>
<text transform="translate(371.62 962.30) scale(1.2 1)" font-size="16.6" text-anchor="middle" fill="#1a1a1a">200</text>
<text transform="translate(492.48 962.30) scale(1.2 1)" font-size="16.6" text-anchor="middle" fill="#1a1a1a">300</text>
<text transform="translate(613.34 962.30) scale(1.2 1)" font-size="16.6" text-anchor="middle" fill="#1a1a1a">400</text>
<text transform="translate(734.20 962.30) scale(1.2 1)" font-size="16.6" text-anchor="middle" fill="#1a1a1a">500</text>
<text transform="translate(122.90 946.30) scale(1.19 1)" font-size="16.6" text-anchor="end" fill="#1a1a1a">30</text>
<text transform="translate(122.90 888.64) scale(1.19 1)" font-size="16.6" text-anchor="end" fill="#1a1a1a">40</text>
<text transform="translate(122.90 830.99) scale(1.19 1)" font-size="16.6" text-anchor="end" fill="#1a1a1a">50</text>
<text transform="translate(122.90 773.33) scale(1.19 1)" font-size="16.6" text-anchor="end" fill="#1a1a1a">60</text>
<text transform="translate(122.90 715.67) scale(1.19 1)" font-size="16.6" text-anchor="end" fill="#1a1a1a">70</text>
<text transform="translate(122.90 658.01) scale(1.19 1)" font-size="16.6" text-anchor="end" fill="#1a1a1a">80</text>
<text transform="translate(122.90 600.36) scale(1.19 1)" font-size="16.6" text-anchor="end" fill="#1a1a1a">90</text>
<text transform="translate(122.90 542.70) scale(1.19 1)" font-size="16.6" text-anchor="end" fill="#1a1a1a">100</text>
<path d="M251.2 939.7v-5.6M251.2 536.1v5.4M372.0 939.7v-5.6M372.0 536.1v5.4M492.9 939.7v-5.6M492.9 536.1v5.4M613.7 939.7v-5.6M613.7 536.1v5.4M130.3 882.0h6.4M734.6 882.0h-6.4M130.3 824.4h6.4M734.6 824.4h-6.4M130.3 766.7h6.4M734.6 766.7h-6.4M130.3 709.1h6.4M734.6 709.1h-6.4M130.3 651.4h6.4M734.6 651.4h-6.4M130.3 593.8h6.4M734.6 593.8h-6.4" stroke="#262626" stroke-width="0.95" fill="none"/>
<text transform="translate(432.20 984.30) scale(1.24 1)" font-size="18.1" text-anchor="middle" fill="#1a1a1a">Trial</text>
<text transform="translate(80.00 738.40) rotate(-90) scale(1 1.2)" font-size="18.06" text-anchor="middle" fill="#1a1a1a">Average Euclidean distance from target (mm)</text>
<polygon points="1003.3,541.5 1039.6,778.4 1075.8,771.4 1112.0,814.2 1148.3,814.9 1184.6,820.9 1220.9,829.9 1257.2,882.7 1293.5,852.9 1329.8,868.6 1366.1,866.4 1402.4,843.6 1438.6,847.4 1474.9,887.5 1511.2,865.1 1547.5,870.2 1547.5,920.7 1511.2,908.7 1474.9,926.0 1438.6,916.7 1402.4,915.4 1366.1,930.2 1329.8,927.3 1293.5,908.3 1257.2,921.8 1220.9,911.2 1184.6,900.6 1148.3,876.5 1112.0,897.1 1075.8,868.1 1039.6,855.3 1003.3,627.1" fill="#ffdada"/>
<polyline points="1003.3,541.5 1039.6,778.4 1075.8,771.4 1112.0,814.2 1148.3,814.9 1184.6,820.9 1220.9,829.9 1257.2,882.7 1293.5,852.9 1329.8,868.6 1366.1,866.4 1402.4,843.6 1438.6,847.4 1474.9,887.5 1511.2,865.1 1547.5,870.2" fill="none" stroke="#ff9d9d" stroke-width="1"/>
<polyline points="1003.3,627.1 1039.6,855.3 1075.8,868.1 1112.0,897.1 1148.3,876.5 1184.6,900.6 1220.9,911.2 1257.2,921.8 1293.5,908.3 1329.8,927.3 1366.1,930.2 1402.4,915.4 1438.6,916.7 1474.9,926.0 1511.2,908.7 1547.5,920.7" fill="none" stroke="#ff9d9d" stroke-width="1"/>
<polyline points="1003.3,584.6 1039.6,817.2 1075.8,820.0 1112.0,855.7 1148.3,846.0 1184.6,860.4 1220.9,870.8 1257.2,902.4 1293.5,880.5 1329.8,898.0 1366.1,898.5 1402.4,879.7 1438.6,882.4 1474.9,906.9 1511.2,887.4 1547.5,895.4" fill="none" stroke="#f02020" stroke-width="1.25" stroke-linejoin="round"/>
<path d="M966.5 536.1H1572.1M966.5 939.7H1572.1" stroke="#808080" stroke-width="1.5" fill="none"/>
<path d="M966.9 536.1V939.7M1571.7 536.1V939.7" stroke="#404040" stroke-width="1.15" fill="none"/>
<text transform="translate(966.50 962.30) scale(1.2 1)" font-size="16.6" text-anchor="middle" fill="#1a1a1a">0</text>
<text transform="translate(1087.46 962.30) scale(1.2 1)" font-size="16.6" text-anchor="middle" fill="#1a1a1a">100</text>
<text transform="translate(1208.42 962.30) scale(1.2 1)" font-size="16.6" text-anchor="middle" fill="#1a1a1a">200</text>
<text transform="translate(1329.38 962.30) scale(1.2 1)" font-size="16.6" text-anchor="middle" fill="#1a1a1a">300</text>
<text transform="translate(1450.34 962.30) scale(1.2 1)" font-size="16.6" text-anchor="middle" fill="#1a1a1a">400</text>
<text transform="translate(1571.30 962.30) scale(1.2 1)" font-size="16.6" text-anchor="middle" fill="#1a1a1a">500</text>
<text transform="translate(959.50 946.30) scale(1.19 1)" font-size="16.6" text-anchor="end" fill="#1a1a1a">30</text>
<text transform="translate(959.50 888.64) scale(1.19 1)" font-size="16.6" text-anchor="end" fill="#1a1a1a">40</text>
<text transform="translate(959.50 830.99) scale(1.19 1)" font-size="16.6" text-anchor="end" fill="#1a1a1a">50</text>
<text transform="translate(959.50 773.33) scale(1.19 1)" font-size="16.6" text-anchor="end" fill="#1a1a1a">60</text>
<text transform="translate(959.50 715.67) scale(1.19 1)" font-size="16.6" text-anchor="end" fill="#1a1a1a">70</text>
<text transform="translate(959.50 658.01) scale(1.19 1)" font-size="16.6" text-anchor="end" fill="#1a1a1a">80</text>
<text transform="translate(959.50 600.36) scale(1.19 1)" font-size="16.6" text-anchor="end" fill="#1a1a1a">90</text>
<text transform="translate(959.50 542.70) scale(1.19 1)" font-size="16.6" text-anchor="end" fill="#1a1a1a">100</text>
<path d="M1087.9 939.7v-5.6M1087.9 536.1v5.4M1208.8 939.7v-5.6M1208.8 536.1v5.4M1329.8 939.7v-5.6M1329.8 536.1v5.4M1450.7 939.7v-5.6M1450.7 536.1v5.4M966.9 882.0h6.4M1571.7 882.0h-6.4M966.9 824.4h6.4M1571.7 824.4h-6.4M966.9 766.7h6.4M1571.7 766.7h-6.4M966.9 709.1h6.4M1571.7 709.1h-6.4M966.9 651.4h6.4M1571.7 651.4h-6.4M966.9 593.8h6.4M1571.7 593.8h-6.4" stroke="#262626" stroke-width="0.95" fill="none"/>
<text transform="translate(1269.00 984.30) scale(1.24 1)" font-size="18.1" text-anchor="middle" fill="#1a1a1a">Trial</text>
<text transform="translate(917.00 738.40) rotate(-90) scale(1 1.2)" font-size="18.06" text-anchor="middle" fill="#1a1a1a">Average Euclidean distance between responses (mm)</text>
</svg>
</body></html>
